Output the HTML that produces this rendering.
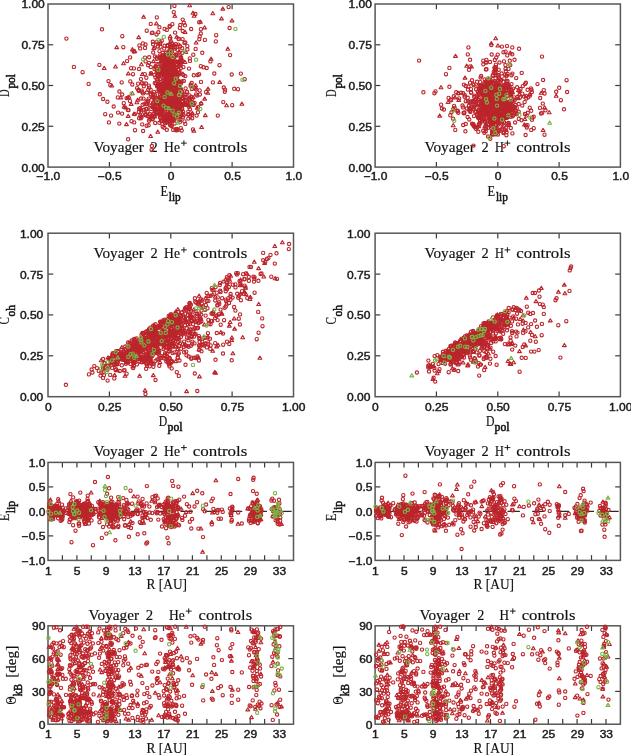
<!DOCTYPE html><html><head><meta charset="utf-8"><style>html,body{margin:0;padding:0;background:#fff;overflow:hidden}svg{display:block;filter:blur(0.35px)}</style></head><body><svg width="631" height="755" viewBox="0 0 631 755"><defs><marker id="rc" markerUnits="userSpaceOnUse" markerWidth="8" markerHeight="8" refX="4" refY="4" overflow="visible"><circle cx="4" cy="4" r="1.65" fill="none" stroke="#bb252b" stroke-width="1.1"/></marker><marker id="rt" markerUnits="userSpaceOnUse" markerWidth="8" markerHeight="8" refX="4" refY="4" overflow="visible"><path d="M4 2.25L5.9 5.4H2.1Z" fill="none" stroke="#bb252b" stroke-width="1.1" stroke-linejoin="round"/></marker><marker id="gc" markerUnits="userSpaceOnUse" markerWidth="8" markerHeight="8" refX="4" refY="4" overflow="visible"><circle cx="4" cy="4" r="1.65" fill="none" stroke="#78b446" stroke-width="1.1"/></marker><marker id="gt" markerUnits="userSpaceOnUse" markerWidth="8" markerHeight="8" refX="4" refY="4" overflow="visible"><path d="M4 2.25L5.9 5.4H2.1Z" fill="none" stroke="#78b446" stroke-width="1.1" stroke-linejoin="round"/></marker></defs><rect width="631" height="755" fill="#fff"/><line x1="375.1" y1="511.4" x2="620.4" y2="511.4" stroke="#2a2a2a" stroke-width="1.1" stroke-dasharray="12.4 12.3" stroke-dashoffset="15.8"/><line x1="48" y1="511.4" x2="293.5" y2="511.4" stroke="#2a2a2a" stroke-width="1.1" stroke-dasharray="12.4 12.3" stroke-dashoffset="15.8"/><line x1="109.4" y1="167.1" x2="109.4" y2="161.9" stroke="#3a3a3a" stroke-width="1.2"/><line x1="109.4" y1="4" x2="109.4" y2="9.2" stroke="#3a3a3a" stroke-width="1.2"/><line x1="170.8" y1="167.1" x2="170.8" y2="161.9" stroke="#3a3a3a" stroke-width="1.2"/><line x1="170.8" y1="4" x2="170.8" y2="9.2" stroke="#3a3a3a" stroke-width="1.2"/><line x1="232.1" y1="167.1" x2="232.1" y2="161.9" stroke="#3a3a3a" stroke-width="1.2"/><line x1="232.1" y1="4" x2="232.1" y2="9.2" stroke="#3a3a3a" stroke-width="1.2"/><line x1="48" y1="126.3" x2="53.2" y2="126.3" stroke="#3a3a3a" stroke-width="1.2"/><line x1="293.5" y1="126.3" x2="288.3" y2="126.3" stroke="#3a3a3a" stroke-width="1.2"/><line x1="48" y1="85.5" x2="53.2" y2="85.5" stroke="#3a3a3a" stroke-width="1.2"/><line x1="293.5" y1="85.5" x2="288.3" y2="85.5" stroke="#3a3a3a" stroke-width="1.2"/><line x1="48" y1="44.8" x2="53.2" y2="44.8" stroke="#3a3a3a" stroke-width="1.2"/><line x1="293.5" y1="44.8" x2="288.3" y2="44.8" stroke="#3a3a3a" stroke-width="1.2"/><rect x="48" y="4" width="245.5" height="163.1" fill="none" stroke="#555853" stroke-width="1.5"/><line x1="109.4" y1="396.7" x2="109.4" y2="391.5" stroke="#3a3a3a" stroke-width="1.2"/><line x1="109.4" y1="233.2" x2="109.4" y2="238.4" stroke="#3a3a3a" stroke-width="1.2"/><line x1="170.8" y1="396.7" x2="170.8" y2="391.5" stroke="#3a3a3a" stroke-width="1.2"/><line x1="170.8" y1="233.2" x2="170.8" y2="238.4" stroke="#3a3a3a" stroke-width="1.2"/><line x1="232.1" y1="396.7" x2="232.1" y2="391.5" stroke="#3a3a3a" stroke-width="1.2"/><line x1="232.1" y1="233.2" x2="232.1" y2="238.4" stroke="#3a3a3a" stroke-width="1.2"/><line x1="48" y1="355.8" x2="53.2" y2="355.8" stroke="#3a3a3a" stroke-width="1.2"/><line x1="293.5" y1="355.8" x2="288.3" y2="355.8" stroke="#3a3a3a" stroke-width="1.2"/><line x1="48" y1="314.9" x2="53.2" y2="314.9" stroke="#3a3a3a" stroke-width="1.2"/><line x1="293.5" y1="314.9" x2="288.3" y2="314.9" stroke="#3a3a3a" stroke-width="1.2"/><line x1="48" y1="274.1" x2="53.2" y2="274.1" stroke="#3a3a3a" stroke-width="1.2"/><line x1="293.5" y1="274.1" x2="288.3" y2="274.1" stroke="#3a3a3a" stroke-width="1.2"/><rect x="48" y="233.2" width="245.5" height="163.5" fill="none" stroke="#555853" stroke-width="1.5"/><line x1="62.4" y1="560.4" x2="62.4" y2="555.2" stroke="#3a3a3a" stroke-width="1.2"/><line x1="62.4" y1="462.4" x2="62.4" y2="467.6" stroke="#3a3a3a" stroke-width="1.2"/><line x1="76.9" y1="560.4" x2="76.9" y2="555.2" stroke="#3a3a3a" stroke-width="1.2"/><line x1="76.9" y1="462.4" x2="76.9" y2="467.6" stroke="#3a3a3a" stroke-width="1.2"/><line x1="91.3" y1="560.4" x2="91.3" y2="555.2" stroke="#3a3a3a" stroke-width="1.2"/><line x1="91.3" y1="462.4" x2="91.3" y2="467.6" stroke="#3a3a3a" stroke-width="1.2"/><line x1="105.8" y1="560.4" x2="105.8" y2="555.2" stroke="#3a3a3a" stroke-width="1.2"/><line x1="105.8" y1="462.4" x2="105.8" y2="467.6" stroke="#3a3a3a" stroke-width="1.2"/><line x1="120.2" y1="560.4" x2="120.2" y2="555.2" stroke="#3a3a3a" stroke-width="1.2"/><line x1="120.2" y1="462.4" x2="120.2" y2="467.6" stroke="#3a3a3a" stroke-width="1.2"/><line x1="134.6" y1="560.4" x2="134.6" y2="555.2" stroke="#3a3a3a" stroke-width="1.2"/><line x1="134.6" y1="462.4" x2="134.6" y2="467.6" stroke="#3a3a3a" stroke-width="1.2"/><line x1="149.1" y1="560.4" x2="149.1" y2="555.2" stroke="#3a3a3a" stroke-width="1.2"/><line x1="149.1" y1="462.4" x2="149.1" y2="467.6" stroke="#3a3a3a" stroke-width="1.2"/><line x1="163.5" y1="560.4" x2="163.5" y2="555.2" stroke="#3a3a3a" stroke-width="1.2"/><line x1="163.5" y1="462.4" x2="163.5" y2="467.6" stroke="#3a3a3a" stroke-width="1.2"/><line x1="178" y1="560.4" x2="178" y2="555.2" stroke="#3a3a3a" stroke-width="1.2"/><line x1="178" y1="462.4" x2="178" y2="467.6" stroke="#3a3a3a" stroke-width="1.2"/><line x1="192.4" y1="560.4" x2="192.4" y2="555.2" stroke="#3a3a3a" stroke-width="1.2"/><line x1="192.4" y1="462.4" x2="192.4" y2="467.6" stroke="#3a3a3a" stroke-width="1.2"/><line x1="206.9" y1="560.4" x2="206.9" y2="555.2" stroke="#3a3a3a" stroke-width="1.2"/><line x1="206.9" y1="462.4" x2="206.9" y2="467.6" stroke="#3a3a3a" stroke-width="1.2"/><line x1="221.3" y1="560.4" x2="221.3" y2="555.2" stroke="#3a3a3a" stroke-width="1.2"/><line x1="221.3" y1="462.4" x2="221.3" y2="467.6" stroke="#3a3a3a" stroke-width="1.2"/><line x1="235.7" y1="560.4" x2="235.7" y2="555.2" stroke="#3a3a3a" stroke-width="1.2"/><line x1="235.7" y1="462.4" x2="235.7" y2="467.6" stroke="#3a3a3a" stroke-width="1.2"/><line x1="250.2" y1="560.4" x2="250.2" y2="555.2" stroke="#3a3a3a" stroke-width="1.2"/><line x1="250.2" y1="462.4" x2="250.2" y2="467.6" stroke="#3a3a3a" stroke-width="1.2"/><line x1="264.6" y1="560.4" x2="264.6" y2="555.2" stroke="#3a3a3a" stroke-width="1.2"/><line x1="264.6" y1="462.4" x2="264.6" y2="467.6" stroke="#3a3a3a" stroke-width="1.2"/><line x1="279.1" y1="560.4" x2="279.1" y2="555.2" stroke="#3a3a3a" stroke-width="1.2"/><line x1="279.1" y1="462.4" x2="279.1" y2="467.6" stroke="#3a3a3a" stroke-width="1.2"/><line x1="48" y1="535.9" x2="53.2" y2="535.9" stroke="#3a3a3a" stroke-width="1.2"/><line x1="293.5" y1="535.9" x2="288.3" y2="535.9" stroke="#3a3a3a" stroke-width="1.2"/><line x1="48" y1="486.9" x2="53.2" y2="486.9" stroke="#3a3a3a" stroke-width="1.2"/><line x1="293.5" y1="486.9" x2="288.3" y2="486.9" stroke="#3a3a3a" stroke-width="1.2"/><rect x="48" y="462.4" width="245.5" height="98" fill="none" stroke="#555853" stroke-width="1.5"/><line x1="62.4" y1="724.2" x2="62.4" y2="719" stroke="#3a3a3a" stroke-width="1.2"/><line x1="62.4" y1="625.8" x2="62.4" y2="631" stroke="#3a3a3a" stroke-width="1.2"/><line x1="76.9" y1="724.2" x2="76.9" y2="719" stroke="#3a3a3a" stroke-width="1.2"/><line x1="76.9" y1="625.8" x2="76.9" y2="631" stroke="#3a3a3a" stroke-width="1.2"/><line x1="91.3" y1="724.2" x2="91.3" y2="719" stroke="#3a3a3a" stroke-width="1.2"/><line x1="91.3" y1="625.8" x2="91.3" y2="631" stroke="#3a3a3a" stroke-width="1.2"/><line x1="105.8" y1="724.2" x2="105.8" y2="719" stroke="#3a3a3a" stroke-width="1.2"/><line x1="105.8" y1="625.8" x2="105.8" y2="631" stroke="#3a3a3a" stroke-width="1.2"/><line x1="120.2" y1="724.2" x2="120.2" y2="719" stroke="#3a3a3a" stroke-width="1.2"/><line x1="120.2" y1="625.8" x2="120.2" y2="631" stroke="#3a3a3a" stroke-width="1.2"/><line x1="134.6" y1="724.2" x2="134.6" y2="719" stroke="#3a3a3a" stroke-width="1.2"/><line x1="134.6" y1="625.8" x2="134.6" y2="631" stroke="#3a3a3a" stroke-width="1.2"/><line x1="149.1" y1="724.2" x2="149.1" y2="719" stroke="#3a3a3a" stroke-width="1.2"/><line x1="149.1" y1="625.8" x2="149.1" y2="631" stroke="#3a3a3a" stroke-width="1.2"/><line x1="163.5" y1="724.2" x2="163.5" y2="719" stroke="#3a3a3a" stroke-width="1.2"/><line x1="163.5" y1="625.8" x2="163.5" y2="631" stroke="#3a3a3a" stroke-width="1.2"/><line x1="178" y1="724.2" x2="178" y2="719" stroke="#3a3a3a" stroke-width="1.2"/><line x1="178" y1="625.8" x2="178" y2="631" stroke="#3a3a3a" stroke-width="1.2"/><line x1="192.4" y1="724.2" x2="192.4" y2="719" stroke="#3a3a3a" stroke-width="1.2"/><line x1="192.4" y1="625.8" x2="192.4" y2="631" stroke="#3a3a3a" stroke-width="1.2"/><line x1="206.9" y1="724.2" x2="206.9" y2="719" stroke="#3a3a3a" stroke-width="1.2"/><line x1="206.9" y1="625.8" x2="206.9" y2="631" stroke="#3a3a3a" stroke-width="1.2"/><line x1="221.3" y1="724.2" x2="221.3" y2="719" stroke="#3a3a3a" stroke-width="1.2"/><line x1="221.3" y1="625.8" x2="221.3" y2="631" stroke="#3a3a3a" stroke-width="1.2"/><line x1="235.7" y1="724.2" x2="235.7" y2="719" stroke="#3a3a3a" stroke-width="1.2"/><line x1="235.7" y1="625.8" x2="235.7" y2="631" stroke="#3a3a3a" stroke-width="1.2"/><line x1="250.2" y1="724.2" x2="250.2" y2="719" stroke="#3a3a3a" stroke-width="1.2"/><line x1="250.2" y1="625.8" x2="250.2" y2="631" stroke="#3a3a3a" stroke-width="1.2"/><line x1="264.6" y1="724.2" x2="264.6" y2="719" stroke="#3a3a3a" stroke-width="1.2"/><line x1="264.6" y1="625.8" x2="264.6" y2="631" stroke="#3a3a3a" stroke-width="1.2"/><line x1="279.1" y1="724.2" x2="279.1" y2="719" stroke="#3a3a3a" stroke-width="1.2"/><line x1="279.1" y1="625.8" x2="279.1" y2="631" stroke="#3a3a3a" stroke-width="1.2"/><line x1="48" y1="691.4" x2="53.2" y2="691.4" stroke="#3a3a3a" stroke-width="1.2"/><line x1="293.5" y1="691.4" x2="288.3" y2="691.4" stroke="#3a3a3a" stroke-width="1.2"/><line x1="48" y1="658.6" x2="53.2" y2="658.6" stroke="#3a3a3a" stroke-width="1.2"/><line x1="293.5" y1="658.6" x2="288.3" y2="658.6" stroke="#3a3a3a" stroke-width="1.2"/><rect x="48" y="625.8" width="245.5" height="98.4" fill="none" stroke="#555853" stroke-width="1.5"/><line x1="436.4" y1="167.1" x2="436.4" y2="161.9" stroke="#3a3a3a" stroke-width="1.2"/><line x1="436.4" y1="4" x2="436.4" y2="9.2" stroke="#3a3a3a" stroke-width="1.2"/><line x1="497.8" y1="167.1" x2="497.8" y2="161.9" stroke="#3a3a3a" stroke-width="1.2"/><line x1="497.8" y1="4" x2="497.8" y2="9.2" stroke="#3a3a3a" stroke-width="1.2"/><line x1="559.1" y1="167.1" x2="559.1" y2="161.9" stroke="#3a3a3a" stroke-width="1.2"/><line x1="559.1" y1="4" x2="559.1" y2="9.2" stroke="#3a3a3a" stroke-width="1.2"/><line x1="375.1" y1="126.3" x2="380.3" y2="126.3" stroke="#3a3a3a" stroke-width="1.2"/><line x1="620.4" y1="126.3" x2="615.2" y2="126.3" stroke="#3a3a3a" stroke-width="1.2"/><line x1="375.1" y1="85.5" x2="380.3" y2="85.5" stroke="#3a3a3a" stroke-width="1.2"/><line x1="620.4" y1="85.5" x2="615.2" y2="85.5" stroke="#3a3a3a" stroke-width="1.2"/><line x1="375.1" y1="44.8" x2="380.3" y2="44.8" stroke="#3a3a3a" stroke-width="1.2"/><line x1="620.4" y1="44.8" x2="615.2" y2="44.8" stroke="#3a3a3a" stroke-width="1.2"/><rect x="375.1" y="4" width="245.3" height="163.1" fill="none" stroke="#555853" stroke-width="1.5"/><line x1="436.4" y1="396.7" x2="436.4" y2="391.5" stroke="#3a3a3a" stroke-width="1.2"/><line x1="436.4" y1="233.2" x2="436.4" y2="238.4" stroke="#3a3a3a" stroke-width="1.2"/><line x1="497.8" y1="396.7" x2="497.8" y2="391.5" stroke="#3a3a3a" stroke-width="1.2"/><line x1="497.8" y1="233.2" x2="497.8" y2="238.4" stroke="#3a3a3a" stroke-width="1.2"/><line x1="559.1" y1="396.7" x2="559.1" y2="391.5" stroke="#3a3a3a" stroke-width="1.2"/><line x1="559.1" y1="233.2" x2="559.1" y2="238.4" stroke="#3a3a3a" stroke-width="1.2"/><line x1="375.1" y1="355.8" x2="380.3" y2="355.8" stroke="#3a3a3a" stroke-width="1.2"/><line x1="620.4" y1="355.8" x2="615.2" y2="355.8" stroke="#3a3a3a" stroke-width="1.2"/><line x1="375.1" y1="314.9" x2="380.3" y2="314.9" stroke="#3a3a3a" stroke-width="1.2"/><line x1="620.4" y1="314.9" x2="615.2" y2="314.9" stroke="#3a3a3a" stroke-width="1.2"/><line x1="375.1" y1="274.1" x2="380.3" y2="274.1" stroke="#3a3a3a" stroke-width="1.2"/><line x1="620.4" y1="274.1" x2="615.2" y2="274.1" stroke="#3a3a3a" stroke-width="1.2"/><rect x="375.1" y="233.2" width="245.3" height="163.5" fill="none" stroke="#555853" stroke-width="1.5"/><line x1="389.5" y1="560.4" x2="389.5" y2="555.2" stroke="#3a3a3a" stroke-width="1.2"/><line x1="389.5" y1="462.4" x2="389.5" y2="467.6" stroke="#3a3a3a" stroke-width="1.2"/><line x1="404" y1="560.4" x2="404" y2="555.2" stroke="#3a3a3a" stroke-width="1.2"/><line x1="404" y1="462.4" x2="404" y2="467.6" stroke="#3a3a3a" stroke-width="1.2"/><line x1="418.4" y1="560.4" x2="418.4" y2="555.2" stroke="#3a3a3a" stroke-width="1.2"/><line x1="418.4" y1="462.4" x2="418.4" y2="467.6" stroke="#3a3a3a" stroke-width="1.2"/><line x1="432.8" y1="560.4" x2="432.8" y2="555.2" stroke="#3a3a3a" stroke-width="1.2"/><line x1="432.8" y1="462.4" x2="432.8" y2="467.6" stroke="#3a3a3a" stroke-width="1.2"/><line x1="447.2" y1="560.4" x2="447.2" y2="555.2" stroke="#3a3a3a" stroke-width="1.2"/><line x1="447.2" y1="462.4" x2="447.2" y2="467.6" stroke="#3a3a3a" stroke-width="1.2"/><line x1="461.7" y1="560.4" x2="461.7" y2="555.2" stroke="#3a3a3a" stroke-width="1.2"/><line x1="461.7" y1="462.4" x2="461.7" y2="467.6" stroke="#3a3a3a" stroke-width="1.2"/><line x1="476.1" y1="560.4" x2="476.1" y2="555.2" stroke="#3a3a3a" stroke-width="1.2"/><line x1="476.1" y1="462.4" x2="476.1" y2="467.6" stroke="#3a3a3a" stroke-width="1.2"/><line x1="490.5" y1="560.4" x2="490.5" y2="555.2" stroke="#3a3a3a" stroke-width="1.2"/><line x1="490.5" y1="462.4" x2="490.5" y2="467.6" stroke="#3a3a3a" stroke-width="1.2"/><line x1="505" y1="560.4" x2="505" y2="555.2" stroke="#3a3a3a" stroke-width="1.2"/><line x1="505" y1="462.4" x2="505" y2="467.6" stroke="#3a3a3a" stroke-width="1.2"/><line x1="519.4" y1="560.4" x2="519.4" y2="555.2" stroke="#3a3a3a" stroke-width="1.2"/><line x1="519.4" y1="462.4" x2="519.4" y2="467.6" stroke="#3a3a3a" stroke-width="1.2"/><line x1="533.8" y1="560.4" x2="533.8" y2="555.2" stroke="#3a3a3a" stroke-width="1.2"/><line x1="533.8" y1="462.4" x2="533.8" y2="467.6" stroke="#3a3a3a" stroke-width="1.2"/><line x1="548.3" y1="560.4" x2="548.3" y2="555.2" stroke="#3a3a3a" stroke-width="1.2"/><line x1="548.3" y1="462.4" x2="548.3" y2="467.6" stroke="#3a3a3a" stroke-width="1.2"/><line x1="562.7" y1="560.4" x2="562.7" y2="555.2" stroke="#3a3a3a" stroke-width="1.2"/><line x1="562.7" y1="462.4" x2="562.7" y2="467.6" stroke="#3a3a3a" stroke-width="1.2"/><line x1="577.1" y1="560.4" x2="577.1" y2="555.2" stroke="#3a3a3a" stroke-width="1.2"/><line x1="577.1" y1="462.4" x2="577.1" y2="467.6" stroke="#3a3a3a" stroke-width="1.2"/><line x1="591.5" y1="560.4" x2="591.5" y2="555.2" stroke="#3a3a3a" stroke-width="1.2"/><line x1="591.5" y1="462.4" x2="591.5" y2="467.6" stroke="#3a3a3a" stroke-width="1.2"/><line x1="606" y1="560.4" x2="606" y2="555.2" stroke="#3a3a3a" stroke-width="1.2"/><line x1="606" y1="462.4" x2="606" y2="467.6" stroke="#3a3a3a" stroke-width="1.2"/><line x1="375.1" y1="535.9" x2="380.3" y2="535.9" stroke="#3a3a3a" stroke-width="1.2"/><line x1="620.4" y1="535.9" x2="615.2" y2="535.9" stroke="#3a3a3a" stroke-width="1.2"/><line x1="375.1" y1="486.9" x2="380.3" y2="486.9" stroke="#3a3a3a" stroke-width="1.2"/><line x1="620.4" y1="486.9" x2="615.2" y2="486.9" stroke="#3a3a3a" stroke-width="1.2"/><rect x="375.1" y="462.4" width="245.3" height="98" fill="none" stroke="#555853" stroke-width="1.5"/><line x1="389.5" y1="724.2" x2="389.5" y2="719" stroke="#3a3a3a" stroke-width="1.2"/><line x1="389.5" y1="625.8" x2="389.5" y2="631" stroke="#3a3a3a" stroke-width="1.2"/><line x1="404" y1="724.2" x2="404" y2="719" stroke="#3a3a3a" stroke-width="1.2"/><line x1="404" y1="625.8" x2="404" y2="631" stroke="#3a3a3a" stroke-width="1.2"/><line x1="418.4" y1="724.2" x2="418.4" y2="719" stroke="#3a3a3a" stroke-width="1.2"/><line x1="418.4" y1="625.8" x2="418.4" y2="631" stroke="#3a3a3a" stroke-width="1.2"/><line x1="432.8" y1="724.2" x2="432.8" y2="719" stroke="#3a3a3a" stroke-width="1.2"/><line x1="432.8" y1="625.8" x2="432.8" y2="631" stroke="#3a3a3a" stroke-width="1.2"/><line x1="447.2" y1="724.2" x2="447.2" y2="719" stroke="#3a3a3a" stroke-width="1.2"/><line x1="447.2" y1="625.8" x2="447.2" y2="631" stroke="#3a3a3a" stroke-width="1.2"/><line x1="461.7" y1="724.2" x2="461.7" y2="719" stroke="#3a3a3a" stroke-width="1.2"/><line x1="461.7" y1="625.8" x2="461.7" y2="631" stroke="#3a3a3a" stroke-width="1.2"/><line x1="476.1" y1="724.2" x2="476.1" y2="719" stroke="#3a3a3a" stroke-width="1.2"/><line x1="476.1" y1="625.8" x2="476.1" y2="631" stroke="#3a3a3a" stroke-width="1.2"/><line x1="490.5" y1="724.2" x2="490.5" y2="719" stroke="#3a3a3a" stroke-width="1.2"/><line x1="490.5" y1="625.8" x2="490.5" y2="631" stroke="#3a3a3a" stroke-width="1.2"/><line x1="505" y1="724.2" x2="505" y2="719" stroke="#3a3a3a" stroke-width="1.2"/><line x1="505" y1="625.8" x2="505" y2="631" stroke="#3a3a3a" stroke-width="1.2"/><line x1="519.4" y1="724.2" x2="519.4" y2="719" stroke="#3a3a3a" stroke-width="1.2"/><line x1="519.4" y1="625.8" x2="519.4" y2="631" stroke="#3a3a3a" stroke-width="1.2"/><line x1="533.8" y1="724.2" x2="533.8" y2="719" stroke="#3a3a3a" stroke-width="1.2"/><line x1="533.8" y1="625.8" x2="533.8" y2="631" stroke="#3a3a3a" stroke-width="1.2"/><line x1="548.3" y1="724.2" x2="548.3" y2="719" stroke="#3a3a3a" stroke-width="1.2"/><line x1="548.3" y1="625.8" x2="548.3" y2="631" stroke="#3a3a3a" stroke-width="1.2"/><line x1="562.7" y1="724.2" x2="562.7" y2="719" stroke="#3a3a3a" stroke-width="1.2"/><line x1="562.7" y1="625.8" x2="562.7" y2="631" stroke="#3a3a3a" stroke-width="1.2"/><line x1="577.1" y1="724.2" x2="577.1" y2="719" stroke="#3a3a3a" stroke-width="1.2"/><line x1="577.1" y1="625.8" x2="577.1" y2="631" stroke="#3a3a3a" stroke-width="1.2"/><line x1="591.5" y1="724.2" x2="591.5" y2="719" stroke="#3a3a3a" stroke-width="1.2"/><line x1="591.5" y1="625.8" x2="591.5" y2="631" stroke="#3a3a3a" stroke-width="1.2"/><line x1="606" y1="724.2" x2="606" y2="719" stroke="#3a3a3a" stroke-width="1.2"/><line x1="606" y1="625.8" x2="606" y2="631" stroke="#3a3a3a" stroke-width="1.2"/><line x1="375.1" y1="691.4" x2="380.3" y2="691.4" stroke="#3a3a3a" stroke-width="1.2"/><line x1="620.4" y1="691.4" x2="615.2" y2="691.4" stroke="#3a3a3a" stroke-width="1.2"/><line x1="375.1" y1="658.6" x2="380.3" y2="658.6" stroke="#3a3a3a" stroke-width="1.2"/><line x1="620.4" y1="658.6" x2="615.2" y2="658.6" stroke="#3a3a3a" stroke-width="1.2"/><rect x="375.1" y="625.8" width="245.3" height="98.4" fill="none" stroke="#555853" stroke-width="1.5"/><text x="48.4" y="180.2" text-anchor="middle" font-family="Liberation Sans, sans-serif" font-size="10" fill="#1a1a1a" stroke="#1a1a1a" stroke-width="0.4" textLength="23.7" lengthAdjust="spacingAndGlyphs">−1.0</text><text x="109.8" y="180.2" text-anchor="middle" font-family="Liberation Sans, sans-serif" font-size="10" fill="#1a1a1a" stroke="#1a1a1a" stroke-width="0.4" textLength="23.7" lengthAdjust="spacingAndGlyphs">−0.5</text><text x="171.2" y="180.2" text-anchor="middle" font-family="Liberation Sans, sans-serif" font-size="10" fill="#1a1a1a" stroke="#1a1a1a" stroke-width="0.4" textLength="6.7" lengthAdjust="spacingAndGlyphs">0</text><text x="232.5" y="180.2" text-anchor="middle" font-family="Liberation Sans, sans-serif" font-size="10" fill="#1a1a1a" stroke="#1a1a1a" stroke-width="0.4" textLength="16.7" lengthAdjust="spacingAndGlyphs">0.5</text><text x="293.9" y="180.2" text-anchor="middle" font-family="Liberation Sans, sans-serif" font-size="10" fill="#1a1a1a" stroke="#1a1a1a" stroke-width="0.4" textLength="16.7" lengthAdjust="spacingAndGlyphs">1.0</text><text x="44.8" y="171.5" text-anchor="end" font-family="Liberation Sans, sans-serif" font-size="10" fill="#1a1a1a" stroke="#1a1a1a" stroke-width="0.4" textLength="23.4" lengthAdjust="spacingAndGlyphs">0.00</text><text x="44.8" y="130.8" text-anchor="end" font-family="Liberation Sans, sans-serif" font-size="10" fill="#1a1a1a" stroke="#1a1a1a" stroke-width="0.4" textLength="23.4" lengthAdjust="spacingAndGlyphs">0.25</text><text x="44.8" y="90" text-anchor="end" font-family="Liberation Sans, sans-serif" font-size="10" fill="#1a1a1a" stroke="#1a1a1a" stroke-width="0.4" textLength="23.4" lengthAdjust="spacingAndGlyphs">0.50</text><text x="44.8" y="49.2" text-anchor="end" font-family="Liberation Sans, sans-serif" font-size="10" fill="#1a1a1a" stroke="#1a1a1a" stroke-width="0.4" textLength="23.4" lengthAdjust="spacingAndGlyphs">0.75</text><text x="44.8" y="8.4" text-anchor="end" font-family="Liberation Sans, sans-serif" font-size="10" fill="#1a1a1a" stroke="#1a1a1a" stroke-width="0.4" textLength="23.4" lengthAdjust="spacingAndGlyphs">1.00</text><text x="48.3" y="410.7" text-anchor="middle" font-family="Liberation Sans, sans-serif" font-size="10" fill="#1a1a1a" stroke="#1a1a1a" stroke-width="0.4" textLength="6.7" lengthAdjust="spacingAndGlyphs">0</text><text x="109.7" y="410.7" text-anchor="middle" font-family="Liberation Sans, sans-serif" font-size="10" fill="#1a1a1a" stroke="#1a1a1a" stroke-width="0.4" textLength="23.4" lengthAdjust="spacingAndGlyphs">0.25</text><text x="171.1" y="410.7" text-anchor="middle" font-family="Liberation Sans, sans-serif" font-size="10" fill="#1a1a1a" stroke="#1a1a1a" stroke-width="0.4" textLength="23.4" lengthAdjust="spacingAndGlyphs">0.50</text><text x="232.4" y="410.7" text-anchor="middle" font-family="Liberation Sans, sans-serif" font-size="10" fill="#1a1a1a" stroke="#1a1a1a" stroke-width="0.4" textLength="23.4" lengthAdjust="spacingAndGlyphs">0.75</text><text x="293.8" y="410.7" text-anchor="middle" font-family="Liberation Sans, sans-serif" font-size="10" fill="#1a1a1a" stroke="#1a1a1a" stroke-width="0.4" textLength="23.4" lengthAdjust="spacingAndGlyphs">1.00</text><text x="43.3" y="401.1" text-anchor="end" font-family="Liberation Sans, sans-serif" font-size="10" fill="#1a1a1a" stroke="#1a1a1a" stroke-width="0.4" textLength="23.4" lengthAdjust="spacingAndGlyphs">0.00</text><text x="43.3" y="360.3" text-anchor="end" font-family="Liberation Sans, sans-serif" font-size="10" fill="#1a1a1a" stroke="#1a1a1a" stroke-width="0.4" textLength="23.4" lengthAdjust="spacingAndGlyphs">0.25</text><text x="43.3" y="319.4" text-anchor="end" font-family="Liberation Sans, sans-serif" font-size="10" fill="#1a1a1a" stroke="#1a1a1a" stroke-width="0.4" textLength="23.4" lengthAdjust="spacingAndGlyphs">0.50</text><text x="43.3" y="278.5" text-anchor="end" font-family="Liberation Sans, sans-serif" font-size="10" fill="#1a1a1a" stroke="#1a1a1a" stroke-width="0.4" textLength="23.4" lengthAdjust="spacingAndGlyphs">0.75</text><text x="43.3" y="237.6" text-anchor="end" font-family="Liberation Sans, sans-serif" font-size="10" fill="#1a1a1a" stroke="#1a1a1a" stroke-width="0.4" textLength="23.4" lengthAdjust="spacingAndGlyphs">1.00</text><text x="48.3" y="574.6" text-anchor="middle" font-family="Liberation Sans, sans-serif" font-size="10" fill="#1a1a1a" stroke="#1a1a1a" stroke-width="0.4" textLength="6.7" lengthAdjust="spacingAndGlyphs">1</text><text x="77.2" y="574.6" text-anchor="middle" font-family="Liberation Sans, sans-serif" font-size="10" fill="#1a1a1a" stroke="#1a1a1a" stroke-width="0.4" textLength="6.7" lengthAdjust="spacingAndGlyphs">5</text><text x="106.1" y="574.6" text-anchor="middle" font-family="Liberation Sans, sans-serif" font-size="10" fill="#1a1a1a" stroke="#1a1a1a" stroke-width="0.4" textLength="6.7" lengthAdjust="spacingAndGlyphs">9</text><text x="134.9" y="574.6" text-anchor="middle" font-family="Liberation Sans, sans-serif" font-size="10" fill="#1a1a1a" stroke="#1a1a1a" stroke-width="0.4" textLength="13.3" lengthAdjust="spacingAndGlyphs">13</text><text x="163.8" y="574.6" text-anchor="middle" font-family="Liberation Sans, sans-serif" font-size="10" fill="#1a1a1a" stroke="#1a1a1a" stroke-width="0.4" textLength="13.3" lengthAdjust="spacingAndGlyphs">17</text><text x="192.7" y="574.6" text-anchor="middle" font-family="Liberation Sans, sans-serif" font-size="10" fill="#1a1a1a" stroke="#1a1a1a" stroke-width="0.4" textLength="13.3" lengthAdjust="spacingAndGlyphs">21</text><text x="221.6" y="574.6" text-anchor="middle" font-family="Liberation Sans, sans-serif" font-size="10" fill="#1a1a1a" stroke="#1a1a1a" stroke-width="0.4" textLength="13.3" lengthAdjust="spacingAndGlyphs">25</text><text x="250.5" y="574.6" text-anchor="middle" font-family="Liberation Sans, sans-serif" font-size="10" fill="#1a1a1a" stroke="#1a1a1a" stroke-width="0.4" textLength="13.3" lengthAdjust="spacingAndGlyphs">29</text><text x="279.4" y="574.6" text-anchor="middle" font-family="Liberation Sans, sans-serif" font-size="10" fill="#1a1a1a" stroke="#1a1a1a" stroke-width="0.4" textLength="13.3" lengthAdjust="spacingAndGlyphs">33</text><text x="45.4" y="564.9" text-anchor="end" font-family="Liberation Sans, sans-serif" font-size="10" fill="#1a1a1a" stroke="#1a1a1a" stroke-width="0.4" textLength="23.7" lengthAdjust="spacingAndGlyphs">−1.0</text><text x="45.4" y="540.4" text-anchor="end" font-family="Liberation Sans, sans-serif" font-size="10" fill="#1a1a1a" stroke="#1a1a1a" stroke-width="0.4" textLength="23.7" lengthAdjust="spacingAndGlyphs">−0.5</text><text x="45.4" y="515.9" text-anchor="end" font-family="Liberation Sans, sans-serif" font-size="10" fill="#1a1a1a" stroke="#1a1a1a" stroke-width="0.4" textLength="16.7" lengthAdjust="spacingAndGlyphs">0.0</text><text x="45.4" y="491.3" text-anchor="end" font-family="Liberation Sans, sans-serif" font-size="10" fill="#1a1a1a" stroke="#1a1a1a" stroke-width="0.4" textLength="16.7" lengthAdjust="spacingAndGlyphs">0.5</text><text x="45.4" y="466.8" text-anchor="end" font-family="Liberation Sans, sans-serif" font-size="10" fill="#1a1a1a" stroke="#1a1a1a" stroke-width="0.4" textLength="16.7" lengthAdjust="spacingAndGlyphs">1.0</text><text x="48.3" y="738.1" text-anchor="middle" font-family="Liberation Sans, sans-serif" font-size="10" fill="#1a1a1a" stroke="#1a1a1a" stroke-width="0.4" textLength="6.7" lengthAdjust="spacingAndGlyphs">1</text><text x="77.2" y="738.1" text-anchor="middle" font-family="Liberation Sans, sans-serif" font-size="10" fill="#1a1a1a" stroke="#1a1a1a" stroke-width="0.4" textLength="6.7" lengthAdjust="spacingAndGlyphs">5</text><text x="106.1" y="738.1" text-anchor="middle" font-family="Liberation Sans, sans-serif" font-size="10" fill="#1a1a1a" stroke="#1a1a1a" stroke-width="0.4" textLength="6.7" lengthAdjust="spacingAndGlyphs">9</text><text x="134.9" y="738.1" text-anchor="middle" font-family="Liberation Sans, sans-serif" font-size="10" fill="#1a1a1a" stroke="#1a1a1a" stroke-width="0.4" textLength="13.3" lengthAdjust="spacingAndGlyphs">13</text><text x="163.8" y="738.1" text-anchor="middle" font-family="Liberation Sans, sans-serif" font-size="10" fill="#1a1a1a" stroke="#1a1a1a" stroke-width="0.4" textLength="13.3" lengthAdjust="spacingAndGlyphs">17</text><text x="192.7" y="738.1" text-anchor="middle" font-family="Liberation Sans, sans-serif" font-size="10" fill="#1a1a1a" stroke="#1a1a1a" stroke-width="0.4" textLength="13.3" lengthAdjust="spacingAndGlyphs">21</text><text x="221.6" y="738.1" text-anchor="middle" font-family="Liberation Sans, sans-serif" font-size="10" fill="#1a1a1a" stroke="#1a1a1a" stroke-width="0.4" textLength="13.3" lengthAdjust="spacingAndGlyphs">25</text><text x="250.5" y="738.1" text-anchor="middle" font-family="Liberation Sans, sans-serif" font-size="10" fill="#1a1a1a" stroke="#1a1a1a" stroke-width="0.4" textLength="13.3" lengthAdjust="spacingAndGlyphs">29</text><text x="279.4" y="738.1" text-anchor="middle" font-family="Liberation Sans, sans-serif" font-size="10" fill="#1a1a1a" stroke="#1a1a1a" stroke-width="0.4" textLength="13.3" lengthAdjust="spacingAndGlyphs">33</text><text x="45.4" y="728.7" text-anchor="end" font-family="Liberation Sans, sans-serif" font-size="10" fill="#1a1a1a" stroke="#1a1a1a" stroke-width="0.4" textLength="6.7" lengthAdjust="spacingAndGlyphs">0</text><text x="45.4" y="695.9" text-anchor="end" font-family="Liberation Sans, sans-serif" font-size="10" fill="#1a1a1a" stroke="#1a1a1a" stroke-width="0.4" textLength="13.3" lengthAdjust="spacingAndGlyphs">30</text><text x="45.4" y="663.1" text-anchor="end" font-family="Liberation Sans, sans-serif" font-size="10" fill="#1a1a1a" stroke="#1a1a1a" stroke-width="0.4" textLength="13.3" lengthAdjust="spacingAndGlyphs">60</text><text x="45.4" y="630.2" text-anchor="end" font-family="Liberation Sans, sans-serif" font-size="10" fill="#1a1a1a" stroke="#1a1a1a" stroke-width="0.4" textLength="13.3" lengthAdjust="spacingAndGlyphs">90</text><text x="375.5" y="180.2" text-anchor="middle" font-family="Liberation Sans, sans-serif" font-size="10" fill="#1a1a1a" stroke="#1a1a1a" stroke-width="0.4" textLength="23.7" lengthAdjust="spacingAndGlyphs">−1.0</text><text x="436.8" y="180.2" text-anchor="middle" font-family="Liberation Sans, sans-serif" font-size="10" fill="#1a1a1a" stroke="#1a1a1a" stroke-width="0.4" textLength="23.7" lengthAdjust="spacingAndGlyphs">−0.5</text><text x="498.1" y="180.2" text-anchor="middle" font-family="Liberation Sans, sans-serif" font-size="10" fill="#1a1a1a" stroke="#1a1a1a" stroke-width="0.4" textLength="6.7" lengthAdjust="spacingAndGlyphs">0</text><text x="559.5" y="180.2" text-anchor="middle" font-family="Liberation Sans, sans-serif" font-size="10" fill="#1a1a1a" stroke="#1a1a1a" stroke-width="0.4" textLength="16.7" lengthAdjust="spacingAndGlyphs">0.5</text><text x="620.8" y="180.2" text-anchor="middle" font-family="Liberation Sans, sans-serif" font-size="10" fill="#1a1a1a" stroke="#1a1a1a" stroke-width="0.4" textLength="16.7" lengthAdjust="spacingAndGlyphs">1.0</text><text x="371.9" y="171.5" text-anchor="end" font-family="Liberation Sans, sans-serif" font-size="10" fill="#1a1a1a" stroke="#1a1a1a" stroke-width="0.4" textLength="23.4" lengthAdjust="spacingAndGlyphs">0.00</text><text x="371.9" y="130.8" text-anchor="end" font-family="Liberation Sans, sans-serif" font-size="10" fill="#1a1a1a" stroke="#1a1a1a" stroke-width="0.4" textLength="23.4" lengthAdjust="spacingAndGlyphs">0.25</text><text x="371.9" y="90" text-anchor="end" font-family="Liberation Sans, sans-serif" font-size="10" fill="#1a1a1a" stroke="#1a1a1a" stroke-width="0.4" textLength="23.4" lengthAdjust="spacingAndGlyphs">0.50</text><text x="371.9" y="49.2" text-anchor="end" font-family="Liberation Sans, sans-serif" font-size="10" fill="#1a1a1a" stroke="#1a1a1a" stroke-width="0.4" textLength="23.4" lengthAdjust="spacingAndGlyphs">0.75</text><text x="371.9" y="8.4" text-anchor="end" font-family="Liberation Sans, sans-serif" font-size="10" fill="#1a1a1a" stroke="#1a1a1a" stroke-width="0.4" textLength="23.4" lengthAdjust="spacingAndGlyphs">1.00</text><text x="375.4" y="410.7" text-anchor="middle" font-family="Liberation Sans, sans-serif" font-size="10" fill="#1a1a1a" stroke="#1a1a1a" stroke-width="0.4" textLength="6.7" lengthAdjust="spacingAndGlyphs">0</text><text x="436.7" y="410.7" text-anchor="middle" font-family="Liberation Sans, sans-serif" font-size="10" fill="#1a1a1a" stroke="#1a1a1a" stroke-width="0.4" textLength="23.4" lengthAdjust="spacingAndGlyphs">0.25</text><text x="498.1" y="410.7" text-anchor="middle" font-family="Liberation Sans, sans-serif" font-size="10" fill="#1a1a1a" stroke="#1a1a1a" stroke-width="0.4" textLength="23.4" lengthAdjust="spacingAndGlyphs">0.50</text><text x="559.4" y="410.7" text-anchor="middle" font-family="Liberation Sans, sans-serif" font-size="10" fill="#1a1a1a" stroke="#1a1a1a" stroke-width="0.4" textLength="23.4" lengthAdjust="spacingAndGlyphs">0.75</text><text x="620.7" y="410.7" text-anchor="middle" font-family="Liberation Sans, sans-serif" font-size="10" fill="#1a1a1a" stroke="#1a1a1a" stroke-width="0.4" textLength="23.4" lengthAdjust="spacingAndGlyphs">1.00</text><text x="370.4" y="401.1" text-anchor="end" font-family="Liberation Sans, sans-serif" font-size="10" fill="#1a1a1a" stroke="#1a1a1a" stroke-width="0.4" textLength="23.4" lengthAdjust="spacingAndGlyphs">0.00</text><text x="370.4" y="360.3" text-anchor="end" font-family="Liberation Sans, sans-serif" font-size="10" fill="#1a1a1a" stroke="#1a1a1a" stroke-width="0.4" textLength="23.4" lengthAdjust="spacingAndGlyphs">0.25</text><text x="370.4" y="319.4" text-anchor="end" font-family="Liberation Sans, sans-serif" font-size="10" fill="#1a1a1a" stroke="#1a1a1a" stroke-width="0.4" textLength="23.4" lengthAdjust="spacingAndGlyphs">0.50</text><text x="370.4" y="278.5" text-anchor="end" font-family="Liberation Sans, sans-serif" font-size="10" fill="#1a1a1a" stroke="#1a1a1a" stroke-width="0.4" textLength="23.4" lengthAdjust="spacingAndGlyphs">0.75</text><text x="370.4" y="237.6" text-anchor="end" font-family="Liberation Sans, sans-serif" font-size="10" fill="#1a1a1a" stroke="#1a1a1a" stroke-width="0.4" textLength="23.4" lengthAdjust="spacingAndGlyphs">1.00</text><text x="375.4" y="574.6" text-anchor="middle" font-family="Liberation Sans, sans-serif" font-size="10" fill="#1a1a1a" stroke="#1a1a1a" stroke-width="0.4" textLength="6.7" lengthAdjust="spacingAndGlyphs">1</text><text x="404.3" y="574.6" text-anchor="middle" font-family="Liberation Sans, sans-serif" font-size="10" fill="#1a1a1a" stroke="#1a1a1a" stroke-width="0.4" textLength="6.7" lengthAdjust="spacingAndGlyphs">5</text><text x="433.1" y="574.6" text-anchor="middle" font-family="Liberation Sans, sans-serif" font-size="10" fill="#1a1a1a" stroke="#1a1a1a" stroke-width="0.4" textLength="6.7" lengthAdjust="spacingAndGlyphs">9</text><text x="462" y="574.6" text-anchor="middle" font-family="Liberation Sans, sans-serif" font-size="10" fill="#1a1a1a" stroke="#1a1a1a" stroke-width="0.4" textLength="13.3" lengthAdjust="spacingAndGlyphs">13</text><text x="490.8" y="574.6" text-anchor="middle" font-family="Liberation Sans, sans-serif" font-size="10" fill="#1a1a1a" stroke="#1a1a1a" stroke-width="0.4" textLength="13.3" lengthAdjust="spacingAndGlyphs">17</text><text x="519.7" y="574.6" text-anchor="middle" font-family="Liberation Sans, sans-serif" font-size="10" fill="#1a1a1a" stroke="#1a1a1a" stroke-width="0.4" textLength="13.3" lengthAdjust="spacingAndGlyphs">21</text><text x="548.6" y="574.6" text-anchor="middle" font-family="Liberation Sans, sans-serif" font-size="10" fill="#1a1a1a" stroke="#1a1a1a" stroke-width="0.4" textLength="13.3" lengthAdjust="spacingAndGlyphs">25</text><text x="577.4" y="574.6" text-anchor="middle" font-family="Liberation Sans, sans-serif" font-size="10" fill="#1a1a1a" stroke="#1a1a1a" stroke-width="0.4" textLength="13.3" lengthAdjust="spacingAndGlyphs">29</text><text x="606.3" y="574.6" text-anchor="middle" font-family="Liberation Sans, sans-serif" font-size="10" fill="#1a1a1a" stroke="#1a1a1a" stroke-width="0.4" textLength="13.3" lengthAdjust="spacingAndGlyphs">33</text><text x="372.5" y="564.9" text-anchor="end" font-family="Liberation Sans, sans-serif" font-size="10" fill="#1a1a1a" stroke="#1a1a1a" stroke-width="0.4" textLength="23.7" lengthAdjust="spacingAndGlyphs">−1.0</text><text x="372.5" y="540.4" text-anchor="end" font-family="Liberation Sans, sans-serif" font-size="10" fill="#1a1a1a" stroke="#1a1a1a" stroke-width="0.4" textLength="23.7" lengthAdjust="spacingAndGlyphs">−0.5</text><text x="372.5" y="515.9" text-anchor="end" font-family="Liberation Sans, sans-serif" font-size="10" fill="#1a1a1a" stroke="#1a1a1a" stroke-width="0.4" textLength="16.7" lengthAdjust="spacingAndGlyphs">0.0</text><text x="372.5" y="491.3" text-anchor="end" font-family="Liberation Sans, sans-serif" font-size="10" fill="#1a1a1a" stroke="#1a1a1a" stroke-width="0.4" textLength="16.7" lengthAdjust="spacingAndGlyphs">0.5</text><text x="372.5" y="466.8" text-anchor="end" font-family="Liberation Sans, sans-serif" font-size="10" fill="#1a1a1a" stroke="#1a1a1a" stroke-width="0.4" textLength="16.7" lengthAdjust="spacingAndGlyphs">1.0</text><text x="375.4" y="738.1" text-anchor="middle" font-family="Liberation Sans, sans-serif" font-size="10" fill="#1a1a1a" stroke="#1a1a1a" stroke-width="0.4" textLength="6.7" lengthAdjust="spacingAndGlyphs">1</text><text x="404.3" y="738.1" text-anchor="middle" font-family="Liberation Sans, sans-serif" font-size="10" fill="#1a1a1a" stroke="#1a1a1a" stroke-width="0.4" textLength="6.7" lengthAdjust="spacingAndGlyphs">5</text><text x="433.1" y="738.1" text-anchor="middle" font-family="Liberation Sans, sans-serif" font-size="10" fill="#1a1a1a" stroke="#1a1a1a" stroke-width="0.4" textLength="6.7" lengthAdjust="spacingAndGlyphs">9</text><text x="462" y="738.1" text-anchor="middle" font-family="Liberation Sans, sans-serif" font-size="10" fill="#1a1a1a" stroke="#1a1a1a" stroke-width="0.4" textLength="13.3" lengthAdjust="spacingAndGlyphs">13</text><text x="490.8" y="738.1" text-anchor="middle" font-family="Liberation Sans, sans-serif" font-size="10" fill="#1a1a1a" stroke="#1a1a1a" stroke-width="0.4" textLength="13.3" lengthAdjust="spacingAndGlyphs">17</text><text x="519.7" y="738.1" text-anchor="middle" font-family="Liberation Sans, sans-serif" font-size="10" fill="#1a1a1a" stroke="#1a1a1a" stroke-width="0.4" textLength="13.3" lengthAdjust="spacingAndGlyphs">21</text><text x="548.6" y="738.1" text-anchor="middle" font-family="Liberation Sans, sans-serif" font-size="10" fill="#1a1a1a" stroke="#1a1a1a" stroke-width="0.4" textLength="13.3" lengthAdjust="spacingAndGlyphs">25</text><text x="577.4" y="738.1" text-anchor="middle" font-family="Liberation Sans, sans-serif" font-size="10" fill="#1a1a1a" stroke="#1a1a1a" stroke-width="0.4" textLength="13.3" lengthAdjust="spacingAndGlyphs">29</text><text x="606.3" y="738.1" text-anchor="middle" font-family="Liberation Sans, sans-serif" font-size="10" fill="#1a1a1a" stroke="#1a1a1a" stroke-width="0.4" textLength="13.3" lengthAdjust="spacingAndGlyphs">33</text><text x="372.5" y="728.7" text-anchor="end" font-family="Liberation Sans, sans-serif" font-size="10" fill="#1a1a1a" stroke="#1a1a1a" stroke-width="0.4" textLength="6.7" lengthAdjust="spacingAndGlyphs">0</text><text x="372.5" y="695.9" text-anchor="end" font-family="Liberation Sans, sans-serif" font-size="10" fill="#1a1a1a" stroke="#1a1a1a" stroke-width="0.4" textLength="13.3" lengthAdjust="spacingAndGlyphs">30</text><text x="372.5" y="663.1" text-anchor="end" font-family="Liberation Sans, sans-serif" font-size="10" fill="#1a1a1a" stroke="#1a1a1a" stroke-width="0.4" textLength="13.3" lengthAdjust="spacingAndGlyphs">60</text><text x="372.5" y="630.2" text-anchor="end" font-family="Liberation Sans, sans-serif" font-size="10" fill="#1a1a1a" stroke="#1a1a1a" stroke-width="0.4" textLength="13.3" lengthAdjust="spacingAndGlyphs">90</text><text x="93.5" y="151.5" font-size="13.9" textLength="50.4" font-family="Liberation Serif, serif" fill="#111" stroke="#111" lengthAdjust="spacingAndGlyphs" stroke-width="0.15">Voyager</text><text x="150.6" y="151.5" font-size="13.9" textLength="7.2" font-family="Liberation Serif, serif" fill="#111" stroke="#111" lengthAdjust="spacingAndGlyphs" stroke-width="0.15">2</text><text x="164.1" y="151.5" font-size="13.9" textLength="15.9" font-family="Liberation Serif, serif" fill="#111" stroke="#111" lengthAdjust="spacingAndGlyphs" stroke-width="0.15">He</text><path d="M181 143.1h5.8M183.9 140.4v5.4" stroke="#111" stroke-width="0.95"/><text x="192.8" y="151.5" font-size="13.9" textLength="54.6" font-family="Liberation Serif, serif" fill="#111" stroke="#111" lengthAdjust="spacingAndGlyphs" stroke-width="0.15">controls</text><text x="424.5" y="151.5" font-size="13.9" textLength="50.4" font-family="Liberation Serif, serif" fill="#111" stroke="#111" lengthAdjust="spacingAndGlyphs" stroke-width="0.15">Voyager</text><text x="481.6" y="151.5" font-size="13.9" textLength="7.2" font-family="Liberation Serif, serif" fill="#111" stroke="#111" lengthAdjust="spacingAndGlyphs" stroke-width="0.15">2</text><text x="495.1" y="151.5" font-size="13.9" textLength="8.9" font-family="Liberation Serif, serif" fill="#111" stroke="#111" lengthAdjust="spacingAndGlyphs" stroke-width="0.15">H</text><path d="M504.5 143.1h5.8M507.4 140.4v5.4" stroke="#111" stroke-width="0.95"/><text x="516.3" y="151.5" font-size="13.9" textLength="54.2" font-family="Liberation Serif, serif" fill="#111" stroke="#111" lengthAdjust="spacingAndGlyphs" stroke-width="0.15">controls</text><text x="93.5" y="258.3" font-size="13.9" textLength="50.4" font-family="Liberation Serif, serif" fill="#111" stroke="#111" lengthAdjust="spacingAndGlyphs" stroke-width="0.15">Voyager</text><text x="150.6" y="258.3" font-size="13.9" textLength="7.2" font-family="Liberation Serif, serif" fill="#111" stroke="#111" lengthAdjust="spacingAndGlyphs" stroke-width="0.15">2</text><text x="164.1" y="258.3" font-size="13.9" textLength="15.9" font-family="Liberation Serif, serif" fill="#111" stroke="#111" lengthAdjust="spacingAndGlyphs" stroke-width="0.15">He</text><path d="M181 249.9h5.8M183.9 247.2v5.4" stroke="#111" stroke-width="0.95"/><text x="192.8" y="258.3" font-size="13.9" textLength="54.6" font-family="Liberation Serif, serif" fill="#111" stroke="#111" lengthAdjust="spacingAndGlyphs" stroke-width="0.15">controls</text><text x="424.5" y="258.3" font-size="13.9" textLength="50.4" font-family="Liberation Serif, serif" fill="#111" stroke="#111" lengthAdjust="spacingAndGlyphs" stroke-width="0.15">Voyager</text><text x="481.6" y="258.3" font-size="13.9" textLength="7.2" font-family="Liberation Serif, serif" fill="#111" stroke="#111" lengthAdjust="spacingAndGlyphs" stroke-width="0.15">2</text><text x="495.1" y="258.3" font-size="13.9" textLength="8.9" font-family="Liberation Serif, serif" fill="#111" stroke="#111" lengthAdjust="spacingAndGlyphs" stroke-width="0.15">H</text><path d="M504.5 249.9h5.8M507.4 247.2v5.4" stroke="#111" stroke-width="0.95"/><text x="516.3" y="258.3" font-size="13.9" textLength="54.2" font-family="Liberation Serif, serif" fill="#111" stroke="#111" lengthAdjust="spacingAndGlyphs" stroke-width="0.15">controls</text><text x="93.5" y="456" font-size="13.9" textLength="50.4" font-family="Liberation Serif, serif" fill="#111" stroke="#111" lengthAdjust="spacingAndGlyphs" stroke-width="0.15">Voyager</text><text x="150.6" y="456" font-size="13.9" textLength="7.2" font-family="Liberation Serif, serif" fill="#111" stroke="#111" lengthAdjust="spacingAndGlyphs" stroke-width="0.15">2</text><text x="164.1" y="456" font-size="13.9" textLength="15.9" font-family="Liberation Serif, serif" fill="#111" stroke="#111" lengthAdjust="spacingAndGlyphs" stroke-width="0.15">He</text><path d="M181 447.6h5.8M183.9 444.9v5.4" stroke="#111" stroke-width="0.95"/><text x="192.8" y="456" font-size="13.9" textLength="54.6" font-family="Liberation Serif, serif" fill="#111" stroke="#111" lengthAdjust="spacingAndGlyphs" stroke-width="0.15">controls</text><text x="424.5" y="456" font-size="13.9" textLength="50.4" font-family="Liberation Serif, serif" fill="#111" stroke="#111" lengthAdjust="spacingAndGlyphs" stroke-width="0.15">Voyager</text><text x="481.6" y="456" font-size="13.9" textLength="7.2" font-family="Liberation Serif, serif" fill="#111" stroke="#111" lengthAdjust="spacingAndGlyphs" stroke-width="0.15">2</text><text x="495.1" y="456" font-size="13.9" textLength="8.9" font-family="Liberation Serif, serif" fill="#111" stroke="#111" lengthAdjust="spacingAndGlyphs" stroke-width="0.15">H</text><path d="M504.5 447.6h5.8M507.4 444.9v5.4" stroke="#111" stroke-width="0.95"/><text x="516.3" y="456" font-size="13.9" textLength="54.2" font-family="Liberation Serif, serif" fill="#111" stroke="#111" lengthAdjust="spacingAndGlyphs" stroke-width="0.15">controls</text><text x="88.6" y="619.8" font-size="13.9" textLength="50.4" font-family="Liberation Serif, serif" fill="#111" stroke="#111" lengthAdjust="spacingAndGlyphs" stroke-width="0.15">Voyager</text><text x="145.7" y="619.8" font-size="13.9" textLength="7.4" font-family="Liberation Serif, serif" fill="#111" stroke="#111" lengthAdjust="spacingAndGlyphs" stroke-width="0.15">2</text><text x="168.9" y="619.8" font-size="13.9" textLength="15.8" font-family="Liberation Serif, serif" fill="#111" stroke="#111" lengthAdjust="spacingAndGlyphs" stroke-width="0.15">He</text><path d="M185.8 611.1h5.8M188.7 608.4v5.4" stroke="#111" stroke-width="0.95"/><text x="198.6" y="619.8" font-size="13.9" textLength="53.6" font-family="Liberation Serif, serif" fill="#111" stroke="#111" lengthAdjust="spacingAndGlyphs" stroke-width="0.15">controls</text><text x="419.4" y="619.8" font-size="13.9" textLength="50.4" font-family="Liberation Serif, serif" fill="#111" stroke="#111" lengthAdjust="spacingAndGlyphs" stroke-width="0.15">Voyager</text><text x="477.2" y="619.8" font-size="13.9" textLength="7.1" font-family="Liberation Serif, serif" fill="#111" stroke="#111" lengthAdjust="spacingAndGlyphs" stroke-width="0.15">2</text><text x="499.5" y="619.8" font-size="13.9" textLength="9.5" font-family="Liberation Serif, serif" fill="#111" stroke="#111" lengthAdjust="spacingAndGlyphs" stroke-width="0.15">H</text><path d="M509.9 611.1h5.8M512.8 608.4v5.4" stroke="#111" stroke-width="0.95"/><text x="521.7" y="619.8" font-size="13.9" textLength="53.8" font-family="Liberation Serif, serif" fill="#111" stroke="#111" lengthAdjust="spacingAndGlyphs" stroke-width="0.15">controls</text><text x="160.6" y="196" font-size="13.9" textLength="7.6" font-family="Liberation Serif, serif" fill="#111" stroke="#111" lengthAdjust="spacingAndGlyphs" stroke-width="0.15">E</text><text x="168.8" y="201" font-size="11.5" textLength="11.9" font-family="Liberation Serif, serif" fill="#111" stroke="#111" lengthAdjust="spacingAndGlyphs" stroke-width="0.5">lip</text><text x="158.8" y="425.7" font-size="13.9" textLength="8.5" font-family="Liberation Serif, serif" fill="#111" stroke="#111" lengthAdjust="spacingAndGlyphs" stroke-width="0.15">D</text><text x="167.6" y="430.5" font-size="11.5" textLength="14.9" font-family="Liberation Serif, serif" fill="#111" stroke="#111" lengthAdjust="spacingAndGlyphs" stroke-width="0.5">pol</text><text x="146.6" y="588.9" font-size="13.9" textLength="40.4" font-family="Liberation Serif, serif" fill="#111" stroke="#111" lengthAdjust="spacingAndGlyphs" stroke-width="0.15">R [AU]</text><text x="146.6" y="752.7" font-size="13.9" textLength="40.4" font-family="Liberation Serif, serif" fill="#111" stroke="#111" lengthAdjust="spacingAndGlyphs" stroke-width="0.15">R [AU]</text><text x="487.6" y="196" font-size="13.9" textLength="7.6" font-family="Liberation Serif, serif" fill="#111" stroke="#111" lengthAdjust="spacingAndGlyphs" stroke-width="0.15">E</text><text x="495.9" y="201" font-size="11.5" textLength="11.9" font-family="Liberation Serif, serif" fill="#111" stroke="#111" lengthAdjust="spacingAndGlyphs" stroke-width="0.5">lip</text><text x="485.9" y="425.7" font-size="13.9" textLength="8.5" font-family="Liberation Serif, serif" fill="#111" stroke="#111" lengthAdjust="spacingAndGlyphs" stroke-width="0.15">D</text><text x="494.6" y="430.5" font-size="11.5" textLength="14.9" font-family="Liberation Serif, serif" fill="#111" stroke="#111" lengthAdjust="spacingAndGlyphs" stroke-width="0.5">pol</text><text x="473.6" y="588.9" font-size="13.9" textLength="40.4" font-family="Liberation Serif, serif" fill="#111" stroke="#111" lengthAdjust="spacingAndGlyphs" stroke-width="0.15">R [AU]</text><text x="473.6" y="752.7" font-size="13.9" textLength="40.4" font-family="Liberation Serif, serif" fill="#111" stroke="#111" lengthAdjust="spacingAndGlyphs" stroke-width="0.15">R [AU]</text><text transform="rotate(-90)" x="-97" y="8.9" font-size="13.9" textLength="7.7" font-family="Liberation Serif, serif" fill="#111" stroke="#111" lengthAdjust="spacingAndGlyphs" stroke-width="0.15">D</text><text transform="rotate(-90)" x="-88.6" y="14.6" font-size="11.5" textLength="14.6" font-family="Liberation Serif, serif" fill="#111" stroke="#111" lengthAdjust="spacingAndGlyphs" stroke-width="0.5">pol</text><text transform="rotate(-90)" x="-324.6" y="8.9" font-size="13.9" textLength="7.4" font-family="Liberation Serif, serif" fill="#111" stroke="#111" lengthAdjust="spacingAndGlyphs" stroke-width="0.15">C</text><text transform="rotate(-90)" x="-316.6" y="14.6" font-size="11.5" textLength="11.6" font-family="Liberation Serif, serif" fill="#111" stroke="#111" lengthAdjust="spacingAndGlyphs" stroke-width="0.5">oh</text><text transform="rotate(-90)" x="-521" y="9" font-size="13.9" textLength="7.4" font-family="Liberation Serif, serif" fill="#111" stroke="#111" lengthAdjust="spacingAndGlyphs" stroke-width="0.15">E</text><text transform="rotate(-90)" x="-513.2" y="14.6" font-size="11.5" textLength="12.4" font-family="Liberation Serif, serif" fill="#111" stroke="#111" lengthAdjust="spacingAndGlyphs" stroke-width="0.5">lip</text><text transform="rotate(-90)" x="-704.6" y="16" font-size="13.9" textLength="8.2" font-family="Liberation Serif, serif" fill="#111" stroke="#111" lengthAdjust="spacingAndGlyphs" stroke-width="0.15">Θ</text><text transform="rotate(-90)" x="-696.2" y="21.6" font-size="11.5" textLength="12.2" font-family="Liberation Serif, serif" fill="#111" stroke="#111" lengthAdjust="spacingAndGlyphs" stroke-width="0.5">kB</text><text transform="rotate(-90)" x="-677.8" y="16" font-size="13.9" textLength="32" font-family="Liberation Serif, serif" fill="#111" stroke="#111" lengthAdjust="spacingAndGlyphs" stroke-width="0.15">[deg]</text><text transform="rotate(-90)" x="-97" y="336" font-size="13.9" textLength="7.7" font-family="Liberation Serif, serif" fill="#111" stroke="#111" lengthAdjust="spacingAndGlyphs" stroke-width="0.15">D</text><text transform="rotate(-90)" x="-88.6" y="341.7" font-size="11.5" textLength="14.6" font-family="Liberation Serif, serif" fill="#111" stroke="#111" lengthAdjust="spacingAndGlyphs" stroke-width="0.5">pol</text><text transform="rotate(-90)" x="-324.6" y="336" font-size="13.9" textLength="7.4" font-family="Liberation Serif, serif" fill="#111" stroke="#111" lengthAdjust="spacingAndGlyphs" stroke-width="0.15">C</text><text transform="rotate(-90)" x="-316.6" y="341.7" font-size="11.5" textLength="11.6" font-family="Liberation Serif, serif" fill="#111" stroke="#111" lengthAdjust="spacingAndGlyphs" stroke-width="0.5">oh</text><text transform="rotate(-90)" x="-521" y="336.1" font-size="13.9" textLength="7.4" font-family="Liberation Serif, serif" fill="#111" stroke="#111" lengthAdjust="spacingAndGlyphs" stroke-width="0.15">E</text><text transform="rotate(-90)" x="-513.2" y="341.7" font-size="11.5" textLength="12.4" font-family="Liberation Serif, serif" fill="#111" stroke="#111" lengthAdjust="spacingAndGlyphs" stroke-width="0.5">lip</text><text transform="rotate(-90)" x="-704.6" y="343.1" font-size="13.9" textLength="8.2" font-family="Liberation Serif, serif" fill="#111" stroke="#111" lengthAdjust="spacingAndGlyphs" stroke-width="0.15">Θ</text><text transform="rotate(-90)" x="-696.2" y="348.7" font-size="11.5" textLength="12.2" font-family="Liberation Serif, serif" fill="#111" stroke="#111" lengthAdjust="spacingAndGlyphs" stroke-width="0.5">kB</text><text transform="rotate(-90)" x="-677.8" y="343.1" font-size="13.9" textLength="32" font-family="Liberation Serif, serif" fill="#111" stroke="#111" lengthAdjust="spacingAndGlyphs" stroke-width="0.15">[deg]</text><path d="M170.7 118.2L185.2 101.1 173.4 54.4 165.4 123.2 161 90.2 174.9 47 190.6 86 174.1 100.5 169.6 26.8 161.1 109.7 167.6 76.3 168.6 53.4 132.3 84.5 148.6 125.3 143.8 86.2 178.4 44.6 179.1 94.9 165.8 108.3 171 74 199.7 36.4 154.6 97.2 165.2 73.5 143.1 93.4 166.4 87.9 192.2 118.2 162.3 124.1 166.6 116.6 164.4 75.1 179.9 83.6 171.5 75.2 169.8 98.5 168.6 108.9 164.7 69.9 155.1 95.4 177.1 63.8 151.1 117.1 182 108.4 143.1 131 164.6 88.5 175.5 104.6 178.3 100 154.8 82.9 179.2 73.1 159.4 27.3 162.2 108.4 82.6 72.2 163.7 102.2 171.5 47.2 174.7 83.5 167 92.8 174.8 90.8 151.6 150.1 186.8 91.9 175.4 71.8 164.6 88.6 160.6 102.8 152.8 117.4 167.4 80.1 199.3 39.2 166.5 93.9 168.3 113.5 165.7 61.6 146.6 125.7 141.2 116.6 159.5 90.9 192.6 104.7 179.8 62.2 178.6 69.9 133.9 68.4 152.4 119.2 165.3 58.3 177.6 91 172.3 97.6 162 86.2 175.5 117.5 147.9 101.8 179 63.8 184.7 95.4 134.9 114.1 159.5 105.2 175 104.2 168 91.2 170.1 45.2 166.7 114.6 166.8 122.4 161 74.6 162.4 102.3 179 39.1 168.2 98.7 167.5 46 234.2 88.8 179.3 65.7 158.6 87.8 190 109.3 154.6 74.9 163 55.6 178.9 102.3 169.8 70.6 167.2 90.3 170 118.1 171.3 125.7 165.7 73.2 180.9 111.5 163.9 91.2 158.4 106.4 155.5 77.4 157.6 79.5 172.7 68 175.7 97.4 167 93.7 166.7 81.2 169.1 87.2 193 129.4 168.3 75.4 169 51.1 172.3 101.3 164.5 102.5 179.2 99.2 167.8 64 225 89.6 119.3 123.6 150.3 93.8 166.5 65.9 156.9 109.1 162.7 52.8 157.9 74.7 153.2 102.4 107.4 101.8 159.3 102.8 175.8 113.4 158.8 85.7 230.1 55.1 166.8 29.9 155.9 83.8 158.9 99 217.8 115.6 166.6 96.8 180.6 64.8 168.6 119.5 180.6 107.7 157.8 86.1 128.5 110.1 160 79 119.4 91.5 166.2 117.4 173.6 65.3 127.1 61.1 173.3 64.2 162.8 81.2 165.7 120.4 166.8 56.7 164.5 105.1 167 117.3 159.4 122.8 170.7 80.7 214.3 73.5 182.7 61.1 162.7 103.3 174.7 97.1 155.9 67.8 166 83.2 138.8 112 166.6 117.9 190.7 84.7 170.4 101 202.3 52.8 170.2 106.6 161.7 91 159.7 89.7 173 80.2 170.6 93.7 165.6 104.1 174.4 115.2 173.9 90.9 160 103.7 142.9 43.4 176.5 104.7 165.4 95.2 175.9 111.6 187.4 49.4 166.7 88.6 168.9 71.2 216.2 35.2 141 109.8 180.3 96.9 161 84.6 161.9 92.1 149.9 105.4 164 85.5 164.1 69.2 158.7 98.9 184.6 97 163.9 61.8 155 56.5 175.6 105.6 138.5 90.3 162.7 101.3 223.3 102.1 165.3 119.1 179.8 108.7 191.4 97 139.1 108.6 204.9 39.9 189.5 103 170 125.1 177.6 92.2 190.4 116.7 187.1 92.1 157.4 64.1 180.6 83.7 175.7 96 150.1 119.3 174 107.7 160.2 43.6 167.3 119.3 197.2 95.5 160.5 107.3 182.2 48.3 244.7 79.2 165.7 72.1 201 103.8 170.6 124.5 150.9 94.8 173.5 78.8 156.5 113.3 162.2 71.8" fill="none" marker-start="url(#rc)" marker-mid="url(#rc)" marker-end="url(#rc)"/><path d="M226.6 105.3L201.2 103 115.5 66.6 132.4 93.3 185 62.1 127.6 97.6 160.3 105.6 167 55.4 179.4 51.7 142.3 74.1 181.8 94.5 208 88.7 197.2 107.8 232 20.5 185.1 32 166.1 116 166.1 87.3 120.8 97.5 241.9 103.9 165.9 104.9 182.9 73.9 136.8 102.3 207.8 92.9 169.7 62.8 131.2 104 134.8 51.2 125.8 107.5 170.7 68 143.6 16.9 104.2 68.1 181.5 112.5 174.4 44.9 153.2 107.1 157.5 74.6 172 66.4 182.1 90.8 166.3 79.2 163.1 67.6 222.8 8.7 158.8 72.8" fill="none" marker-start="url(#rt)" marker-mid="url(#rt)" marker-end="url(#rt)"/><path d="M169.7 84.2L173.6 70 142.3 92.2 165.7 72 176.9 110.2 172.8 62.4 149.2 57.3 169.3 104 131.5 121.2 181.1 111.2 170.7 88.2 108.5 81.1 163.4 102.1 160.4 88 134 51.4 139 90.9 174.4 111.8 162.2 73 162 109.3 113.7 106.5 175.6 84.5 178.9 74.5 165.2 87 171.1 90.6 184.4 42.9 164.9 102.3 166.7 96.2 173.9 110.7 175.1 86.2 177.2 100.5 174.7 123.5 171.6 93.5 173.6 45.5 161.4 106.2 174.1 78 168.2 94.2 178.2 109.9 161.6 87.5 164.5 93.5 169.6 115.4 140.2 108.2 193.8 104.7 176.6 115.4 172.7 104 170 111.7 171.9 48.3 122.3 36.2 145.1 114.5 173.7 105.5 170.6 56.6 102 29.3 168.2 54.8 165.9 96.5 141.2 111.8 175.9 54.8 176.1 110.6 159.4 113.5 173.8 12.1 158 84.2 169.3 98.6 182.2 109.1 145 57.6 172.4 82.6 118.1 112.6 174.1 57.2 128.1 139.3 173.2 129.9 169.9 77.5 145.5 114.4 189 106.8 170.2 89.8 161.6 90.5 156.8 17.4 167.5 62.1 167.8 105.7 166.5 65.5 184.9 25.3 160.6 96.5 169.3 67.3 219.5 65.2 167.7 45.3 155.1 107.9 174.4 56 159.3 71.8 166.1 59.7 172.9 76.9 171.5 60.6 163.2 67 169.6 91.5 170.8 90.2 167.3 79.5 166.5 116.6 167.2 59.5 188.3 118.6 165.8 94.5 171 50.4 162.3 63.5 173.6 95.2 177.4 49.8 179.7 116.6 193.8 75.3 145 47.9 164.4 89.9 141.7 90.6 157.8 85.8 167.5 96.4 151.8 33.1 175.1 48.6 182.7 31 185.5 94.4 193.3 54.7 176.6 55.6 167.1 102.6 155.8 114.6 167.9 81.9 175.2 69.9 122.2 94.5 164.9 104 172 80.4 173.2 65.9 174.4 5.9 167.8 100.1 168.6 96.2 175.9 81.4 164.7 75 172.5 120.6 165.4 67.3 159.2 84.7 171.2 82.8 155.2 123 200.9 29.2 175.7 94 123.8 103.2 168.6 72.2 180.6 83.3 173.8 73.2 168.3 101.6 172.3 79.3 73.9 66.9 148.9 85.6 166.3 65.5 159.1 98.4 141.1 98.5 170.2 49.7 169.1 63.7 170.1 90.3 183.1 111.9 179.7 46.3 174.5 112 168.8 86.6 176.7 109.3 172.8 62.5 175.6 98.7 183.4 67.1 145.5 115.3 159.5 99.8 172.2 43.9 212.9 82.4 161.6 92.7 175.5 80.5 173.6 86.5 133.5 51.3 154.3 102.1 172.6 98.1 171.8 99.1 123.3 47.2 173.7 117 163.5 72.3 182.4 81.2 152.5 32.7 165.3 108.6 156.7 42.1 146.6 101.5 180.7 116.3 146.8 108.8 111.1 115.6 169.8 112.6 148.8 98.6 154.1 92.1 166.8 115.5 175.3 71 161.7 108.5 168.9 68.6 167.3 121.7 161.7 111.6 172.1 114.2 172.9 88.8 178.5 93.3 170.3 117.9 157.9 85.7 163.2 58.7 172.9 106.2 171.4 61.8 179.2 115.9 153.3 94.3 146.2 103.9 165.5 103.1 177.4 102 228.6 7.1 170.2 74.3 174.7 60.2 105.2 114.2 169.8 44.3 164.4 57.4 168.9 81.9 162.7 89.3 163.9 76.9 172.2 120.5 150.7 89.9 167.8 72.6 174.5 84.9 152.7 118.9 174.1 65.4 163 89.3 169.5 91.9 168.1 74.2 177.6 105.8 158.3 108.9 175.5 71.2 173.2 114.2 165.4 104.9 171.4 88.3 170.4 64.8 186.3 99.9 178.5 106.2 161.9 57.3 159.6 114.6 179.1 88.2 139.1 118.3 160.5 70.8 164 98.1" fill="none" marker-start="url(#rc)" marker-mid="url(#rc)" marker-end="url(#rc)"/><path d="M204.7 98.7L111.8 85.6 175.7 94.9 162.2 55.6 128.2 116 165.3 105.3 152.6 97 141.4 64.3 162.7 94.6 165.4 79.7 173.2 91.6 195.6 85.3 188.3 114.1 192.3 113 153.8 48.2 169.6 49.6 154.7 116.5 179.4 111.1 172.3 91.1 193.9 130.8 177.4 87.1 164.6 95 164.9 117.9 132.4 49.4 159.3 82.6 173 119.3 185.8 52.1 176.4 87.9 189 98.5 162.1 112.2 164.8 62.8 116.7 47.2 137.7 99.8 174.4 82.7 164.4 78.6 163.1 97 164.2 108.3 201.6 127.1" fill="none" marker-start="url(#rt)" marker-mid="url(#rt)" marker-end="url(#rt)"/><path d="M156.6 72.6L108.9 122.4 179.6 108.5 171.9 110.2 178.5 88 166.3 93.9 173.3 109.9 156.1 103.5 176.5 116.7 165.9 72.4 183.3 99.1 167.2 93.2 165.5 88.7 149.3 116.9 161.5 65.4 168.7 121.9 169.8 25.9 142.2 124.4 179.8 61.5 140.9 118.3 168.3 115.9 164.5 69.6 154.9 106.3 168.2 81.7 175.2 72.4 198.1 107.3 146 109.2 174.6 102.7 178.5 99.5 168.3 55.9 167.9 71.5 171 84.3 194.9 88.6 224.8 91.7 200.8 33.5 159.7 55.7 160.5 46.8 170.1 60.7 177.6 90.4 164.7 65.5 168.4 94.7 168.8 90 191.7 83 159.7 58 180.3 105 156.7 57.6 169.2 69 158.6 77.8 163.2 84.2 164.5 56.9 189.9 60.9 148.1 65.2 171.4 59.4 166.8 129.8 164.6 45.8 176.8 67.6 168.5 82.7 166 69.6 179.7 72.3 189.8 58.4 210.4 61.4 191.8 89 164.6 115.8 166.2 63.4 185.3 123.9 160.6 118.2 174.8 62.2 157 79.3 164.1 95.3 162.9 100.3 150.8 67.1 175.7 102.7 158 75.9 154.5 69 203.5 67.3 181.2 104.6 147.7 111.6 169.2 106.4 195.6 48.9 182.7 19.6 148.4 100.7 180.8 128.1 196.6 115.6 117.8 97.4 179.2 104.6 180.2 103.8 99.8 94.3 182.9 117.3 174.9 104.8 160.5 104.9 184.7 104.4 154.4 114 176.3 54.6 171.5 94.6 165.7 59.5 231.7 74.5 183.9 80.9 149 120.7 168.6 100.2 163.4 94.6 160.7 71 151.3 108.9 175 93.1 181.7 130.5 181.7 104.8 182.8 98.1 163 115.8 165.3 81.5 163.6 110.8 171.7 126.2 156.7 112.3 165.6 103.8 170.1 69.7 164.4 102.5 170.9 74.1 176.2 61.9 161 99.3 160.1 56.9 144.8 74.2 175.9 44.2 181.8 61.5 170.4 86.4 141 79.1 180.1 87.9 177 129 169.7 120 188.3 111.6 175.1 32.6 153.2 52.5 160.2 71.2 240.8 73.6 167.1 108.4 157.9 103 164.2 66.1 170.1 38.8 131.1 68.2 133 74.2 154.9 110.3 155.9 110.2 159.7 68.9 176.2 91.8 168.3 86.7 169.3 89 170.3 46.9 146.7 30.7 238 89.2 173.3 85.5 140.2 48.4 168.2 55.3 169.4 74.1 176.5 130.4 164 107.1 163.3 96.9 160.4 73.3 179.2 81.5 151.4 105.5 162.8 101.4 158.6 111.2 164.8 96 163.8 121.3 173 58.8 165.9 52.7 166.7 80 166 89.6 173.3 113 199.2 22.3 174.3 99.1 165.7 62 161.8 40.7 166.7 98.6 161.7 115 167.8 81.8 163.5 117.1 167.2 114.6 172 51.4 146.9 92.5 164.2 48.6 173.1 102.2 167.2 96.9 180.6 82.1 156.5 97.9 160.6 108.4 144.5 104.1 178.7 62.2 191.1 29 159.1 71.1 167.9 64.4 196.2 89.5 189.3 97.6 175.8 113.6 163.3 94.1 126.6 98.1 169.9 71.2 182.7 114 166.4 63.4 180.1 65 197.6 75 157.7 109.4 157.1 86.4 168.8 101.8 170.5 121.4 153.1 44.3 66.4 38.6 164.3 92.7 158.4 72.4 175.1 112.1 167.6 54.4 157.9 72 183.9 103.6 167.5 115.9 169.2 73.1 168.8 94 191.9 99 161.3 107.8 160 94.6 165.6 92.5 164.8 55.2 151 73.1 141.5 117.3 155.1 109.1 199.1 74.2 163.8 101.6 183.3 105 183.7 115.3 161.5 59.9 153.2 103.3 150.7 23.9 160.3 42.3 179.1 61.2 163.6 97.1 165.8 59.4 170.8 90.2 156.1 113.4 164.4 120.4 167.9 62.2 110.3 85.1 176.4 112.2 164.3 127.8 160.8 112.8 143.5 98.6 157.3 100.7 170.2 110.8 177.9 86.6 159.5 51.2 170.3 67.7 169.5 76.4" fill="none" marker-start="url(#rc)" marker-mid="url(#rc)" marker-end="url(#rc)"/><path d="M170.2 77.1L194.1 15.8 161 60.9 157.2 72.4 177.5 129.9 138.7 37.2 172.6 103.1 171.8 109.8 211.1 58.9 157.8 131.8 200.5 21.9 156.4 23.5 180.9 57.4 174.8 15.9 193.1 97.2 193 12.9 178.8 80.5 221.5 18.5 219.7 82 173.2 59.7 153.4 61.2 189.7 5.3 196.1 42.6 150.8 73.7 150.6 136.1" fill="none" marker-start="url(#rt)" marker-mid="url(#rt)" marker-end="url(#rt)"/><path d="M160 117.3L176.1 115.9 166.3 118.7 157.8 46.5 164.5 105.8 170.6 105 166.2 72.7 148.3 89.8 170.6 88 178.8 83.4 181.3 59.1 173.6 102.4 164.4 103 162 74.7 178.5 55.4 171.9 69.5 172.1 76 158.3 32.3 165.1 92.3 185.3 76.1 161.2 90.9 189.4 95.4 161.7 119.3 175.6 99 166.2 53 173.9 114 143.5 83.6 180.1 46.5 181 89.3 174 106.8 161 120.9 169 94.6 164.1 63.8 171.8 116.3 176.3 96.6 165.6 117 165.9 78.3 145.6 61.4 168.8 101 160.8 114.8 155.2 100.1 163.8 97.6 232.2 105.2 160.5 96.9 169.9 91 179.5 103.1 180.4 119.7 185.3 42.4 174.5 108.9 170 95.1 103.1 99 174.9 66.6 182.6 39.1 165.5 105.8 162 120.9 157.2 69.7 199.7 90.4 167.4 84.4 201 81.9 146.4 103.7 174.2 69.6 215.8 41.4 162.7 126.8 160.8 84.6 188 104.8 146.3 77.7 170.1 55.6 159.2 91 160.7 105.9 183.4 75.1 151.5 115.7 167.1 85.6 162.3 102.4 168.1 70.2 170 69.6 170.4 73.4 176.3 108.1 194.6 102.9 176.4 90.8 169.2 83.2 180.1 121.8 172.9 103.5 197.9 112.3 177.3 76.3 154.5 47.9 160.9 70.8 170.4 44.2 177.1 81.9 163.3 91.1 149.2 87.6 167.2 57.8 172.1 116 182.1 52.9 206.1 91.9 121.7 82.4 163.8 82.1 181.1 57.1 163 55.6 138.1 83.7 183.8 22.8 170.9 74.2 170.5 115.2 168 93.5 169.4 63.5 162 113 163.4 106.8 223.8 87.5 174.2 91.1 174.6 111 147.7 116 88.6 83.9 171.6 65.3 161.7 108.9 139.4 45.4 130.1 57.4 159.2 102.6 175.6 61.8 168.5 90.3 178.5 38.8 163.4 110.8 134.2 122.4 176 90.6 159.3 86.9 157.4 91.4 158.2 43.6 167.2 105 164.7 94.9 179.8 27.9 170.2 87.9 130.3 81.4 171.2 107.5 167.4 98.1 170.3 63.5 140.3 115.7 189.1 104.2 157.5 101.6 162 106.8 166.9 73.9 163.6 67.2 152.8 41.8 199.9 94.5 184.5 121.4 156.8 58.9 178.6 119.9 141.9 83.2 99.4 64.9 137.1 88.1 150 114.3 188.3 114.6 174.5 74.6 165 97.2 168.4 58.6 184.9 100.9 175.7 84 161.8 61 182.9 101.2 169.2 53.1 171 63.3 186.2 104.6 156.5 34.5 164.2 94.1 176.6 79.4 200.8 66.2 145.5 44.5 187.3 46.1 164 107.4 169.3 80.7 176.1 67.5 156.9 101.9 191.8 103.4 163.4 90.5 164.6 28.9 195.4 14 151.9 146 127.9 110 162.3 70.9 135 130.2 165 111.2 179 99 196.1 94.4 179.6 88.7 175.4 129.2 167.4 64.4 192 114.7 149 62.9 193.1 102.7 169.5 108.1 170.8 83.6 145.9 83.5 178.8 98 189.9 99.7 181 61.9 229.6 28 170 62.4 142.6 104.8 185.6 88.4 176 113 163.2 68.8 139 69 167.7 84.2 167.6 82.3 172.3 117.9 122.1 113.6 160.2 68.6 170.6 71 206.7 68 180.8 68.3 165.5 100.2 161.2 74.8 172.7 80.9 144.3 109.8 166.3 82.7 167.5 60.4 167.8 64.1 163.8 82.9 161.5 67.3 185 104.6 170.8 120.9 177.4 103.6 172.4 24.2 153.6 97.9 165.3 76.4 153.4 113.5 138.5 89.7 167.4 79.7 179 73.4 156.2 112.5 180.3 25 158.7 70.5 175.9 112.1 168.2 106.3 129.9 100.9 176 75.7 169.8 88.2 189 68.6 173.1 89.5 158.5 64.3 194.5 87.4 182.1 92 174 120.1 175.8 85.4 166.3 105.3" fill="none" marker-start="url(#rc)" marker-mid="url(#rc)" marker-end="url(#rc)"/><path d="M162.1 114.3L174.4 104.8 171 40.3 174.7 97.6 175.4 74.9 176.7 36.8 169.4 97.1 175.8 101.7 212.8 13.3 126.5 124.2 170.2 36.3 177 95.1 155.1 65.9 205.3 115.2 129 96.9 166.6 67.7 204.6 27.5 227.8 48.8 168.2 95.8 124.1 106.7 188.6 105.2 123.5 63.3 128.3 73.5 180.5 110.8 156.1 104.3 175.2 108.8 134.1 113.7 166.8 93.5" fill="none" marker-start="url(#rt)" marker-mid="url(#rt)" marker-end="url(#rt)"/><path d="M491.9 86.5L525.9 125.4 504.6 101.8 506.9 75.6 487.3 85.1 489.1 101.7 474.3 97 441.9 108.5 503.7 131.9 492.8 106.2 498.9 100.5 504.2 108.4 490.2 114.9 484.4 104.6 508.2 85 527.5 125.2 483.3 106.2 489.5 85.3 484.5 95.1 482.2 103.9 504.3 78.4 503 103 540.2 98 488.3 113.3 516.8 108.1 496.2 106.5 497.7 107.6 479.7 119.9 509.4 107.3 508.1 99.1 489.9 107 491.1 111.3 500.7 108.2 490.1 102 481.3 107.4 502.7 119.6 500.3 88.6 495.2 115.1 505.8 115.5 511.2 114.9 533.7 128.2 494.9 95.5 505.4 112 481.6 112.4 499.1 130.1 504.5 115.6 454.1 105.9 507.7 117.3 498.3 93.2 507.5 81 478.6 95.2 493.5 106.2 486.6 107.8 485.2 103.3 495 100.7 450.3 115.3 509 114 502.9 103.9 486.4 59.9 484.7 79.4 503.7 146.2 525.6 135 524.1 96.6 489.9 120.3 499.3 118.2 503.6 107 488.9 88.9 484.2 83.3 492.3 97.9 495.3 120.1 476.2 111.6 567.1 92 532 119.8 528.3 97.3 498.6 124.3 481.2 75.9 566.6 80.2 470.5 102.5 490.1 96.2 503.9 125.9 508.7 114.6 491.4 94.4 496.2 90 514.6 100.5 500.2 86.2 506.9 103.6 501 94.3 500.5 114.9 469 105.8 495.3 116.5 492.2 110 490.1 103.8 556.2 91.8 491.1 108.7 488.7 87.4 483.4 96.1 509.9 95.3 504.6 115.3 508.5 90.3 479.4 90.1 509.8 104.4 512.4 73.6 500 115 482.1 100.1 512.3 107.3 503.1 91.4 479 88.5 485.8 131.2 525 84.1 488 98.6 493.4 123 478.8 117.6 505.4 65.1 497.5 85.5 493.9 108.8 512.5 101.5 531.9 92.1 500.9 104.9 486.2 127.4 497.7 116.7 479.6 117.9 497.9 134.5 488.8 93.4 468.4 47.4 480 117.1 478.4 86 497.9 118.1 465.4 131.3 501.7 114.4 508.5 68.9 510.7 116.7 496.2 131.2 485.9 69.4 508.6 124.9 511.9 101 499.6 101.8 509.6 106.8 495.7 108.9 508.1 87.4 475 126.9 501.1 101.2 511.5 101.7 501 80.3 483.2 130.8 423.4 92.3 507.5 106.4 517.6 96.7 477.2 127.3 488.6 83.3 478.5 117.1 492 134.1 479.5 124.8 485.1 104.5 478.8 124.3 542.8 103.6 486.2 100.7 493.1 116.2 489.8 107.9 497.9 92.3 505.4 116.5 504 97.4 480.2 111.7 489.8 98.4 493.2 134.6 494.5 104.2 486.8 99.6 473.3 84.1 483.4 105 493.7 94.7 493.3 95.7 490 119.3 498.7 103.9 474.2 126.5 501.1 100.4 490.6 125.8 508.6 110.2 484.9 93.2 492.1 106.6 496.8 99.9 493.6 119.7 493.4 111.9 493.8 95.9 469.5 102.1 487.3 98.7 495 70.4 504.9 87.3 491.5 108.2 499.4 107.5 496.1 115.6 480.4 86.3 503.5 85.7 518.7 111.8 494.9 133.7 449.4 86.8 498.7 117.7 495.9 117.9 494.6 114.5 493.4 98.3 503.1 88.2 489.8 105.8 487.3 100 489.4 86 506 107.3 494.8 117.4 500.6 86.7 498.8 77.7 564 109.3 493.7 109.1 488.2 95.7 488.1 87.7 517.1 87.3 498.9 113.3 508 110.6 469.3 119.5 494.4 120.4 487.6 114.6 508.1 87.7 497.5 117.6 496.7 87.7 500.4 111.7 494.9 109.7 510 105.4 484.5 87.3 493.7 107.7 506 102.2" fill="none" marker-start="url(#rc)" marker-mid="url(#rc)" marker-end="url(#rc)"/><path d="M488.8 104.9L519.3 94.4 503.5 115.4 501.2 104 505.8 106.8 524.9 119.1 484.8 126.3 549.2 112.3 487.6 112.8 511 106.3 479.3 107.3 481.8 118.3 471.5 66.6 495.4 106.6 505.7 106.2 543.1 130.1 483.9 111.6 490.9 93.9 484.5 102.1 478.2 99 496.7 128.1 495.2 107.1 493 101.6 496.1 95 491.1 126.6 487.2 112.3 482.4 120.4" fill="none" marker-start="url(#rt)" marker-mid="url(#rt)" marker-end="url(#rt)"/><path d="M494.8 60L508.6 123 505.5 108.2 489.9 99 490.8 118.1 507.3 83.8 483.3 64.3 499.7 100.3 481.9 121.5 481.8 116.2 488 127.9 493.2 96.2 481 90.9 485.5 62.4 494 88.7 499.6 92.1 485.6 103.7 513.4 110.4 470 82.7 461.1 92.8 498.2 108.9 480.6 77.5 482.7 114.5 490.9 103.4 489.3 117.4 493 92.3 503.3 109.2 485.6 100 487.8 108.1 485 121.8 477.1 115.4 509.6 86.1 509.1 89.9 524.6 102.1 477.7 91.4 471.2 92.6 512.1 92.2 488.2 107.4 514.5 59.8 494 99.9 483 94.5 492.6 117.8 510.2 107.6 435.5 91.4 494.3 93 490.1 97.6 496.3 100.9 501.2 117.5 493.8 118.6 502.6 102.2 489.8 86.9 491.5 102.1 491.3 45 531.2 129.9 489.5 117 473.6 103.9 490.3 97.4 502 97.4 484.1 108.9 504.2 92.7 493.3 112.9 497.6 111.5 501.1 102.8 485.2 84 490.9 102.2 488.2 124.4 506.6 112.4 503.8 90.2 478.5 103.1 492.1 102.7 515.1 122.5 507.6 73.9 448.6 97.9 511.2 93.9 493.6 98.6 487.9 102.5 485.8 113.1 499.9 79.2 506.3 116.9 490.2 100.9 542.2 112.9 510.3 104.8 495.3 88.1 453.1 118.8 485.6 105.5 493.5 123.4 518.8 118.9 467.8 54.4 504.4 117.2 490 97.3 492.8 95.4 498.2 131.4 484.2 100.8 492 109.1 490.7 109.7 481 103.4 497.7 105.3 514.1 97.4 492.8 81.6 543.8 90.1 492.4 112.6 482.8 93.1 489.4 118.6 508 104.7 495.5 134.3 499.1 113.5 488.5 115 491.5 106.4 471.8 106.9 473.6 124.5 497.3 127.9 533.7 116.8 530 95.6 515.5 105 504.9 97.3 498.7 69.7 505.5 68.9 487.4 83.7 473.4 108.4 463.6 113 493.9 96 488 136.5 510.8 128 493.5 89.2 526.6 115.6 495.8 101.6 494.7 81.2 480 85.1 484.6 112 496 107.9 489.5 108.9 500.7 94.8 455.3 129.9 479.6 115.8 475.4 100.2 489.1 107.7 489.7 115.8 497.1 112.2 531.2 110.8 507.5 123.7 465.8 101.2 494.3 114 505.2 105.2 485.9 98.1 486.4 62.6 463 107.4 487.9 111.4 506.4 75.8 498.6 112.5 482.9 107.2 502.3 118.2 502.7 127.2 504 87.2 525.9 95.9 494.2 117.5 488.1 83.8 484.3 97.2 496.1 91.6 470.9 101.4 490.7 107.3 508.1 85.2 484.6 108.9 485.5 120.3 478.1 117.8 495.2 72.7 490 97.1 499 120.1 499.7 130.9 508.6 106 494.2 120.4 499.5 109.5 492.2 107.6 512.9 110.2 503.3 111.8 490.9 118.1 472.1 123.8 470.1 59.8 496 105.5 502.4 121.8 488.7 85.2 443.9 109.5 501 87.4 489.2 88 498.5 97 527.6 89.8 502.8 96.5 501.4 118.8 485.6 128.8 512.4 133.4 489.2 113.6 490.8 96.1 484.4 132.7 469.1 109.9 490.3 138.8 486 106.2 496.2 100.3 486.4 100.6 474.3 95.6 503.7 109.8 510.3 65.1 521.7 72.9 488.9 79.2 505.5 117.5 510.1 102.8 506 107.8 489.5 90.8 498.9 108.2 495.6 78.4 488.2 107.5 494.4 105.5 508.2 110.8 507.2 117.1 487.5 107.8 497.9 81.6 480.2 121.1 491.6 92.9 482.4 101.3 482.2 108.5 497 98.4 487.6 80.3" fill="none" marker-start="url(#rc)" marker-mid="url(#rc)" marker-end="url(#rc)"/><path d="M488.9 110.1L493.6 116.5 496.1 83.1 493.2 108.6 541.2 92.9 497.9 45.6 529.8 94 441 87.4 481.4 110.8 507.3 102.6 513 106 484.8 114.7 493.7 101.4 491.2 110.9 518.5 90.1 501.8 90.6 486.3 79.9 488.7 99.1 512.6 92.2 439.7 115.7 486.3 124.5 491.3 43.4 505.9 130 495.6 106 495.6 112.8 491.4 93.1 453.2 125.3 448.1 102.1" fill="none" marker-start="url(#rt)" marker-mid="url(#rt)" marker-end="url(#rt)"/><path d="M497.8 114.4L490.4 122.3 487.1 92.9 488.7 113.3 470 111.1 503.4 81.9 493.7 113 497.8 111.5 513 115.5 487.5 104.8 484.5 95.6 500.3 91 495.5 72.7 495.9 67.1 493.9 97.6 463.9 84.6 453.8 96.3 525.1 114 521.5 120.3 465.8 124 525.9 82.8 501 95.5 486 96.8 496.8 92.5 499.7 108.9 487.9 97.5 496.2 95.9 497.7 54.6 493.7 102.1 492.2 104.3 479.7 115.1 462.5 105.5 511.5 84.1 480.8 89.4 501.2 87.5 494.5 67.4 511.6 109.3 470.4 111.9 507.3 55.4 486.1 81.9 484.4 104.2 504.9 93.4 485.9 96.5 492.3 100.5 478.2 110.7 506.4 117.9 480.6 112.2 485.1 90.7 492.1 134.6 487.8 109.9 463.2 93.3 501.2 106.8 495.3 99.1 482.8 104.2 491.2 105.9 466.8 108.5 480.8 89.5 491.3 108.2 494.9 97.5 464.6 96.8 492.1 125 487 109.4 498.7 122.9 501.2 109.3 491 92 495.5 92.5 495.9 64.7 487.8 106.1 481.7 88.4 499.2 89.1 485.2 108.6 490.2 113.6 479.2 89.6 502.2 121.6 479.7 112.2 498.9 78.2 559.2 87.8 482.2 88 488.7 115.2 495.1 96.5 513.1 88.6 496.2 92.7 491.2 113.6 491.5 104.9 473.8 85.2 473.7 101.8 504.9 74.6 513.6 99.5 503.8 96.1 544.6 93.5 494.1 111 543.1 80 492.5 114.6 508.9 124.4 513.5 106.5 497 91 482.6 106.8 508.9 107 450.8 99.5 484.5 87.5 487.3 89 503.3 94.7 492.2 116.7 467.9 101.3 474 116.1 511 90 498.6 113.7 478.9 93.7 494.2 87 506.2 105.7 469.9 108.2 476.7 95.6 493.6 104.3 488.4 98.8 514.8 107.3 491.1 116.4 516.5 114.3 480.2 82.2 482.4 101.5 494.4 83.5 500.2 98.7 499.2 92.1 492.8 102.9 494.7 108.5 477.1 81.8 506 113.2 457.7 110.8 502.2 109.3 485.6 109.5 489.5 90.7 493 74.9 537.5 84.1 503.5 93.2 493.5 116.7 481.6 98.4 477.7 115.1 486 102.6 492.5 111.1 493.4 98.3 494.2 116.7 502.2 114 497.3 122.2 506.2 128.1 511.6 89.6 484.7 108.4 497.1 88.1 479.8 123.3 485.4 86.9 496.1 69.4 493.3 110.7 489.6 100.7 478.6 110.4 494.9 128.4 492 109.8 471 89.2 486.4 98.7 494.7 68.2 503.2 111.4 490.4 80 490 62 512.3 47.4 476.3 98.8 492.6 75.9 508.6 111 510.7 93.3 496.6 119 519.4 91.2 474.6 101.8 483.9 91.7 496.6 75.2 522.4 93.7 495.1 95 490.4 113.7 504 61.4 493.7 128 464.8 95.3 474.5 106.9 495.6 91.3 484.3 85.5 475.2 111.9 469 69.8 492.3 132 519 48.8 508.5 92.4 505.8 71.3 493.4 88.3 480.7 109.6 465.7 86 495.1 132.7 478 104.2 458.3 112.8 496.7 97.6 493.1 111.4 498.6 75.3 486.8 101.4 488.2 120.5 501.4 123.3 501.8 88.2 506.7 81.7 495.9 82.8 494.1 102.6 504.8 104.6 492 130.7 489.9 103.5 458.3 93.4 483.6 106.1 484.6 91.8 527.8 112.8 490.9 108.8 477.1 127.5 504.8 102.9 493 105.8 491.7 81.6 507 46.1 492 118.3 477 96.1 478.4 91.8 492.1 123.9 493.2 116.7 467.8 97.8 490.5 109.4 468.5 86.5 506.7 111" fill="none" marker-start="url(#rc)" marker-mid="url(#rc)" marker-end="url(#rc)"/><path d="M458.7 100.1L495.7 95.6 480.8 104.5 492.1 115.9 518.3 98.2 502.3 93.3 498.7 95.8 478.7 126.3 494.6 88.6 492.6 132.2 493.1 101.5 503.5 97.2 501.7 92.6 488.2 110 489.7 100 455 97.5 458.6 93 506.8 103.6 505.7 84.2 465 77.7 503.3 113 500.4 85.5 466.7 65.9 485.2 95.1 482.6 92.9" fill="none" marker-start="url(#rt)" marker-mid="url(#rt)" marker-end="url(#rt)"/><path d="M509.3 114.4L501.9 46.6 499 88.3 470.8 107.3 481.7 112.2 482.2 86.4 456.2 92.3 496.7 104.8 486.6 102.3 493.3 87.7 449.4 67.9 464.1 113.2 488.7 100.8 492.4 106.3 491.2 91.4 484.3 117.1 506 104.7 498.1 101 484.8 106.8 501.1 107.4 512.3 54.3 503.5 52.2 499.3 108.7 507.5 104.7 490.6 112.2 509.1 115 491.2 100.6 491.4 114.2 509.9 93.9 493.8 120.3 490.4 122 493.1 98.1 489.6 108.5 487.4 92.7 487.2 94.4 481.1 112 488.2 91.7 490 111.6 463.2 125 502.9 104.4 503.5 117.7 453.1 109.2 476.1 89.3 512.4 109.8 491.4 85.3 473 101 482.9 110.7 495.9 94.1 487.7 90.9 503.6 102.9 506 108.8 494.7 114.4 480.7 112.6 526.8 127.5 504.1 117.1 499.5 62.5 504 96.2 525.3 114.1 464.4 112.4 457.4 111.4 451.5 112.3 495.7 101.1 492.5 101.6 507 111 530.9 88.4 522.8 86.1 505.8 117.9 495.9 117.3 506.6 132.2 498.8 101.5 492.4 91.1 511.5 75.2 472 80.3 486.2 104.9 516.8 113.3 493.8 107 504.1 94.7 446 74.2 520 97.4 498.5 108.7 490.8 99 520.5 89 522.3 105.6 532.3 117.6 531.5 89.8 491 81.9 515.3 113.1 493 107.8 500.7 120.5 493.2 112.9 492.9 116.4 491.7 54.5 501.7 115.6 486.1 97.7 487.5 108.9 495.2 122.2 493.7 89.6 472.9 123.9 497.9 108.4 495.9 109 496.8 111.5 496.7 133 500 116.8 489.9 110.6 419.1 60.6 494.6 108.5 505.6 51.7 518.7 104 489.9 110.9 488.4 110.2 509 101.6 512.5 109.5 510.6 113.3 493.8 71.7 502 99.5 478.3 131.8 506.4 135.2 491.3 82 467.9 89.6 486.5 69.3 545.5 110.3 499.5 98.8 473.8 109.3 506.1 88.3 498.3 122.3 496.2 86.8 482.2 87.8 514.6 110.4 490 104.8 504.9 111.2 503.4 133 479.7 114.3 504.1 94.7 493.7 109.8 476.6 104.8 488.3 104.5 495.5 124.3 500.8 92.9 498.2 107.4 497 111.3 508.4 110.7 542 56.6 501.6 73.5 494.8 111.5 486.8 97.1 492.8 130.3 506.2 115.2 486.1 95.8 486.3 109.1 500.2 105.9 475.8 128.8 484.9 98.6 493.4 89.6 487.1 112.4 497.8 96.8 489.7 122 467.6 117 471 92.6 497.5 117.2 488.3 102.8 493.8 97 497.8 75.1 485.8 108.5 496.3 57.5 516.2 78.1 489.6 109.4 451.1 100.3 491.3 121.1 489.4 108.6 502.2 128.6 491.9 96.5 504.1 122.2 483.9 87.5 481.8 116 483.6 117.1 493.6 105.6 512.6 116.3 495.9 91.2 509.8 60.8 511 95.5 473.4 125.5 507.3 92.9 509 104.6 474.8 105.2 495.5 110.5 498 83.7 505.3 97.9 490.8 122.3 434.4 93.2 494 105.3 560.9 100.2 541 113.5 505.3 92.6 500.3 105 489.7 91.3 488.9 103.5 514.9 107.8 473.5 145.6 454.7 107.9 459.1 98.4 512.3 112.6 526.3 98.5 486.7 115.4 493.2 104.3 494.3 108.7 491.7 95.1 470.2 66.4 501.3 101.7 499.5 118.4 529.7 107.7 500.3 117.9 540 107.9 492.7 108.1 502.1 95.2 478.1 99.8 494 100.9 495 100.6 496.8 112 488.2 100.8 544.5 134.7 499.6 82.6 490.9 115.9 483.3 60.7 499.8 94.1 497.9 97.2 441.1 104.7 483.3 87.7 497 85" fill="none" marker-start="url(#rc)" marker-mid="url(#rc)" marker-end="url(#rc)"/><path d="M481.1 103.4L510.4 102.4 488.4 114.9 492.1 111.8 495.3 91 482.3 109.3 501.2 105.4 510.3 52.7 556.2 95.9 544.6 107.5 483.1 93.9 524.4 124.6 509 84.7 495.7 38.4 492.6 87.3 504.6 85.1 479.3 93.8 484.5 119.2 493 118.7 492.9 109.7 490.9 110.4 485.8 123.8 455.5 56 498.6 97.8" fill="none" marker-start="url(#rt)" marker-mid="url(#rt)" marker-end="url(#rt)"/><path d="M249.5 266.9L171.5 331 149.9 329.8 155.6 330.8 248.9 280.8 125.9 363.7 142.5 339.5 137.3 348.2 243.9 293.8 175.1 330.2 191.8 336.5 207.9 333.2 191.9 333.7 130.1 352.7 119.9 359.1 136.2 348.3 148.7 340.3 121.2 358.8 208.3 296 177.7 357.5 239.6 280.9 266.9 258.9 135.5 360.1 217.6 320.1 179.5 321.4 172.2 315.5 128.1 354.5 142.7 333.3 167.1 346.8 128.1 342.5 220.6 292.1 171.4 328.8 155.2 339 147.4 354.4 110.7 357.9 154.8 347.5 134.5 353.9 135.7 349.9 160.7 341.5 140.9 358.4 125.2 346.5 130.5 364.1 166.4 339.1 179.8 316.2 254.5 277.1 186.7 307.3 101.4 372.5 169.9 358.5 128.2 359.4 170.3 349.5 210.5 324.2 149.6 343.5 232.9 284.7 231.7 360.3 161.7 324 175.1 335.1 191.6 320.7 148.1 343.2 189.8 303.7 154.9 328.7 162.2 321.9 217.8 297.4 180.2 329.3 142.1 337.7 240.4 283.5 258.4 280.8 105.2 368.3 169 364.6 169.5 366.4 168.7 315.9 170.8 316.7 180.4 326.2 156.2 338.6 157.2 333.8 110.2 374.9 153.4 366.8 215.1 318.1 207.5 308.3 125.7 355.3 261.5 273.4 151.4 335.8 167.6 319.3 156 352 135.2 360.3 176.6 319.7 142.3 338 183.4 322.6 131.4 347 164.9 338.9 141.6 340.4 186.7 328.3 163.5 349.1 166.9 343.2 175.8 330.5 168.8 346.4 220.1 283 220.2 290.8 178.5 319.7 159.8 325.6 147.1 344 103.1 359 143.4 342.2 179.4 345.8 173.3 336.3 223 333.6 191 318 160.6 333.5 213.5 290 198 327.8 167.1 343.5 177.8 357.9 131.4 353.6 154.6 332.1 155.5 348 194.9 327.9 247.3 298.1 158.9 339.2 150.5 356.3 262.5 326.2 134.2 339 230.6 294 148.5 359.1 129.5 353.7 179.6 322.1 164.3 339.5 141.6 348.8 206.7 292.9 229.3 275.3 175.6 325.3 159 344 149.4 339.7 143.4 342.4 165.9 333.6 168.7 359.4 190.6 329.9 194.2 357.8 178.5 320.2 187.8 315 142.6 340.4 220.7 324.7 176.5 319.3 167.7 360.7 199 336.2 94.3 366.1 189 307.1 152.9 354.8 174 322.4 169.5 341.5 171.3 329.2 134 356.5 126.7 355.4 158.1 348.9 190.8 320.3 127.6 356.5 178 342 170.1 344.9 112.8 353.3 166.2 336.5 152.8 343.4 150.9 344.2 155.5 380 165.9 326.7 215.6 287.1 178.2 324.3 169.5 351.2 116.4 357.8 183.3 333.2 190.9 345.7 176.4 331.7 195.7 334.2 158.5 335.7 165.9 335 140.7 346.3 168.1 325.1 152.3 355.9 150.7 335.8 203 344.7 168 341 154.9 347.1 155.5 328.6 129.5 356.2 138.3 352.5 164.6 324.6 128.9 351.7 238.8 318.7 223.6 281.6 208 344.2 189.5 303.7 210 338.7 232.6 297.6 170.3 340.6 177.5 319.4 211.8 288.2 270.5 254.9 183.3 316.6 225.5 288.5 254 281.6 253.4 276.6 173.2 318.3 169.5 334.9 131.5 353.1 167.2 356.8 190.2 315.2 141.9 342.6 134.5 340.4 217.5 305.3 141.3 359 134.7 354.6 203.1 306.5 136.9 364.4 197.1 314 196.2 322.1 173.2 341.7 215.5 359.8 157.9 352.6 152.4 347.4 188.4 340.3 178.6 319.1 181.3 332.9 142.5 333 129.6 358.7" fill="none" marker-start="url(#rc)" marker-mid="url(#rc)" marker-end="url(#rc)"/><path d="M149.2 333.2L145 390.4 126.5 362.4 241.5 285.3 234.6 328.7 177.9 309.3 160 362.1 143.4 342 198.3 357.2 172.5 345.7 231.7 340 231.9 337.6 117.4 364.1 212.7 294.4 212.7 350.9 116.1 364.5 172.1 343.5 132.9 366.5 169 343.9 185.1 307.7 227.1 284.4 215.6 372.8 140 359.2 264.6 263.1 213.2 311.6 220.9 332.2 144.3 346 217.3 314.8 134.5 362 153.3 375.2 135.2 350.7 175.6 311.7 108 357.5 173 322.5 242.7 337.3 230.1 322.1 225.5 279.6 258.7 304.1 139.9 343.1 139.6 375.8" fill="none" marker-start="url(#rt)" marker-mid="url(#rt)" marker-end="url(#rt)"/><path d="M188 332L179.1 320 138.8 349 108.1 365.8 173.3 334.3 190.9 315.9 162.5 342.6 201.4 321.2 228.9 287 138.6 354.5 235.4 284.4 184.9 325.2 160.4 358.2 159.4 350.8 154.5 335.8 170.7 339.1 201.2 314.6 258.6 332.7 158.9 352.4 192.4 341.6 171.3 324.8 107.6 380.6 167.9 332.7 199.9 317.4 156.6 336.7 168.5 343.3 157.1 332.8 145.9 357.1 133.8 342.9 151.9 340.3 204.2 345.5 166.3 359.2 173.2 346.6 126.3 362 91.6 369.5 192.8 318 149.5 360.8 175.3 346.6 133.9 365.7 154.8 338 170.3 323.7 265.3 262 150.4 360.9 219.1 314.2 225.8 306.6 178.8 375.9 127.4 346.6 199.4 304.9 122.9 353.7 197.3 391 198.9 360.5 166.7 353.6 171 338.5 240.9 300.2 125.4 350.1 142.1 358.6 132.7 346.8 236.2 273.2 166.6 327.4 227 341.7 170.8 361.6 110.1 359.6 109.1 359.3 177.6 333.2 163.2 327.3 256.7 339.2 135.1 341.8 228.2 278.2 141.2 351.2 197.5 328 121.4 358.3 178.3 311.8 133.9 345 190.9 304.8 167.2 326.3 123.8 370.4 117.8 351.2 184.1 341.7 178.4 337.9 166.3 321 199.4 313.6 129.3 351.5 119 358.7 165.9 335.6 163.9 332 263.2 252.9 184.1 352.3 162.8 343.3 103.1 377.9 244.6 279.3 240 314.4 141.5 334.7 196.3 302.7 176.7 325.4 114.5 364.9 65.9 384.8 181.7 312.6 126 360.4 134.8 345.9 152.7 351.1 105.1 363.2 177.9 329.2 150.1 332.2 132 359.8 117.8 360.6 174 336.6 151.2 332.6 157.8 327.9 156.1 339.2 155.5 324.3 171.7 362 118.4 355.8 175.6 318.5 144.7 341.3 117.6 362.4 186 345.7 244.4 279 162 342 98.8 370.9 146.6 349.1 169.7 346.8 157.8 339.5 200.4 321.9 159.4 335.7 199.6 318.5 217.4 305.3 171.7 368.4 219.3 303.9 131.7 340.5 166.5 322.6 164.7 335.2 186.9 337.7 160.3 355.7 193.3 331.6 189.7 303 152.2 335.6 150 333.6 149.2 357.3 125.3 356.1 142.2 342.9 157.4 350.7 165.1 353.3 201.5 351.3 88.9 374.4 166.3 361.4 201.5 310.6 199.3 338.9 158.4 327.7 119.3 354.8 184.1 317.8 179.2 331.3 190.3 317.2 254.3 278.8 126.7 355.1 143.3 340.6 201.8 303.5 160.7 338.4 96.9 368.1 189.8 309.1 172.9 340.7 288.8 249.1 148.4 336.7 173.9 319.5 129.1 350.6 143.4 333.3 189.9 323.7 152.4 330.7 178.4 328.5 220.6 309.6 123.6 355.7 235.5 287.4 153 332.8 138.3 356 131.7 350.6 198.5 322.7 193.1 324.2 149.9 353.3 179.4 327.3 147 363.9 168.8 332.6 155.5 341.3 144.8 337.8 289.1 244 134.4 350.2 118.1 351.7 228.4 298.1 146 363 202.3 341.8 176.8 331.5 150.7 359 128.5 356.8 225.6 299.6 148.5 345.8 185.2 333.8 245.8 273.5 189.8 328.7 189.5 331.7 212.4 289.9 104 375.1 192.2 343.7 158.8 343.5 230.4 296.5 216.8 292.7 131.6 349.4 195.6 310.9 112.3 354.5 242 291.2 172.4 324.4 133.3 358.7 153.5 349.6 100.5 375.6 142.8 348.1 143.3 360.9 92.4 372.5 251 267 130.3 347.9 201 319.3 160.9 323.3 212.1 321.2 150 356.8 133.4 361.1 195.8 358.1 216.8 333 103.1 368.2" fill="none" marker-start="url(#rc)" marker-mid="url(#rc)" marker-end="url(#rc)"/><path d="M206 337.9L156.1 346.8 226.6 303.6 246 294.2 244.5 291.7 142.2 345.1 215.3 296.6 282.4 242.4 175.2 322.8 230.7 275.8 145.7 354.5 177.5 349.2 199.5 376.5 263.8 276.6 139.2 344.4 145.4 340.4 240.4 293.7 258.6 268.2 254.3 261.8 151.6 361.9 125 375.9 275.1 278.3 202.1 299.7 218 344.9 240.6 279.7 117.3 370.2 221.5 313.4 114.2 361.6 216.6 346.5 144.9 357.5" fill="none" marker-start="url(#rt)" marker-mid="url(#rt)" marker-end="url(#rt)"/><path d="M177.9 354.5L168.7 335.4 168.8 326.8 181.2 324.9 133.6 350.5 115.6 370.1 136.6 343.8 133.1 362.6 143 352.2 155.4 346.4 191 310.7 168.8 333.6 154.9 326.6 175.3 335.9 176.8 338.5 136.7 349.9 157.4 343.3 234.1 307 185.2 308.1 208.2 342.4 179.8 315.1 127.3 361.5 189.7 307.5 126.6 373.7 244.6 285.7 142.2 346.6 148.4 352.7 199.5 301.4 138.2 348.7 205.1 309.9 208.4 319.9 157.6 335.9 170.1 334.6 160.1 321.7 151.1 363.5 151.3 341.1 198.1 302.2 169 333.9 146.1 338.6 134 346.8 139.5 351.2 119.7 354.7 186.5 355.3 152.8 348 193.6 329.3 216.2 316 145.2 347.4 205.6 315.6 222.1 298.2 194.8 373.5 153.6 329.2 104.3 362.9 229.3 344 142 362.2 131.3 350.3 121.5 358.2 143.8 350 158.8 354.7 167.6 336.2 178.4 317.2 167.9 362.4 127.8 353.1 175.5 326.3 172.9 335.5 113.2 356.1 147.4 341.2 201.5 307.2 191.2 358.7 172 319.9 174.3 344 189.2 321.7 148.3 355.6 115.8 356.6 130.1 351.4 180.1 329.5 116.2 363.4 196.7 315.8 152.1 352 150.4 357.9 277 278.9 199.1 345.8 260.6 274 129.5 343 124.3 358.9 146 331.7 123.6 352.4 157.5 343 177.3 317.8 194.2 319.2 164.5 319.7 148.8 332.1 135.4 343 263.2 260.3 153.6 325.5 176.9 338.8 124.4 356.3 187.4 318.9 198.6 302 133.2 368 128.2 362.5 117.7 362.2 113.8 363.8 147.6 342.5 141.6 347.7 248.8 277 135.8 339.5 112.1 367.9 168.6 348.4 137.3 356.7 174.4 352.4 153.8 364.1 206.8 301 116.6 355.5 152.7 363.8 132.6 358.7 137.6 347.7 160.8 322 163.8 347.3 146.9 338.8 172.7 353.1 139.5 352.1 195.1 321.4 166.7 356.7 143.8 343.5 163.6 345.5 149.7 366.3 142.7 358.6 178.6 331.1 219 302.3 186.2 351.6 199.1 349.9 210.7 295.7 110 358.1 187 345.9 153.4 331.6 175.7 317.9 164.7 330.7 158.4 350.8 149.6 359.8 206.9 347.4 169 322.9 134.5 358.2 153.9 352.4 204.3 337.8 154.4 351.5 211.5 313.5 254.6 292.7 143.2 345.7 105.4 367.1 167.7 323.9 121.8 365.3 146.1 368.8 223.2 344.7 173.5 343.1 237.2 293.8 176.5 314.8 133.1 355.3 123.7 356.7 128.3 354.3 107.5 369.7 186.3 310.4 268.4 258.1 128.8 350.4 103.5 372.3 180.3 317.9 178.4 335.5 225.7 291.2 197.3 320.8 155.1 332.8 146 335.6 141.6 340.3 122.3 359.7 124.8 357.8 149.1 344.9 162.2 335.7 157.9 326.9 162 332.4 134.1 349.1 179.5 326.6 188.7 356.5 164 344.2 224.1 320.2 144.6 357.3 169.8 330.8 127.8 354 148.6 356.7 212.4 314 194.1 336.6 144.6 362.1 198.9 322.7 185 344.9 147.9 348.2 143.6 332.9 141.5 341.9 127.5 348.1 150.9 338.6 144.8 360.4 168.9 320.2 176.4 320.2 175.3 332.8 179.4 341 158.7 359.2 141.8 344.8 112.6 362.5 178.1 321.4 116 369.2 196.6 328.4 227.1 289.1 167.4 324.3 167.2 325.9 166.6 342.8 188.7 338.1 191.4 357.6 161.6 357.9 145.4 351.4 209.4 296 172.3 320.3 226.9 277.1 152.9 326.1 161.4 332 109.5 366.4 144.8 359.6 116.1 351.1 165.4 339.6 178.5 338.4 138.9 350.2 208.4 300.9 120.7 355.1 146.5 347 199.6 342 274.8 263.6" fill="none" marker-start="url(#rc)" marker-mid="url(#rc)" marker-end="url(#rc)"/><path d="M148.4 329.2L194.9 333.7 175.8 313.5 176.7 331.3 229.3 325.7 245.5 287.9 125.2 360.1 247 273.5 193.9 309.5 208 336.9 158 336.7 184 330.6 186.6 391.2 274.8 246.1 184.4 309.4 182.8 328.3 110.5 362.7 141.4 362.1 153.8 329 146.6 357.4 204.4 324.5 189.5 306 185.3 318.7 121.5 358.6 170.9 330.4" fill="none" marker-start="url(#rt)" marker-mid="url(#rt)" marker-end="url(#rt)"/><path d="M162.5 328L180.5 328.7 174 316.5 156.5 338.4 155.5 334.1 183 344 158.9 325.9 176.8 372.2 168 338.2 190.6 335.9 168.7 351.3 162.6 321.8 183.8 332.4 147.5 330.9 194.5 343.4 121.4 349.8 163.7 336 171.9 333.6 181.2 348.7 130.1 343.8 121.7 355.9 152.2 347.7 119.8 371 122 354.3 155.6 329.1 187.3 333.6 171.4 331.5 155.5 349.6 229 303 129.8 349.9 190 333 159.6 340.2 177.5 322.8 163.9 358.3 145.5 359.2 152.4 335.7 157.2 345.4 124.1 352.1 130.2 355.8 163.6 344.4 143.5 333.9 133.7 360.3 210.3 348.9 155.8 353.1 182.2 328.2 182.8 320.5 135.5 351.1 125.5 360.6 177.7 319 139.5 343.5 153.6 345.3 163.1 320.4 128.1 358.8 168.2 322.8 112.4 356.3 170.3 319.4 152.7 342.2 190.9 317.4 166.4 334.3 164.5 320.6 164.7 355.5 174.8 329.3 136.6 338.4 192.7 314.5 150.8 338.4 183.8 347 159.4 338.9 188 324.2 128.8 354 133.9 339.6 139.4 341.1 149 329.5 178.9 345.9 243.1 274.2 148.9 352.5 174.5 337.3 219.8 284.9 124.9 356.4 236.9 274.6 146.9 365.7 191.9 321.2 200.5 346.6 169.9 315.8 123.6 354.6 164.8 354.9 157.2 359.5 155.5 360.9 160.2 344.3 237.8 273.3 194.9 298.3 128 361.3 157.3 333.4 229.7 281.5 197.4 356.5 172.2 346.4 169.3 357.8 118.6 351.5 156.4 333 157.2 345.6 191.7 336.7 137.8 346.3 174.6 332.9 186.4 321.9 178.8 353.3 150.4 327.7 164.6 332.8 152.5 342.8 175.9 315.2 181 321.9 185.9 322.3 162 328 150.8 341 170.2 317.1 181 336.9 185.5 313.6 262.2 318.4 226.2 301.2 129.4 353.5 171.1 325.6 157.2 342.6 227 282.7 226.1 287.7 223 353.5 200.2 319 155.1 344.2 157.3 342.8 175.7 338.7 185.5 364.8 132 342.1 131.9 346.6 159.3 365.8 210.7 345.4 149.1 341.2 188.6 346.8 160.2 333.9 135.3 343 123.8 351.5 154.7 341.4 215.2 343.2 147.8 334.8 144.5 341.5 179 325.6 123.1 357.1 130.5 353.8 177.1 327.9 114.4 359.1 166.7 334 181.9 312.4 141.7 356.9 166.4 347.2 172.1 361.1 130 348.8 152.3 343 139.7 358.7 152.8 337 150.1 358 152.5 336.7 114.3 353.1 137.9 349.2 111.7 362.4 199.7 338 181.4 315.5 239.9 324.5 149.3 350.5 199.6 345.2 137.4 343.7 229.1 279.6 238.9 296.1 211 320.9 139.4 361.2 271.3 276.7 159 336.2 177.4 325.4 116.8 354.8 200.6 299.5 170.8 324.2 114.3 378.4 155.1 348.6 205.8 305 235.4 310.6 238.2 297.8 110.2 358.9 215.2 300.5 124.5 357.6 170.1 315.5 165.9 347.6 169.9 317.8 245.5 287.5 276.5 253.3 149.2 359.2 117.4 357.3 169.1 335.6 179.5 360.5 213.1 312.7 149.5 337.2 134.9 347.4 208.8 323.8 224.6 307.7 164.2 355.9 258.2 311.9 147.5 331.2 171 314.3 179.2 319.2 125.8 349.1 138.4 342.9 118.1 358.5 147.1 359.4 145.5 394 195.2 301.8 144.7 342.1 183 332.3 124.6 370.1 174.9 346.3 151.3 349.7 203 344.4 230.5 299.7 143.2 355.6 103.2 366.3 159.7 338.3 134.2 363" fill="none" marker-start="url(#rc)" marker-mid="url(#rc)" marker-end="url(#rc)"/><path d="M185.9 320.2L171.3 331.8 171.7 338.4 160.2 326.3 188.4 310.9 198.4 303.7 157 342.6 154.3 325.6 140.5 357.4 165.2 324.7 181.4 334.6 144.5 337.9 199.1 295.8 205.6 297.9 214.7 372.2 249.9 299.1 250.3 297 121.8 347.2 170.1 363.5 121.5 352.4 234.2 318.5 199 349.4 101.2 360.3 185.7 321.6 232.9 353.4 147.4 357.3 222 313.7 205.3 343.4 131.4 358.4 177.2 329.5 175.7 361.2 240.1 285 259.9 357.9 114.6 375" fill="none" marker-start="url(#rt)" marker-mid="url(#rt)" marker-end="url(#rt)"/><path d="M465.8 342.5L470.8 350.6 473.6 346 468.5 350.7 445.7 354.3 481.4 339.1 472 337.1 454.4 356.1 463.7 339.8 439.9 356.9 504.8 313 478.7 363.1 452.4 357.1 508.6 322.2 519.4 310 469.3 336.8 498.5 319.1 496.7 315.4 484.3 343 452.3 355.8 466.8 335.4 468 338.3 472.6 339.7 535.1 320.5 571.1 266.5 464.3 341.4 491.6 328.7 476.5 336.4 487.9 331.2 517.1 313.7 466 352.9 479.4 355.5 455.2 342.7 556.5 298.3 454.7 355.5 464.5 337.9 450 354.3 489.8 331.9 535.8 341.7 481.1 328.4 482.5 338.3 487.3 348.6 488.8 325.4 493.6 326.9 458.9 353.7 463.4 350.9 457.9 355.5 486.8 357.8 456 350.4 474 344.5 500.9 338.2 465 338.4 488.7 335.4 498.7 325.6 490.5 347.6 487.2 328.2 456.8 347.2 458 344.8 474.2 335.8 501 315.6 449 349 480.9 364.6 442.1 356.1 440.3 359 476.7 337.8 499 325.4 445.7 351.6 466.6 337.9 442.9 359.8 459 355.5 459.6 362 460.8 347 474.6 358.1 494.7 322.1 452.8 357.7 445.1 363.7 522.6 323.7 474.1 344.4 495.8 338 507.5 318.9 483.5 333.1 496.7 320.1 482.9 335.5 499.8 327 456.6 357 498.8 321.3 468.1 339.6 459.3 358 543.8 307.1 523.1 332.9 486.4 340.4 469.5 343.9 521 311 433.6 377.8 462.1 349 507.4 324 484.7 331.3 455.7 352.1 449 356 466.1 342.9 452.8 352.9 491.1 323.1 450.8 356.3 531.1 324.1 462.8 348.8 471.9 335.4 475.1 362.3 506.3 320.7 476.8 334.4 516.4 307.9 445.2 357.6 530.3 340.7 469.9 344.3 474.9 336.6 491.1 324.5 476.5 352.4 503.5 317.8 439.5 369.1 467.8 340.5 446 358.5 492.1 325 450.7 363.8 482 330.8 428.3 365.7 463.3 350.8 457.5 351.3 441.6 357.6 458.6 344.4 508.1 343.7 475.9 342.5 458.5 344.7 501.9 326.6 468.6 344.3 532 335 472 334.9 495.8 333.6" fill="none" marker-start="url(#rc)" marker-mid="url(#rc)" marker-end="url(#rc)"/><path d="M513.5 317.7L502.4 322.5 564.4 345.2 526.3 297.9 459.4 346.4 447.7 350.8 472.7 342.8 499.6 331.1 510.8 364.1 497.5 314.5 511.2 344.1 463.1 362.6 535.2 336.4 442.4 357.8 463.7 352.1 467.7 365.5 506.8 318.1 466.3 344.2 506.9 323 484.2 325.3 497.5 316 458.6 363.6" fill="none" marker-start="url(#rt)" marker-mid="url(#rt)" marker-end="url(#rt)"/><path d="M416.9 372.5L460.1 349.8 465 349.3 470.2 335.9 490.4 358.8 470.9 359.7 503.1 319.9 462.9 348.1 450.4 346.1 470.1 344.1 513.7 307.3 493.2 330.4 456.3 343.8 480 334.2 538.9 290.5 503.7 327.2 489 326.1 462.2 349.1 465.7 345.2 505.9 316.2 481 333.6 447.6 359.9 466.2 339.4 472.9 351.5 473.2 331 460.4 340.9 430.5 365.9 528.2 327.4 452.6 354.3 445.7 357.8 464.1 354 468.8 347.1 487.3 329.5 455.2 352.7 484.3 351.2 435.2 381.6 477.5 334.7 469.9 339.3 486.9 345.1 479.7 332.2 471.4 339.5 478.3 337.7 475.6 339.6 444.1 360.6 457.4 352.2 496.6 364.7 480.8 338.2 491.1 342.9 464.9 336.4 500.2 331.6 495.6 341.4 442.7 356.1 484.2 370.1 446.1 350.8 469.6 334.5 486.2 352.1 492.4 322 494.9 338.8 461.8 356.8 457 343.2 493.3 341.3 456 363 512.1 321.4 471.6 338 476.8 336.8 507.5 327.2 462.9 345.5 472.3 343 440.5 358.8 453.3 358.2 524.3 344.5 460.2 344.8 432.9 363.9 456.2 361.7 478.1 334.3 525.7 357.9 541.9 323.9 507.7 320.8 459.5 354.5 461.5 348.2 473.2 336.6 463.2 351.9 489.3 335.9 494.4 326.3 479.4 330.1 461 346.4 477.2 332.6 428.4 360.6 535 293 478.3 342.7 464.4 348.1 490.4 332.2 473.3 351.9 428.3 367.5 473.8 344.2 471.1 339.2 515.3 345.6 533 313 448.8 354 513.2 316.4 456 353.4 472.6 336.1 442.9 353.9 495.4 327.5 504.8 344.1 457.3 358.5 464 357.6 454.4 358.9 507.2 314.5 490 363.6 487.4 324.1 494.1 327.9 494.8 339.1 437.4 355.1 473.7 340.6 477.5 337.2 493.3 329.6 467.9 337.3 476.7 334 510.5 337.5 451.4 355.1 480.1 350.8 493 317.4 476.7 333.8 462 349.1 475.6 338.4 558.3 325.2 504.4 325.2 490.6 340 483.6 329.8 480.7 338.6 477.4 335.2 486.1 332.1 455.5 350.5 446.1 353.6 473.1 331.5 456.5 349.1 512.2 349.6 543.8 313.9 456.5 354.3 505.7 316.6 500.2 317.2 461.9 350 486 357.3" fill="none" marker-start="url(#rc)" marker-mid="url(#rc)" marker-end="url(#rc)"/><path d="M461.9 356.7L508.3 344.6 482.1 346.7 519.5 351.2 476.7 342.1 483.9 324.4 495.6 336.5 530.6 332.1 498.4 338.3 453.9 369.8 459.7 347.9 558.4 291.9 468 364.3 433.4 366.2 437.2 373.4 473.3 361.7 438.7 371" fill="none" marker-start="url(#rt)" marker-mid="url(#rt)" marker-end="url(#rt)"/><path d="M508.7 308L466 341.1 470.5 347.1 475 359.2 501.3 339.3 476 342.4 459.6 356.8 462.1 350.8 476.7 343.6 485.4 335.1 490.7 325.3 521.7 357.8 491.7 322.3 438.5 364.1 484.5 328.8 489.5 329.5 508.6 312.4 475 349.4 492.6 338.4 450.2 352.9 465.7 345.3 482.8 327.1 451 359.4 478 366.6 493.5 321 475.8 360.9 481.9 332.8 506.8 318.5 539.5 296.7 516 331.6 448.3 352.2 440 360.2 487.9 344.8 477.2 335.3 478.4 343.2 531.1 351.6 475.1 345.7 505 315 461.3 353.5 503.2 333.8 515.5 310 570.5 268.1 463.5 347.4 466.8 352.7 483.5 323.5 536.9 326.8 496.3 328.8 456.9 345.7 555.5 300.2 466.4 350.8 506 318.3 489.2 336.7 500.6 319.5 495.6 327.6 458.5 353.7 526.8 306.7 451.3 363.7 525.6 322.9 481.7 337 517.9 324.4 479.5 328.9 454.2 357.4 483.4 331.5 455.2 342.7 507 330.3 466.8 341.7 454.1 349.7 456.6 352.2 483.8 347 491.6 323.8 459.5 349.2 510.6 340.7 467.1 336.2 512.2 333 473.7 332.7 494 339.1 455.6 353.7 467.6 345 484.8 333.7 429 371.5 448.5 353.2 470 335.2 516 318.7 501.7 319.8 500.9 313.9 495.3 319.5 493.2 327.9 458.7 351.7 464.5 341.1 484.2 357.6 500.6 337.6 450.3 359.5 479.4 355.4 479.6 342.1 488.1 324.6 463.7 344 479.7 338.6 478.3 336.6 509.5 317.6 473.7 335.9 517.5 308.6 467.7 351.9 481.6 338.4 451 346 479.2 375.6 510.9 325.8 506 325.1 480.1 344 467 338 569.7 270.4 490.4 326.9 480.1 332.7 434.6 370.6 445.6 360.1 486.3 329.5 454.9 349.5 538.7 350.1 497.7 323.4 542.8 304.7 566.3 321.2 480 364.6 484.3 323.2 448 359.6 488 337.1 454.4 344.7 491.7 329.2 463.6 353.6 451.6 345.6 498.7 320.8 472.7 337.7 472.6 334.2 467.7 349.1 502.3 313.9 479.7 334.6 458.5 343.7 448.8 351.4 460.1 341.7 434.4 367.9 458.5 342.9 518.9 310.4 491 325.4 483.4 342.8 486.9 347.7" fill="none" marker-start="url(#rc)" marker-mid="url(#rc)" marker-end="url(#rc)"/><path d="M564.3 284.7L482.6 344.7 453.9 351.6 508 361.1 536 301.2 501.4 318.6 485.1 367 502.6 329.7 541.3 288 490.1 348.8 512.4 343.1 452.4 368.3 564.9 293.4 525.7 345.5 487.6 322.5" fill="none" marker-start="url(#rt)" marker-mid="url(#rt)" marker-end="url(#rt)"/><path d="M501.4 322.9L478.6 339.1 479.6 338.9 512.7 309.6 505.7 323.8 486.7 356.3 496.9 316.2 505.3 320.6 487.9 333.5 465.9 342.5 497.5 324.6 517.5 332.6 500.9 320.8 450.5 364.6 483.2 336.2 453 354.6 475.7 336.8 472.7 343.2 439.9 360.1 450.5 360.2 460.5 357.4 490.1 322.6 455.4 354 501.1 319.3 471.1 331.8 495.9 324.4 474.4 333.1 525.5 331.3 493 333.6 434.6 356.1 457.5 353.4 539.9 304.1 479.5 343.1 522.7 347 443.7 361.1 482.1 334 465.8 340.2 534.4 351.6 462.1 344.8 512 331.3 429.2 365.2 472.5 341 471.2 336.8 463.6 354.6 476.7 345.1 478.1 331.5 470 336.2 481.1 326.2 489 328.5 512.3 309.5 488.5 321.5 469.7 355.3 483.7 359.1 452.5 350.9 491.5 339.2 487.9 327.1 429.9 367.2 541.7 335.2 485.6 329.6 467.4 343.3 458.2 371 451.8 358.1 505.6 324.4 463.4 337.9 468.9 342 479.1 334.2 506.7 319.1 481.1 343.8 445.7 354.1 473.7 351.6 528.2 312.7 465.8 338.9 483.8 326.2 532.7 293 455.6 353.5 456.7 346.6 472 342.9 463.9 351.4 499.6 329.8 485.6 323.2 472.5 340.5 487.4 345.2 493.2 326.3 483.2 330.2 482.1 341.7 493.2 351.7 451 354.7 530.2 313.9 485.6 342.1 456.9 359.7 451.7 362 481.5 348.4 485.2 329.8 456.1 358.5 506.8 311 448.6 352.6 487.5 337.8 468.7 343.3 481.1 342.7 486.4 343.4 453.1 345.9 569.5 290.9 560.4 357.6 430.4 366.9 508.3 324.3 443 351.8 464.1 344.8 470.2 357.4 495.6 356 448.7 372.2 473.8 335.3 457.3 343.9 454.4 362 470.5 352.4 440.4 357.3 489.8 336.7 443.1 360.6 468.3 341.3 457.8 351 493.9 325.4 485.8 323.3 484.8 335.3 496.7 329.5 475.4 337.8 454.3 369.8 473.8 351 458 352.2 488.9 325.1 490.3 337.3 489.8 328 516.5 336.4 485.4 338.4 470.2 335.1 471.6 341.7 519.6 371.7 471.1 346.4" fill="none" marker-start="url(#rc)" marker-mid="url(#rc)" marker-end="url(#rc)"/><path d="M464.2 346.4L523.1 320.6 454.5 344 523.4 329.8 496.9 328.2 488.5 353.6 523 315.4 520.2 319.1 450.6 349.1 484.2 335.4 510 363.7 479.7 330.5 442.7 363.1 500.4 339.2 460.6 339 495.3 318.1 550.3 320.5 464.9 344.2 458 364.5 433 379 445.3 353.2 513.6 362.4" fill="none" marker-start="url(#rt)" marker-mid="url(#rt)" marker-end="url(#rt)"/><path d="M54 510.7L113.6 509.9 174.5 526.5 75.8 512.3 107.7 509.7 58.1 512 103.2 513.3 79.2 523.5 83.3 512.6 87.8 516.7 279.9 514.3 76 513.9 255.3 512.6 72.2 517.1 109.2 512.4 106.4 508.5 49 512.7 109.3 507.7 249.1 519.2 51.4 515.8 177.8 516.3 79.8 511.2 173.9 510.5 63.1 512.3 79.8 510.4 86.9 511.2 84.5 522.2 164.7 509.3 277.4 510 76 501.6 57.4 513.7 110.9 502.2 160.1 513.6 79 506.6 91.3 508.7 169.2 525.3 73.2 497.4 119.4 506.8 174.9 506.3 256.6 507.8 49.2 503.9 80.1 514.3 142.4 518.1 52.3 509.4 49 511.5 261.1 515.1 273.6 507.8 57.1 509.5 93.3 512.9 73.6 508.9 50.2 510.9 256.1 504.4 110.9 512.5 73.9 513.1 76.9 514.4 76.4 506.8 50.3 504.8 277.1 516 88.6 513.2 119.4 515 90.1 505.1 54.2 505.9 222.7 511.9 71.3 512.6 111.6 514.1 169.2 525.5 87.9 501 87.1 513.3 115.7 516.7 255.2 505.7 166.9 503.2 176.1 525.4 277.2 519.3 56.7 514.8 88 513.8 171 516.1 176 508.8 255.8 519.3 166.1 528.2 98.2 510.5 57.5 506.2 273.1 511.3 156.8 513.2 57.7 507.5 110.7 509.9 190.5 511.7 71 511.6 248.2 508.5 91.7 514.4 72.5 504 108.6 510 73.9 515 111.7 515.4 260.5 510.8 109.1 488.3 83.3 504.5 132.5 522.9 257.7 512.8 104.3 504 141.5 503.1 76.2 517.9 280.3 512.3 253.5 520.9 274 500.7 52 509.9 70.4 494.1 154.9 496 249.8 508.8 57.7 508.6 115.9 513.7 176.6 503 77 502.7 82.5 508.9 49 510.5 56.5 514.2 68.4 513.8 261.5 510.3 176.2 518.9 51.8 512 74 509.1 164.4 507.5 61.9 516.3 192.1 519 197.2 490.8 256.3 513 78.6 523.6 274.7 508.9 110.3 509.7 76.9 506.3 55.7 515.1 82.2 505.2 172.4 523.7 74.8 507.7 113.1 509.5 49.3 508.8 115 518.9 53.7 509.5 77.8 513.8 275.3 507.9 169.9 509.7 108.8 514.3 161.5 507 76.8 512.4 257.7 523 104.6 509 107.5 518.5 211.4 501.1 51.2 508.7 241.8 523.5 108.3 504.3 90 508.9 231.2 515.2 168.7 507.8 111.2 506.9 108.6 516.9 137.2 509.5 89 523.6 72.1 512.2 108.6 510.1 68.3 507.9 84.5 514.1 61 515.6 75.4 510.2 280.2 520.6 52.4 509.2 107.5 511.9 112.2 513.9 273.8 510.6 127.3 503.3 57.7 513.8 77.6 502.2 61.2 513 259.1 518.7 157 507.1 91.8 514.7 84.1 516 105.2 511.6 173 524.8 179.3 499.7 79.4 511.3 276.3 507.9 280.3 517.4 79.1 517 71.3 512.1 69.8 519.4 167.3 521.2 61.2 518.1 65.8 508.4 110.5 509.5 232.3 506.7 87.3 519 184.1 496.6 74.3 514.9 122.5 509.8 50.9 511.5 168.6 543.3 164.1 520.6 172.2 480.9 254.1 515 99.4 513.4 75.7 511.1 260.1 519.1 249 520.8 112.8 526.3 232.3 507.5 58.1 509.9 197.1 502.2 73.9 516.3 146.3 514.2 97.9 508.6 77.3 504.8" fill="none" marker-start="url(#rc)" marker-mid="url(#rc)" marker-end="url(#rc)"/><path d="M255.5 517.7L101.4 503.3 251.4 512.3 133.8 496.3 170.6 523.4 71 500.6 79.1 507.5 57.2 514.6 57.7 515.5 254 520.1 73.4 511.4 211.8 522 231.4 511.7 256.8 500.4 111.1 511.7 172.8 520.1 102.4 508.6 85.3 514.7 106.1 507.5 90.2 512.4 50.3 519.2 49 509.8 79.3 515.4 192.7 493.2 56.3 509.3 100.1 503.3 85.7 505.7 115.9 504 80.9 512.2 178.2 514.4 53.8 511.2 144.7 517 121.4 511.7 257.7 499.8 50.3 504.2 160.1 504.6 60 508 167.6 517.3 57.8 515.2 170.5 524.1 277.7 517.7 200.9 528.6 181.1 508.7 57.7 513.1 255.5 506.8 78.6 516.9" fill="none" marker-start="url(#rt)" marker-mid="url(#rt)" marker-end="url(#rt)"/><path d="M169.8 521.8L110 506.6 62.9 508.1 73.1 516.7 143.3 517.6 71 513.5 95.7 511.9 118.4 525.7 164.1 512.1 57.8 509.1 80.4 516.8 144 506.5 84.9 516.2 142.5 515.5 107.5 513.8 158.3 519.6 85.2 505.9 271.4 500.5 117.2 505.1 86 507.8 254.2 511.4 74.6 510.6 99.9 504.3 103.3 507.2 52 516.7 86.6 509.4 101.8 537.9 91.1 509.1 110.8 507.2 71.5 507.6 132.5 514.6 101.4 508.1 221.9 509.6 250.7 522.9 62 504.7 105.4 512.8 277.9 507 82.6 508.9 82.2 511.5 111 518.5 173.7 502.2 112.8 509.3 142.6 498.9 73.1 504.5 107.9 477 53.9 514.5 117.6 520.8 169.6 508.1 77.1 512.2 70.6 512.9 253.7 522.1 88.1 511.2 229.8 508.5 125.3 525.2 108.3 517.8 256.7 514.9 89 513.8 76.9 516.9 79.1 525.7 275.6 520.3 156.2 495.6 119.8 514.1 63 512.1 80.7 514.2 102.1 507.1 170.6 503.7 78.7 509.7 76 513.9 91.5 520.4 60.2 512.1 71.2 508.8 176.6 518.2 71.9 509.8 114.8 509.6 231.4 521.6 168.2 520.3 77.9 510.5 58.1 514.1 91.8 514.8 157.6 512.1 81.6 510.7 82.1 512.4 89.2 507.1 155.2 500.6 106.4 517.6 109.9 505.6 272.8 516.5 174 520.9 59 510.2 71.4 507.4 173.1 502.5 103.9 509.4 53.4 507.9 259.8 506 78.5 514.2 93 545.2 145.3 514.9 109.2 511.2 175 515.6 114.8 507.4 138.7 501.4 50.8 505.6 75 508 277.7 523.8 118.3 512.8 177.3 500.9 69.3 504.6 252.6 502.5 171.8 517.9 165 521.8 58.2 499.3 169.3 517.5 75.1 510.4 171.3 527.1 146.3 543.5 109.3 517.6 82 513.7 49.1 513.1 108.5 520.9 86.1 513.2 178.2 507.3 168.7 517.2 253 491.1 59.5 508.3 81.8 506.8 85.7 523.7 123.3 510.4 54.3 508.4 108.8 509.4 206.1 504.5 64.1 511.4 106.5 511.3 106.1 507.1 110.3 509.6 106.3 504.1 62.2 513.9 50.3 507.2 49.8 511.6 70.2 514.1 109 517.8 108.5 507.6 163.7 519.1 173.1 506.6 109.6 512.3 178.4 486.7 79.8 514.9 111 520.9 74.6 507.5 80.1 511.7 189.8 521.7 116.7 516 56.2 511.9 103.2 514.2 118.2 527 88.3 512.7 70 509.4 132.4 514.5 79.6 504.7 75.5 530.7 69.2 504.2 81.4 511.8 168.5 510.7 257 506 109.9 516.2 77.4 505.7 171.2 506.5 258.2 513 61.8 513.2 77.2 502 115.4 540.3 90 512.2 109.1 516 95 482 275.7 510.4 110.8 520 274.4 507.2 106.6 510.3 279.4 503.2 230.5 513.3 123.9 513.2 139.8 522.3 112.1 511.7 256.2 518.8 52.5 518 173.1 485.9 132.1 503.7 252.7 509.3 99.5 522.2 58.1 509 249.7 516.4 80.9 509.8 131.8 513.8 73.9 517.4 56.8 509.7 128.4 527 51 512.8 114.5 512.2 82 506.6 88 520 274.3 509.3 123.2 498.1 255.9 509.9 167.9 513.5 259.9 515.6 102.2 513.4 137.6 496.6 71.3 511.8 54.2 514.9 105.8 510 83.1 514.2 51.4 506.1 253.2 479.8 252.6 513.9 69.6 509.1 152.2 513.1 124 506.6 217.3 512.7" fill="none" marker-start="url(#rc)" marker-mid="url(#rc)" marker-end="url(#rc)"/><path d="M61.4 511L73.9 511.9 74.7 512.6 79.3 507.6 112.5 507.7 49.1 511.4 177.5 509 59.7 509.1 256.1 508.1 172.3 504.3 151.7 500.9 120.6 509.8 79.4 515.4 130.7 521.4 91.1 492.6 254 507.8 82.3 512.5 106.6 511.5 126 510.7 73.7 513.6 58 512.3 128.6 503.5 111.2 504.6 111 509.8 89.7 507.8 58 506.8 106.4 511 60.4 509.4 76.5 517.1 55.9 509.1 109.5 513.8 87.9 519.8 177.7 506.9 99.8 500.8 118.9 499.3 100.2 513.1 88.8 509.1 155.2 502.4 78.8 506.9 141.3 523" fill="none" marker-start="url(#rt)" marker-mid="url(#rt)" marker-end="url(#rt)"/><path d="M87.5 510.8L140.7 504 81.3 509.8 87.7 495.6 179.1 525.2 106.6 510.1 74 507.9 109.2 509.7 49 507.3 116.4 512.9 109.5 515.6 126.4 511.9 279 499.8 107.1 493.8 143.4 511.6 167.5 500.9 71.5 542.2 106.6 509.5 137.8 513.7 162 526.5 279.6 524.6 157.7 498.4 173.4 513.4 102.5 507.3 164.7 508.5 177.8 524.4 116 513.4 87.4 502 87.4 507.8 147.2 542.5 56.4 509.1 251 506.4 82.2 513.3 84.3 511.8 216.9 510.4 111.7 517.4 194.5 506.5 81.4 505.1 73.1 525.2 56.2 511.7 231.8 520 198.4 528.6 257.2 509.6 74.8 506.9 69.4 522.1 99.1 517.2 75.2 509.7 101.8 514.7 118 519.6 182.4 519.9 112.8 511.3 254.2 509.4 114 527.2 111.7 508.7 78.2 515.1 167.5 537.7 169.8 524 78.5 509 107.4 512.5 83.4 509 176.9 516.1 204.8 511.3 117.5 508.1 62.8 516.3 254.5 515.8 140.4 510.4 71.4 511.7 100.9 507.8 109.6 512.4 158.6 506 113.5 514.3 109.1 521.4 111.6 504.1 79.4 509.1 72.4 512 58.7 508 110.4 509.2 84.2 505 127.2 504.5 159.4 505.4 93.6 509.2 111.7 511.2 82.6 513.8 250.2 514.7 112.4 501.9 257 503.3 80.4 508.1 60.4 514.5 150.8 519.8 258.7 515.7 87 514.4 107.9 517.3 78.7 505.7 107.7 505.5 76.5 510.6 70.6 519.4 142.6 521.2 116.2 505.3 116.3 516.8 124.9 525.5 90.7 514.8 116.6 512.2 114 517.6 173.5 516.2 79.6 514.9 254.6 514.5 128.9 536.8 74.1 510.2 88.9 516.9 62.4 518.9 136 510.8 51.1 506.5 108 515.9 79.2 500.6 77.9 511.6 81.6 515.7 279.7 509.2 109.2 505.4 75.6 506.8 111.1 515.6 278.1 506 108.4 516.7 275.3 515.3 74.7 510.8 128.2 509.4 110.1 504 212.8 498.6 167.8 501.7 49.4 513.2 175.2 501.3 111 515.4 107.1 524.4 152.4 497.2 277.8 514.5 138.3 503.5 109.9 506.8 57.3 509.6 110.5 523.3 109.4 516.6 169.3 506.7 83.6 512.9 131 528 109.7 515.6 87.1 510 271.6 509.1 203.2 509.3 173 511.4 52.2 511.2 111.4 513.8 130.5 490.7 211.8 524.4 172.4 509.3 146.6 503.4 93.1 510.8 167.7 498.5 83 513.3 59.1 513.5 189.1 506.5 83.2 507.3 146.9 486.1 257.8 523.2 255.9 510.1 277.7 521.7 110.5 523.9 146 514 89.3 505.9 111.6 507.5 111.1 497.7 72.4 507.3 61.8 520.1 127 503.3 218.6 518.8 59.1 511.8 56 511 72.5 510.4 80.3 492.6 142.7 505.2 253.5 520.1 99.6 517.3 133.2 513.8 107.1 504 112.5 504.6 113.2 520.6 176.7 512.4 81.5 509.2 89.5 513.3 109.1 517.8 70.7 513.3 117.2 507.8 53.2 519.1 87.5 498.9 92.9 508.7 80.7 509.7 53.2 508.9 80.3 511.4 66 513 170 526.3 111.9 507.2 72.3 510.7 218.2 510 191.3 528.5 109.6 513.3 77.5 505.4 255.4 504.4 276.5 516.4 203 537.1 166.9 504.8 130.5 516.1 109.5 507.8" fill="none" marker-start="url(#rc)" marker-mid="url(#rc)" marker-end="url(#rc)"/><path d="M281.5 524L273 516.1 164.9 521.7 202.6 551.9 169.5 519.4 50.4 499.7 103.8 516.6 123 513.1 260.8 507.2 86.8 505.6 107 515.1 103.6 510.4 247.8 508.5 57.8 512.1 71.8 514.3 89.6 502.8 80.1 515.3 73.3 509.9 105.8 511.9 61.8 514 116.1 511 238 523.8 186.2 512.1 76.7 507.2 56.8 505.8 137.8 511.1 59.5 512.7 76.2 511.1 212.4 512.6 128.5 513.3 117.1 516 51.2 513.3 158.6 504.8 165.6 506.4 231.2 515.2 118 506.9 83.4 504.9 54.7 505.7 99.2 514.5 260.9 519.3 76.7 504.1 58.6 508.1" fill="none" marker-start="url(#rt)" marker-mid="url(#rt)" marker-end="url(#rt)"/><path d="M141.9 506.1L101.2 506.7 76.2 516.3 128.3 516.9 108 505.8 70.4 514.3 111.5 518.5 70.2 513 106.3 533.6 137.7 534.3 173.7 524.1 54.8 512.9 57.3 503.6 53.1 516.8 93.6 514.1 108.4 505.8 238.2 512.5 89.9 507.7 85.9 503.1 87 507.4 251 515.9 253.6 477.8 108.5 508.2 118.2 497.1 257.6 513.8 85.9 511.7 57.2 512.9 163 504.9 102.9 502.3 108.1 509.4 113 514.9 123.8 516.4 79.1 507 120.9 514.2 170.9 517 145.7 512.1 105.2 516 257.9 518.6 82.2 512.8 74.2 509.5 61 511.6 112.2 506 109.8 507.2 111 509.6 69.8 511.1 49.8 513.3 87.5 513.6 171.5 517.2 275.8 514.8 173 507.6 63.8 510.4 109.1 526.6 122.7 513.3 168 517.1 85.8 508.5 69.9 514.5 56.4 509.7 83.7 515.1 261.1 511.7 95.2 509 129 525 174.9 517.1 112.7 527.2 75.4 511.2 84.5 512.2 124.2 519.2 176 504.5 85.5 512.1 58.1 518.3 107.5 514.5 76.4 511.5 55.3 510.6 119.5 513.5 60.7 520.8 238.2 479 84.2 513.7 165.7 501.7 53.7 510.7 80.9 506.2 50.5 511 78.2 509.7 185 515.7 168.9 505.3 54.5 510.9 105.4 515 77.8 514.8 164.5 504 164.7 514.2 116.3 506.2 118.5 502.2 53.5 515 74.7 514.8 110.6 520.6 115.6 511 113.7 513.7 79.1 510.3 256.7 515.3 258.1 509 108.7 506.4 49 512 202.3 493.3 126.9 508.5 143.6 511.8 130.2 513.5 49.3 507.8 51.2 519 149.4 506.6 170.3 507.8 108.1 511.9 168.1 511.8 60 508.3 103 527 107 517.1 83.9 503.8 80 512.4 166.1 508.4 90.1 512.4 82.9 517.6 75.6 516.3 112 506.2 251.8 520.8 49.5 510.3 80 509.9 73.4 507.5 118 513.7 275.3 507.9 155.6 511.7 119.5 515.1 108.1 510.7 220.9 518.7 114.4 505.5 77.9 507.9 149.7 512.5 257.2 503.3 168.7 512 176.3 515.2 57.7 509.7 213.4 508.9 85.2 519.3 60 509.3 109.1 511.5 70.2 513.2 90.2 512.5 110.9 509.6 72.6 515.7 231.8 510 214.1 512 170.2 507.6 98.3 502.2 182.1 517.9 165.6 517.6 123.8 505.2 186.9 504.2 89.6 517.5 56.4 511.5 110.4 508.5 111.6 516.8 79.4 511.4 125.3 513.9 81.1 511.2 126.4 499.9 89 509 56.1 513.1 71.6 513.9 50.3 511.5 101.5 503.5 112.2 509.9 106.9 511.5 176.3 515.4 59.5 511.2 81.3 511 256.7 493.8 87.9 508.2 79.6 508.9 175.7 522.7 147.4 518.1 118.3 517.6 81.2 506 115.4 516.1 79.9 514.2 252.5 512.9 113.6 515.9 124.9 508.6 165.6 523.7 51.2 508.7 51.5 516.1 112.2 515.9 167.4 504 84.9 511 256.9 514.4 70.7 512 115.9 516.1 86.1 512.5 120.1 516.9 259.6 520.5 117.3 511.3 119.1 503.4 168.3 497.6 88.3 507.6 144.3 533.3 137.5 514.1 76.8 501.3 230.5 494 111.7 512.3 256.8 517.7 70.4 511 84 511 89 511.8 86.3 511.4 84.4 521.1 272.3 498.7 76.3 511.5 113.8 522.2 106.3 507.4 164.2 513.4 83.5 509.9 108.9 510 110.5 511.8 73 514.5 92 505.9 166 511.6 51.8 509.5" fill="none" marker-start="url(#rc)" marker-mid="url(#rc)" marker-end="url(#rc)"/><path d="M103.8 509.8L83.4 512.3 71.9 508.5 52.9 508.3 103.6 506 112.6 518.8 84.2 519.2 215.9 480.4 78.8 502.6 74.3 518.4 107.5 515.7 61.4 509.3 105.3 511.9 80.4 513.4 143.7 522.7 58 506.2 80.3 510.5 251.5 512.8 274.9 513.1 252.8 502.9 58.7 501 166.8 507.7 167.9 517.9 113.3 509.8 69.9 504.7 254 516.3 105.6 511.7 85.2 523.9 253.9 509.8 232.3 508.7 114.4 515 74.8 508.6 79.2 511.3 101.7 518" fill="none" marker-start="url(#rt)" marker-mid="url(#rt)" marker-end="url(#rt)"/><path d="M575.8 511.9L453.1 509.6 498.7 515 549.7 511.1 376.1 509.8 381.3 518.4 440.5 501.4 491.4 501.6 532.1 519 457.4 534.7 500 500.4 433.2 508.5 608.5 510 383 502.6 581.8 509.9 579.7 510.4 406.5 515.6 434.1 499.5 412.2 512.4 558.8 525.8 394.8 509.3 408.1 508 449.3 524.8 433.9 507.9 404.2 507.3 440.7 511.5 398.1 507.5 393.2 503.2 578.6 521.8 435.9 501 435.2 511.8 440.2 507.7 492 498.2 499.6 520.4 496.4 510.1 399.8 513.1 388.1 513.5 580.9 531 427.5 508.2 412.3 507.5 583.1 511.3 504.4 509.4 436.5 504.7 440.7 512.7 605.6 505.4 502 516.1 378.6 510.8 446.1 506.6 464.6 510.1 505.5 513.9 417.2 508.8 385.2 510.9 578.9 514.4 501 509.9 459.4 517.7 495.1 518.3 467.9 512.5 417.6 507.9 497.3 518.3 587.5 506.6 499.9 513 440.4 512.3 401.8 535.1 473.1 509.6 435.4 508.5 439.9 484.4 381.1 512.4 415.9 505.7 456.4 514.4 584.4 502.7 503.4 511.4 583.7 505.5 500.5 498.8 499 502.9 397.6 510.2 435.9 513 433.2 522.8 385.8 512.9 407.1 504.9 474.3 481.6 504.8 522.8 432.8 510.2 455.3 520.2 408.2 510.9 540.4 507.9 475.7 518.8 441.9 509.5 581.4 511.7 399 511.8 583.4 509.5 414.2 510 436 511.3 501.1 514.9 545.2 504.3 379.2 510.9 440.1 509.1 582.8 505 406.8 518.7 414.7 502.5 583.1 488.8 386.2 504.7 490 503.7 404.2 520.1 582.1 515 503.3 511.8 471.3 511 577.5 513.7 454.6 507.7 545.2 529.2 504.6 501.3 442 513.8 445 500.5 388.9 507.4 486.4 520 401.3 509.8 407.5 508.6 407.8 518.5 537 510.5 605.9 509.1 403.9 508.3 445.5 501.1 405.5 513.5 462.6 533.3 387.8 511.3 436 520.4 438.8 505.5 415 510.5 378.1 510.4 397.8 513.5 435.3 514.9 407.8 512.3 435.1 516.3 418.3 513.9 493 521.8 396 514.2 495.4 509.5 440.7 510.7 389.1 511.6 437.9 506.3 491.3 512.7 407.4 517.6 601.6 508.4 404.9 507.7 494.4 510 583.4 515.3 405.6 513.1 436.5 511.5 406.5 509.3 415.4 511 425.2 505.7 433.5 507.3 500.1 534.5 458.3 505.3 498.6 496.5 432.9 516.5 599.3 510.9 577.4 504 442.9 511.6 386.7 509.7 433.6 508.7 604.2 510.9 384.8 512.4 605.1 522 458.1 507.1 376.2 508.4 496.2 523.2 403.3 495.2 446 503.3 436 511.9 440.9 502.6 417.3 518.6 603.4 507.7 603.5 508.5 403.9 514.9 434.1 518.2 470.5 517.4" fill="none" marker-start="url(#rc)" marker-mid="url(#rc)" marker-end="url(#rc)"/><path d="M407 519.3L384.3 514.6 603.8 516.4 408.3 508.5 388.4 516 580.6 516.1 435.8 502.4 582.7 516 503.5 518 381.8 512.9 437.8 512 519.5 506.4 441.7 510 390.4 505 438.3 510.4 435.4 511.8 423.7 509.7 565.2 517.9 608 518.4 476 501.9 604.5 509.9 435.1 530.6 434.4 503.8" fill="none" marker-start="url(#rt)" marker-mid="url(#rt)" marker-end="url(#rt)"/><path d="M399.2 512L492.1 498.9 587 505.3 452.4 502.5 502.6 529.6 400.5 513.4 582.3 508.8 565.2 515.3 434.7 504 376.1 511 436.7 518.1 386.5 515 600 506 437.9 515.5 495 506.8 543.9 509.4 402.5 516.9 549.7 504.7 434 503.9 500.5 513.3 437.6 504.8 607 513.2 604.6 536.8 420.2 506.2 539.8 484.4 461.6 549 436 514.7 437.5 502.4 583.4 512.1 448.6 505.3 408.9 511.7 522.9 515.4 493.9 494.2 435.5 505.6 500.5 518.7 440.9 505 581 514 407.7 515.4 428.7 508.3 412.3 516.5 523.7 506.9 387.1 513 404.3 512.4 384.3 508.9 603.6 509.2 447.1 507.6 382.9 506.2 380.3 510.6 438.5 517.3 422 515.4 461.1 529.3 471 505.3 581.6 530.7 416.1 512.4 442.1 500.1 576 506.4 581 512.5 439.4 521.3 458.9 503.3 453 505.9 414.3 517.7 439.5 511.7 382 497.8 435.9 507.8 410 509.8 604.7 513.1 380.4 507.4 406.1 526.5 585.4 509.9 403.2 522 456.5 510 574.5 507.7 406.4 509.3 433.1 524.5 401.3 512.7 479.5 512.6 410 521.4 473.6 521.9 381.6 500.5 495.9 519.2 431.2 509.8 443.9 508.2 454.3 510.8 602.4 524.6 384.8 504.9 568.8 513.9 581.6 509.6 502.7 524.1 415.1 506.3 436.7 509.2 433.8 507.4 482.8 500.9 445.5 511.9 433.4 519.4 474.2 530.5 494.9 517.5 400.5 510.9 408.6 522.3 585.3 513.9 603.4 509.5 583.6 491.1 558.2 517.8 565.2 492 412.5 493.6 501.5 533.5 501.2 503 434.4 530.2 401.1 515 389.1 516.7 441.2 502.9 557.5 505.6 441 520.4 606 509.1 403.1 515 453.5 510.3 407.4 512 385.8 508.9 391 517.2 400.9 510 402.8 514.1 377.7 512.6 474.3 516.6 602.7 511.2 438.7 516.6 494.5 511.1 444 515.1 445.2 515.9 403.2 513.1 445.8 525.6 388.6 508.7 401.4 511 406.6 518.7 400.7 514 495.4 513.2 401.1 506.8 409 517.1 440.1 513.9 463.4 521.5 403.1 509.8 446.1 513.3 500.9 517.9 500.5 496.1 404.9 512.2 387.6 511.1 400.1 507 401 510.5 387.7 508.6 424.6 492.1 475.6 524.4 513.6 503.9 403.4 511.8 398.5 516.7 538.4 499.6 582.8 511.8 436.4 520.8 406.5 509.4 436.2 505.4 425.5 520.4 435.6 514 584.5 521.2 413.4 515.4 557.5 507.3 498.7 507.9 433.7 506.3 447.9 517.6 558.8 505.3 514.4 498.7 389.6 508 385.1 510.1 400.5 507.7 506.3 504.7 413.9 508.6 376.1 516 438.8 511 489.9 497.2 436.5 499.2 528.9 505.5" fill="none" marker-start="url(#rc)" marker-mid="url(#rc)" marker-end="url(#rc)"/><path d="M399.1 519L388.1 502.8 378.9 509.6 575.2 513.2 584.6 515.5 602.9 501.7 580 517.5 465.4 506.9 452.3 523 488 508.6 410.6 513.8 456.5 489.1 435.3 508.5 512.6 504.5 533.3 522.4 446.4 505.6 441.4 526.4 539.1 504.7 385.2 510.3 496.2 510.5 412.1 514.5 581.8 518.8 386.1 511.7 435.2 517.8 397.4 510.9 397.2 512.8 437.2 507.2 468 503.9 446.5 511.6 501 500.1 558.4 509.5 379.3 509.5" fill="none" marker-start="url(#rt)" marker-mid="url(#rt)" marker-end="url(#rt)"/><path d="M475.4 515.7L481.6 529 436 513.2 438.1 527.4 430.2 508 398 510.6 577.2 516.7 406.2 516.9 399.5 513.9 413.9 516.4 483.7 500.4 473 512.3 403.3 505.5 559.3 514.5 446.3 498.1 469.3 511.8 512.8 510.4 558.4 506.9 408.7 511.4 585 507.6 434.6 519.7 439.3 514.9 389.5 512.9 386.5 511.9 444 519.1 417.6 516.7 439.5 509.9 436.8 513.6 377 507.8 492.8 498.2 403.1 509.9 414.1 508 376.3 509.6 537.4 508.8 410.7 513.4 514.1 486.2 468.2 494.3 439.1 524.3 416.5 521.6 429.4 510.7 549.3 532.8 579.2 509.8 402.8 509 491.2 521.7 471.3 486.7 434.9 517.1 439.8 509.4 507.8 519.2 381.7 509.7 544.5 516.4 435.9 511.3 406.1 511.3 406.1 510 462.7 517.8 381.5 514 534.1 503.3 468.8 513.7 431.2 519.7 401.7 514.7 435.9 502.1 503 483.1 433.3 512 605.6 502.8 403.3 509.9 427.3 501.9 383.8 506.8 402 512.8 401.8 514.3 416.3 509.9 402 513 400.1 507.5 491.7 501.5 416.3 514.2 422.1 514.9 437.3 523.4 439.9 516.9 398.3 523.7 407.5 513.8 605.2 511.8 397 512.8 486.7 525.8 439.7 502.6 437.7 515 412 518.7 436.3 509.3 535.4 514.2 498.2 513.7 426.4 502.2 410.7 508.2 465 519.3 402 511.7 577.5 513.4 434.9 516.1 584.9 513.9 603.7 511.2 478.7 516.6 558.8 505.7 381.4 515.9 605.4 524.4 433.6 516.6 381.7 510 499.9 497.4 493.5 497.5 481.6 501.6 430.3 504.5 438.3 514.9 435 502 439.7 518.7 437.6 513 403.5 503.4 432.2 522 603.3 513.9 426.6 506.1 487.4 526.7 583.2 519.6 438.8 516.3 406.1 504.8 403.7 506.7 436.4 510.7 438.8 496 410.9 516.1 579 518.7 420.1 515.2 556.8 504.2 416.5 510.4 400.4 507.7 458.6 510 488.2 521 383.4 513.8 434.7 494.8 584.6 500.6 435.1 508.9 407.3 517.4 586.4 504.3 435.2 510.5 437.8 496.9 424.5 520.1 388.2 516.7 581.8 510 547.9 501.8 537.8 513.7 406.5 505.9 400.8 513.8 497.7 504.6 401 504.2 463.8 500.2 415.8 509.6 602.6 512.9 443.3 513 442 512.3 423.9 508.2 432.6 523.5 462.9 509.3 427.5 511.6 417.6 517.9 490.2 520.3 376.1 511 403 515.3 396.7 508.3 397.4 511.1 474.9 502.5 397.6 515.7 579.9 516.4 432.2 508.5 498.4 521.3 501.6 498.6 377.8 509.3 495.3 513.6 422.2 506 431.8 505 385.7 514.7 405.4 475.7 434.2 505.3 433.8 507.4 488.9 499.7 402.6 504.2 427.5 522.5 398.2 514.1" fill="none" marker-start="url(#rc)" marker-mid="url(#rc)" marker-end="url(#rc)"/><path d="M458.9 513L387 505.3 606.5 513.2 460.4 513.8 432.3 518.7 459.5 515.1 378.9 515 452.5 495.5 492.6 507.5 606.1 516.4 438.2 510.1 491.4 490.4 481.8 506.2 539.8 519.1 559.3 486.3 496.5 512.5 559.3 515.7 417.6 511 437 514.1 558.8 511.9 411 518 438 506.1 477.9 521.2 387.3 515 491.4 505.9 400.9 518 583.4 507.4 603.8 514.7 384.5 511.8 587 510.5 445.9 506.9" fill="none" marker-start="url(#rt)" marker-mid="url(#rt)" marker-end="url(#rt)"/><path d="M584.8 520.2L406.6 506.3 516 501.1 496.8 505.1 386.7 512.1 403.4 511.1 436.5 517.6 499.9 513.8 438.4 511.7 457.4 507.5 400.8 504.6 439 508.7 423.4 507.4 386.4 509 444.5 524.3 577.2 517.8 438.7 514.8 406.1 514.5 445.9 530.8 380 516.8 424.1 515.8 418.7 507.6 600.6 508.1 584.8 522.5 387.3 508.7 409.9 508.1 384.3 508.9 435.4 505.6 394.6 510.5 433.9 513.4 386.9 506.4 381.9 512 435.7 501.5 604.3 529.7 503.1 504.9 464.6 519 407.1 511.7 382.1 511.8 433.4 498.5 604.6 514.4 430.7 508.8 491.7 516.8 437.3 525 397.3 508.3 380.3 511.6 402.5 510.3 434.8 518.6 386.3 508.9 376.1 509.9 438.3 516.3 417.5 506.2 407.7 516.9 404.5 512.7 461 507.1 501 485.3 590.7 502.6 578.7 516.5 426.2 507.4 437.7 506.2 440.9 502.1 411.9 503.1 379.8 514.4 587.1 510.3 490.7 498.6 412.9 513.6 487.9 503.4 500.9 508.6 379.1 511.4 470.6 526.7 488 514.6 422 513.6 415.2 509.5 400.6 511.9 402.9 499.1 492.6 526.9 404.6 507.2 465.7 508.2 402.7 515.1 414.7 520.8 491.4 520.5 496.8 508.3 405.7 513.9 381.9 512.3 404.3 513.7 410.7 511.9 497 502.1 388.4 512.7 498.8 519.1 458.7 511.8 487.1 511 439.8 510.4 410.3 515.3 425.1 503.7 388.3 514.3 605.6 503.9 412.1 511.2 380.3 515.9 492.5 508.7 441.9 496.9 442.5 509.8 433.2 508.5 408.2 514.3 604.2 514 579.6 498.1 427.9 511.4 416.2 508.5 415.1 511.9 538.8 519.1 434.3 516.2 462 514.4 435.4 495.3 435.4 513.8 437.9 514.4 541.1 523.8 446.1 500.2 493 492 441.8 509.2 436.8 519.7 443.7 525 475.8 527.1 437.2 511.1 603.3 508 583.9 514.5 411.8 515.3 600.5 515.5 425.1 512.7 502.5 512.3 437.3 518.1 580.3 507.6 435.6 504.4 432.8 511.6 441.4 505.5 402 511.4 406.6 513.2 495.2 504.8 436.9 519.1 495.7 505.2 400.6 506.1 435.6 513.8 412.1 508.2 399.2 508.5 377.8 518.1 512.1 509.9 502.6 522.1 432.2 516.4 459.6 508 580.7 495.3 438.8 506.4 439 507.4 500.8 499.7 446.9 499.4 442.1 513.8 453.6 524.4 483.9 523.2 480.4 513.8 504.2 522.5 411.1 511.3 467.2 515.1 494.4 508.3 403.6 517.6 439.6 497.2 429.7 515 437.4 506.8 416.9 508.7 383 513.9 487.1 523.3 411.7 503.4" fill="none" marker-start="url(#rc)" marker-mid="url(#rc)" marker-end="url(#rc)"/><path d="M584.9 506.8L378.2 513.4 542.5 506.1 439.6 494.5 575.2 507.8 466.1 502.7 403.5 509 450.2 501.2 413.1 512.4 606.4 515.6 501 516.1 487.3 525 502.5 509.8 485.3 516.5 396.9 513.4 411.5 518.3 436.6 525.4 439.1 509.3 609.5 517.3 430.1 506 383.9 511.4 493.5 522.1 397.9 504.6 578 514.1 412.7 520.2 457.3 484.6 408.9 505.6 436.6 509.5 437.1 512.4 602.6 509.3 492.8 499.5 380 515.8 385.2 508 438.3 512.9" fill="none" marker-start="url(#rt)" marker-mid="url(#rt)" marker-end="url(#rt)"/><path d="M113 702.7L163.7 691.1 84 698.2 128.2 663.7 252.5 670.8 129 670.4 93.6 694.4 109.1 655.5 166.1 711.9 109.2 654.8 70.4 655.3 77.8 708.8 171 634.8 79.1 683.4 90.2 708.6 174.9 638.9 76.2 649.7 119.4 704.5 109 712.1 112.1 719.6 173 704.3 173.9 653 49.3 710.6 258.2 632.7 102.9 646.1 259.6 701.7 79.6 717.9 254.5 652.4 109.6 699.9 70.7 695.6 88 649.9 255.9 677.8 83.5 711.9 54 694.4 119.5 693.9 53.1 648.5 111.7 716.8 115.9 677.6 62 646.1 79.4 684.8 168.7 682.9 53.7 702.5 50.9 670.8 123.8 660.7 255.9 637.8 220.9 686.3 61.2 716 76 716.4 274.4 690.4 213.4 657.3 108.6 691.1 83 653.5 256.7 656.5 118.4 714.8 123.8 699.9 111 708.7 58.1 719.4 146.6 702.2 176 690.7 251 641 76.9 706.1 280.3 676.4 101.8 663.9 169.6 638.5 171.2 638.7 143.4 722.1 168.6 627.9 259.1 706 255.2 706.9 107 653.5 99.5 628.5 76.9 718.9 90 648.8 118 708 57.8 703.8 191.3 642.6 279.7 707 75.1 704.9 85.2 649.3 108 718.7 89 721.3 82.1 693.1 179.1 669.5 57.4 659.2 53.4 677.8 218.2 688 93.3 683.9 258.1 685.1 176.6 698.3 118.3 640.2 107.1 630 166.9 689.7 73.1 648.4 141.9 712.8 279.6 636.5 87 695.3 110.3 718 71.3 716.2 117.5 691.1 91.8 703.7 52.4 677.7 79.1 662.6 72.5 675.8 103.2 720.1 49 671.7 56.4 652.1 79.6 697 249.7 705.4 271.6 705.2 111.7 702.1 86.1 626.8 95.2 684.3 77.9 660.5 136 628.6 108.1 686.5 253.7 678.3 49.8 667.1 172.4 642.6 254.2 637.4 80 684.8 170 651.6 167.3 655.6 108.5 697.1 66 694.9 118.2 708.4 106.5 704.8 168.3 698.4 169.2 660.3 72.1 712.7 124 684.4 108.3 715.3 55.7 714.9 125.3 659 70.4 711.5 192.1 684.8 176.7 693.4 159.4 697.7 100.9 700.8 75.7 634.2 74.3 709.7 112.5 701.1 120.1 694.9 108.1 695.9 256.7 679.2 114 680.2 279.4 646.3 109.6 683.7 257.7 660.6 103.3 650.6 79.8 699.6 74.1 701.7 130.2 681.8 152.2 671.6 176 651.8 172.4 661.4 257 658.7 202.3 686.9 69.6 636.8 80.3 698.6 112.2 720.1 53.7 642.8 197.2 638 60 704.3 110.8 638.2 253.5 664.3 71 699.4 59.5 673.8 59 713.6 56.2 720.2 82.2 656.5 70.6 704.1 72.3 664.4 49.8 709.4 114.5 714.3 63 707.3 88.6 674.2 103 694.8 57.7 651.1 132.5 635.8 91.7 654.7 106.6 692.5 166.9 627.3 250.2 667.5 81.3 714.2 110 669.1 108.9 627.7 71.4 697.1 57.7 709.2 158.6 695.1 99.6 687.3 175 711.8 75.6 706.2 130.5 643.5 113.6 686.4 81.4 645.2 119.4 700.9 168.2 683.7 142.6 710 57.3 659.8 155.2 630.2 149.4 696.9 49.1 701.9 157.6 678 76.3 712 109.1 693 146.9 664.7 254.6 661.6 59.5 647.1 114 637.3 87.1 693.7 250.7 706.3 85.2 711.2 56.7 684.1 113.8 650 116 688.7 109.7 681.6" fill="none" marker-start="url(#rc)" marker-mid="url(#rc)" marker-end="url(#rc)"/><path d="M80.9 706.7L57.8 694.5 257.7 662.7 273 661.9 85.2 656.8 80.4 689.4 254 667.4 167.9 704.8 105.6 708.8 186.2 626.8 116.1 721.2 121.4 636 80.1 650.2 58.7 659.8 251.4 661.2 158.6 715.3 143.7 629.3 88.8 712.1 59.7 673.9 103.8 720.3 89.6 630.8 57.7 674.7 255.5 647.1 74.3 688.2 126 718.6 61.8 701 169.5 674.4 101.4 638 105.3 708.4 192.7 675.4 73.3 639.9 106.1 715.8 231.4 660.7 79.2 647.8 56.8 673.2 160.1 682.4 133.8 702.5 202.6 641.9 58 664.1 78.8 667.2" fill="none" marker-start="url(#rt)" marker-mid="url(#rt)" marker-end="url(#rt)"/><path d="M87.5 643.7L71.6 634.8 173.4 667 165 714.7 137.5 690.7 49 715.3 108.5 667.9 113.2 654.2 51.1 717.2 116.4 638.9 152.4 685.5 69.3 669.2 117.2 706.6 93.6 714.3 111.6 712.3 276.3 654.5 203.2 700.4 164.2 716.9 88.9 654.5 79.2 652.3 175.2 626.8 61.9 707.1 84.9 663 70.7 665.9 72.2 695.1 272.3 656.7 79.1 663.9 280.2 699.7 49 705.2 70.6 659.2 72.5 702.1 109.9 716 145.3 714.5 73.1 660.6 110.3 636.7 56.1 699 60.2 642.8 81.5 656.8 82.2 688.6 109.3 676.4 214.1 664.9 169.8 697.1 101.5 641.8 86.9 650.5 111.9 643.4 87.1 650.7 111 652.6 108 710.9 111.7 671.8 74.2 684.5 112.2 685.1 167.9 667 109.8 690 71.9 705.4 238.2 699.7 73.9 638.8 81.4 710.6 154.9 638.1 256.1 687 115 719.3 249.8 649.5 173.5 682.8 147.2 687.9 110.1 708.8 176.2 717.4 87.9 633.8 150.8 705.9 54.3 681.7 108.6 638.3 118.3 670.1 112.2 692.5 122.5 683.2 107.4 633 91.3 713.3 115.4 626.8 251.8 629.7 103.2 691.7 257.8 704.7 88.3 699.7 70.2 695.2 110.9 654.4 185 713.8 113.7 665.5 56.5 627.2 238.2 689.7 90.1 636.5 108.8 662.3 75.8 699.9 212.8 699.7 156.8 679 257.9 636.8 218.6 650.2 56 653.9 116.3 701.9 112.2 695.8 71.5 721 58.7 710.6 176.3 705.2 77.5 700.7 56.2 655.6 107.7 692.6 88.1 657.6 273.8 632.9 79.2 666.8 230.5 687 81.1 719.4 124.2 709.9 168.9 666.9 203 640 56.4 643.4 57.5 708.9 169.2 713.8 51.5 673.7 70 701.2 109.2 682.7 142.5 715.3 80.7 690.1 102.1 710 79.8 713.7 86.1 716.6 91.1 647.5 115.7 703.6 58.2 673.7 272.8 719.9 119.8 657.1 116.2 665.1 77.4 674.5 75.4 706.7 127.2 644.7 131 684.6 118 677.5 107.1 703.8 106.3 670.9 83.3 688.4 119.1 676.4 85.7 698.4 274 652.9 182.1 705.7 111.6 715.6 173.1 705.4 58.1 714.1 229.8 656.3 248.2 647.4 251 648.1 275.6 635.7 163 668.7 112.8 672.5 111.5 658.7 106.9 636.1 174.9 719.2 112 702 126.4 695.3 165.6 659.8 77.1 670.2 108.3 653 142.4 683.1 102.2 708.6 109.1 714.4 169.9 667.2 80.4 645.7 277.1 714.5 168.5 635.5 170.6 705.6 95.7 712.7 83.2 687.1 82.2 716.2 113.6 693.8 261.5 703.5 231.4 630.4 169.8 635.5 84.4 696.2 87.7 682.5 98.3 643.1 249 655.2 50.3 658.1 275.3 651.1 51 681.1 164.1 703.2 279.9 636.5 274.7 631.7 105.2 702.1 117.2 672.7 108.5 656 168.7 666.2 104.6 662 80.1 703.5 108.4 632.8 178.2 680.3 173.7 687.6 70.2 686.6 77.9 712.6 275.7 685.5 120.9 686.6 108.7 674 99.9 653.6 131.8 696 51.4 682.9 51.2 659.4 87.4 712.2 156.2 664.1 123.9 648.2 59.1 713.3 211.8 698.6 89 712.6 140.4 720.5 71.4 679.7 177.8 720.5 137.8 717 74 683.2 171.3 700.8 109.2 715.2 186.9 658.1 82.9 665.2 256.3 695.1 51.8 672.1 274.3 636.6 61.2 669.1 80.7 640.4 252.7 700.4 76.5 714 257.2 658.8 111 709.8" fill="none" marker-start="url(#rc)" marker-mid="url(#rc)" marker-end="url(#rc)"/><path d="M255.5 708.9L137.8 703.7 78.8 679.9 49 646.9 80.3 667.5 112.6 685.3 101.7 672.2 128.5 642 52.9 719.7 247.8 709.5 277.7 702.7 256.8 663.2 164.9 667.7 85.7 704.9 55.9 698.6 260.9 642.4 57.7 702 79.4 634.9 151.7 719.9 111.2 679.3 178.2 667 58 653.4 83.4 669.9 79.3 630.6 215.9 674 60.4 709 74.7 711.6 71.9 648.5 60 667.8 117.1 705.5 99.8 711.3 89.7 698.9 61.4 718.5 106.4 712.5 109.5 649.1 165.6 662.1 167.6 697.3" fill="none" marker-start="url(#rt)" marker-mid="url(#rt)" marker-end="url(#rt)"/><path d="M170.9 669.4L105.4 634.6 82.5 711.4 176.6 684 158.3 671.9 111 658.9 222.7 695.2 144 703.3 162 716.9 87.4 703 107.5 635.5 81.6 695.9 77.6 713.8 85.8 718.6 81.2 719.7 277.2 629.2 52.5 656.6 107.5 708.9 50.3 669.6 83.4 675.4 60 630.3 86.6 720.1 124.9 713.7 132.1 695.4 232.3 644.1 106.3 646 197.1 658.9 84.3 636 114.8 652.9 77.2 649.6 166 655 173 664.8 160.1 653.6 78.5 681.8 77.9 715 78.2 632.5 110.5 644.5 55.3 707.1 167.4 655.5 231.2 629.1 79.9 679.8 142.7 641.9 63.1 641.1 85.9 638.6 256.8 671 170.3 717.3 60.7 654.7 140.7 646.5 79.4 702.2 254.2 652 59.1 707 92 633.2 90 717.3 68.3 714 273.1 631.2 109.1 697.2 74.7 653.7 204.8 626.8 110.4 665.9 89.3 717.6 128.9 708.1 69.2 713.2 102.5 705.6 127.3 630.5 74.8 695.8 271.4 666.1 49 671.8 74 634.9 80.9 697.4 198.4 639.6 80.3 631.3 76 657.4 165.7 705.5 109.9 672 52.2 665.9 147.4 692.9 143.3 710.7 109.6 653.6 83.6 708.1 82.2 665.3 83.7 698.1 255.4 664.4 173.1 660.3 174.5 687.3 101.4 701.5 73.9 675.8 109.5 718.4 49 683.2 190.5 636.3 89 715.1 76.9 672 90.7 684.8 69.9 665.2 107.5 721 241.8 672.4 168 662.3 81.3 708.1 87 699.9 74.6 659.3 65.8 678.8 106.4 637.7 146.3 712.1 164.1 695.5 124.9 656.4 95 653.4 82 664.4 71.3 643.1 49.4 713.1 83.9 642.6 118.2 662.1 164.5 705.8 111.7 707.1 76.4 715.9 49.5 686.3 75.5 718 106.3 633.6 115.6 630.4 84.5 715.8 108.8 656.5 58.1 710.1 84.5 669.9 51.8 710.1 168.7 695.9 216.9 645.2 78.7 708.5 261.1 638.6 276.5 704.5 73.4 719.3 177.3 668.6 71.3 674.4 109.2 709.2 108.6 654.8 277.7 663.8 157 683 137.6 719.9 53.2 707.6 109.4 690.5 164.7 716.1 56.8 699.9 179.3 697.2 169.3 715.7 111.1 720.8 57.7 719.7 155.6 637.3 76.8 710.3 52 713.1 257 651.9 74.8 702.1 85.5 655.8 79.1 702 273.6 644.4 174 684.5 51.2 713.2 74.7 695.8 105.2 670.9 107.7 679.9 110.9 686.3 128.3 632.1 110.9 713.5 221.9 660.1 254.1 631.2 123.2 633.2 260.1 668.6 259.8 664.8 93 671.8 81.6 672.7 279 689.7 113.1 716 277.9 652.1 206.1 674.5 107.9 684.7 77.8 714.7 62.9 678.8 63.8 647.2 164.7 658.3 166.1 689 115.4 676.5 109.5 626.8 232.3 672 275.3 682.9 87.5 655.9 157.7 661.8 75.4 679.3 64.1 707.2 257.7 638 78.6 713.4 82.6 719.7 110.5 628.5 138.3 667.8 127 644.2 77 698.2 74.6 719.4 69.8 689.4 111.6 668.5 99.4 715.8 106.6 663 253.5 680.9 51.2 716.5 146.3 709.4 189.8 662.5 167.5 706 111.6 669.8 82 633.5 52 684.2 249.1 687 116.3 709.6 83.3 657.7 54.5 712.4 73.9 714.6" fill="none" marker-start="url(#rc)" marker-mid="url(#rc)" marker-end="url(#rc)"/><path d="M144.7 653.3L200.9 643.7 100.2 649.1 59.5 696.7 91.1 637.2 123 696.5 254 632.2 107.5 708.3 56.3 710 76.7 704.6 79.1 720.7 74.8 663.2 155.2 692.9 83.4 678.9 231.2 656 177.5 648.2 113.3 714.9 99.2 695.6 260.8 673.8 76.2 644.6 254 666.1 120.6 710.1 256.1 655.1 76.5 704.1 212.4 691 238 632.1 111 635 232.3 689.7 53.8 652.4 177.7 690.3 82.3 684 107 719.3 141.3 675.8 78.6 672.2 87.9 698.9 90.2 711.7 274.9 641.5 281.5 706.5 57.8 669 73.7 716.9 118 677.7 253.9 643.5 49.1 658.8" fill="none" marker-start="url(#rt)" marker-mid="url(#rt)" marker-end="url(#rt)"/><path d="M58.1 660.6L89.9 709.4 260.5 708.2 112.7 698.1 53.9 627.7 79 701.5 93.1 684.1 99.1 657.8 173.7 684.6 130.5 705 105.8 704.3 277.4 656.5 231.8 702.9 259.9 684 61 703.8 111.1 711.1 256.7 689.9 109.1 719.2 84.1 715.8 257.6 633.5 172.2 632.9 79.8 636.8 122.7 685.4 110.8 667 52.3 644.4 110.6 709.6 75.2 643.7 87.3 713.3 277.8 635.6 75 712.3 57.2 685 101.2 718 161.5 639.8 256.9 629.4 112.4 684.2 142.6 720 173.1 673.3 110.5 688 54.8 715 138.7 674.7 255.8 641.7 90.1 678 110.4 636.5 211.4 678.8 72.4 638.6 68.4 717.6 72.6 652.1 137.2 695.3 87.8 626.8 253.6 687.2 105.4 666.4 53.5 678.8 107.9 657.2 133.2 700.8 175.7 704.7 108.4 674.6 78.2 701.3 189.1 670.3 82.6 672.7 92.9 643.4 144.3 694.1 230.5 648.2 112.8 702.3 49.2 714.8 77.3 630.7 261.1 676.5 217.3 638.2 164.4 669.4 80 687.9 71 702.9 61.8 646.2 125.3 628.8 194.5 635.6 51.4 663.2 173 718 50.8 701.8 257.2 674.2 83.1 626.8 69.4 720.8 101.8 647.8 167.7 678.6 252.6 642.9 115.9 669.7 69.8 641.2 168.1 709.3 116.6 709.2 73.1 707.5 57.3 706.3 60.4 713.4 97.9 721.9 91.8 666.8 57.1 678.2 58.1 712.4 278.1 670.4 149.7 707.5 73.6 649.9 56.4 715.8 177.8 669 167.5 717.6 91.5 702 86.3 670.5 71.2 713.6 146 718.6 109.3 653.4 145.7 665.1 109.9 713.9 118.5 694.8 275.8 646.2 104.3 689.3 141.5 665.8 107.1 668.6 109.1 661.2 50.3 691.8 80.4 708.7 71.5 707.3 277.7 675 169.3 715.7 255.3 640.3 111.4 644.7 165.6 661.7 80.9 666.8 171.8 706.5 53.2 719.8 113.5 652.2 117.6 707.9 182.4 660.2 79.4 646.5 84.2 709.2 114.4 711 85.9 696.9 176.9 658.2 81.8 698.1 87.5 721.4 275.3 629.4 106.1 638.2 252.6 661.3 103.9 630.5 78.5 715.4 253 675.8 111.7 673.8 128.4 713.8 176.3 706.1 70.4 657.6 54.2 710.7 164.7 685.2 88 661.2 256.2 681.2 76.4 714.9 110.7 693.7 123.3 665.3 231.8 695.6 89.2 635.1 171.5 665.2 132.5 708.1 70.2 718.1 78.7 713.6 50.2 682.1 170.2 691.5 76.2 718.1 112.8 687.5 76.8 654 88.3 689.5 79.6 721.4 73.2 690.9 89.6 668.3 89 699.7 106.6 646.8 106.4 713.7 114.8 662.4 57.7 701.3 86 706.2 132.4 717.9 126.9 697.9 61.8 715.5 89.5 641.6 256.6 653.3 253.2 676.2 178.4 716 84.2 711.6 116.7 656.9 126.4 647.6 72.4 635 62.2 668.1 258.7 649.2 119.5 650.2 76 695.1 111.2 712.2 110.5 643 87.9 687.9 143.6 710.9 117.3 697.4 176.1 719.5 80.1 712.6 280.3 627 73 683.3 49.3 694.1 62.8 715.5 98.2 632.4 137.7 706.1 75.6 671.1 107.5 719.2 73.9 645.7 84.9 663.3 139.8 637.5 61 687.9 84.5 676.5 167.8 704.1 62.4 674.9 184.1 695.9 54.2 706 50.5 686.8 108.1 686" fill="none" marker-start="url(#rc)" marker-mid="url(#rc)" marker-end="url(#rc)"/><path d="M103.6 712.9L170.6 654 115.9 711.4 58 679.7 50.3 691.1 172.8 634.6 172.3 678.4 106.6 696.1 79.3 704.1 86.8 692.1 84.2 693.4 76.7 626.8 118.9 686.7 181.1 656.4 51.2 647.1 73.4 707.9 211.8 672.4 61.4 713.6 73.9 628.9 103.8 715.7 166.8 699.6 128.6 719.7 251.5 717.2 102.4 687.6 58.6 674 112.5 718.6 170.5 628.3 252.8 631.4 50.3 672.4 111.1 709.4 71 700.2 54.7 713 50.4 693.3 105.8 704.6 114.4 653.1 85.3 686.4 100.1 669.6 130.7 667.9 103.6 703.9 69.9 671.9 71.8 684.7 57.2 664.9" fill="none" marker-start="url(#rt)" marker-mid="url(#rt)" marker-end="url(#rt)"/><path d="M585 647.2L503.3 670.4 457.4 715.1 487.9 661 514.1 658 442 673.3 410.9 679 497.7 695.5 430.3 634.6 587.1 661.8 401.4 712.6 577.2 649.8 464.6 665 406.5 663.2 427.5 684 583.4 712.9 453 684.6 444 714.7 439.8 707.4 381.9 690.4 603.7 645.6 376.2 665.9 409 713.1 416.5 714.2 437.9 687.2 386.3 681.2 415 647.7 440.7 690.9 495 687.4 431.8 664.9 427.5 706.7 411.7 703.3 376.1 683.4 407.5 714.9 406.5 718.1 399.5 646.8 377.8 703.2 399.8 660.8 435.4 644.6 404.2 699.5 452.4 655.6 568.8 648.4 382.9 650.4 402.9 697.3 435.9 670.1 457.4 636.9 406.1 691.9 580.3 668.5 501 699.5 501.2 630.5 437.2 719.1 458.6 692.4 440.7 672.5 400.8 718.6 439.4 714.3 436.5 703.2 584.8 643.9 507.8 663.1 389.6 677.7 388.1 703.5 514.4 706.7 396 707 420.2 661.1 400.9 648.1 403 706.4 441.4 711.4 443.7 696.6 433.9 687.9 376.1 717.4 417.6 668.5 402.5 656.2 406.1 664 403.3 712.8 603.3 683.9 433.5 718.3 461.1 684.8 486.4 652.6 585.4 663.5 440.4 648 406.1 689.8 434.9 660 497.3 633.7 401 649.1 605.6 627.9 502.6 684.4 422 686.5 412 683.9 388.9 662.5 581 672.5 401.8 709.1 410.7 707.7 422.1 715.8 398.5 706 432.2 702.2 379.1 696.8 500.8 695.3 387.8 711.1 380.3 697.8 381.3 712.2 404.9 642 578.6 667.5 413.4 696.1 583.9 650.6 465.7 654.3 446.9 714.9 420.1 642.9 439.5 664.6 436.5 699.2 388.2 693.6 471 690.7 439.9 711.8 416.3 631.8 404.5 715.5 382 670.3 436.4 699.2 440.5 718.3 516 701.3 480.4 706.8 607 635.1 471.3 654.4 398.3 713.2 454.6 665.1 433.6 675.7 402.7 700.3 557.5 662.5 583.1 633.8 385.8 714.8 493 675 433.2 708.9 403.2 692 403.1 713.9 401.1 646.1 437.3 713.9 438.3 637.2 501.6 683.8 434.2 711.9 381.5 685.1 549.7 649.3 495.7 668.2 423.4 671.9 602.4 629.9 417.3 661.1 441 719.8 408.2 676.9 445.8 706.5 565.2 691.5 557.5 665.2 385.1 710.8 403.1 718.4 386.7 684.6 538.8 695.2 436 686.1 428.7 718.7 404.6 673.9 376.3 717 381.6 660.6 408.7 656.2 436 652.2 402 716.9 407.1 707.1 438.8 652.1 456.5 696.7 430.2 715.2 502.5 678.9 523.7 635.7 411.1 646.6 437.5 632.6 499 680.1 384.3 713.3 502.6 656.1 496.8 628.2 471.3 651.3 408.9 660.1 479.5 700.9 498.8 629 386.9 708.9 425.1 714.9 425.2 692.5 491.7 680.2 436.7 713.7 387.6 654 584.9 679.5 467.9 680.9 401.8 713.2" fill="none" marker-start="url(#rc)" marker-mid="url(#rc)" marker-end="url(#rc)"/><path d="M388.4 680.9L411.5 672.7 458.9 648.1 430.1 634.7 608 656.6 606.1 634 488 677.4 558.8 632.5 399.1 720.3 385.2 644 381.8 670.5 559.3 678.4 493.5 686.2 387 642.3 380 665 609.5 644.1 434.4 714.4 410.6 646.8 501 688.3 388.1 684.4 584.9 680.9" fill="none" marker-start="url(#rt)" marker-mid="url(#rt)" marker-end="url(#rt)"/><path d="M376.1 666.3L605.6 670.1 432.6 653 603.4 636.9 558.8 653.9 435.2 648.2 425.5 686.3 435.9 671.9 435.9 628.3 458.7 706.9 584.8 682.9 446.1 718.4 585.3 655 402.6 693.8 414.1 671.1 475.4 671.3 498.4 698.8 435.1 713.5 439.7 681 437.9 660.5 402 681.1 416.5 647.5 387.7 697.1 449.3 700.6 447.9 694.5 403.5 626.8 549.7 668.6 512.1 667.3 442.5 651.6 458.3 694.8 434.1 632.4 481.6 693.6 387.1 690.5 474.2 709.9 422 649.6 474.3 687.4 455.3 683.4 498.7 684.3 503.4 639.4 439 660 435.3 711.9 498.2 707.6 406.5 714.8 494.4 679 384.8 690.9 605.9 641.1 462.6 708.3 437.6 719.8 407.8 700.6 549.3 696.5 386.2 700.6 377.7 681 537 703.8 436.2 661.6 433.8 685.1 504.8 630.7 487.1 694.3 458.9 674 499.9 691 481.6 651.6 441.9 658.9 397.6 716.4 604.6 633.2 490.2 687.7 416.1 674.5 433.7 695.7 493.5 695.5 394.6 637.6 492 693.5 503.1 652.8 383 687.4 461 701.7 437.3 668.9 583.4 702.9 483.7 686.9 404.3 706.1 398.2 673.4 604.2 677.2 487.4 666.9 405.5 697.7 605.1 657.6 467.2 706.7 440.7 705 473.6 706 407.7 691.1 444.5 702.2 492.8 646.9 488.9 715.3 415.1 697.9 431.2 667 599.3 679.2 398.1 718.2 586.4 654.7 605.6 680.4 402.8 626.8 434.6 671.4 407.3 719.7 558.8 690.4 439 673.9 414.2 713.1 495.1 679.9 504.6 648.5 442.1 653.5 437.6 703.5 377.8 660.7 497 641.4 604.2 646 603.4 673.7 500.9 647.7 437.4 684.8 399.2 708.6 386.5 664 436 686.1 410.3 660.7 583.7 678.3 408.6 720.1 388.4 714.3 400.4 672 402 672.3 584.4 654.7 501.1 694.4 463.8 663.2 482.8 687.3 494.4 655.6 473 711.1 439.1 663.6 403.3 667.6 407.7 711.5 383.8 693.6 500.1 700.8 415.8 691.6 408.2 683 391 712 577.5 650.1 403.4 716 433.6 708.1 500.5 666.7 439.6 678.4 603.5 658.6 488.2 716.8 442 705.1 432.2 692.7 379.8 669.6 438.8 692.5 574.5 678.8 581.8 676.2 397.8 679.4 435.5 631.9 439.3 688.3 486.7 704 436.8 714 441.9 664.1 397.3 713.1 494.5 663.4 412.3 695.7 424.1 635.1 385.8 703.3 437.9 672 388.6 719.8 431.2 642.7 580.9 657.6 383 721.8 444 686.7 436.7 702.3 539.8 706.5 582.3 644 544.5 631.1 608.5 699.6 424.6 697.6 412.1 714.9 408.1 715.1 491.2 662.6 417.6 702.4" fill="none" marker-start="url(#rc)" marker-mid="url(#rc)" marker-end="url(#rc)"/><path d="M383.9 653.9L587 675.1 408.9 677.3 606.4 666.4 400.9 692 438.3 648.7 602.6 688.9 408.3 720.6 519.5 634 436.6 682.5 432.3 682.2 452.3 713.3 384.5 679.3 501 679.7 584.6 660.3 441.4 696.2 403.5 715.4 450.2 709.4 496.5 707.1 387.3 674.9 435.1 704.3 477.9 709.7 438 693.7 559.3 657.7 385.2 704.6 397.2 714.8 378.2 700.4 379.3 682.5 446.4 716.8 437.2 712.4 390.4 662.5 437.1 718.7" fill="none" marker-start="url(#rt)" marker-mid="url(#rt)" marker-end="url(#rt)"/><path d="M410 715.7L600.6 676 400.8 648.8 575.8 671.4 475.7 676.7 499.9 677.3 437.7 675.8 545.2 663.1 474.9 709.1 406.2 704.1 576 650.9 407.8 645.5 528.9 629.7 494.9 678.7 463.4 678.2 577.2 695.6 412.2 647.6 500.5 652.2 502.7 706.6 604.3 643.8 446 680.4 410 716.1 578.7 644.2 489.9 700.5 490.7 689.8 416.3 648.8 416.2 673.3 394.8 658.6 440.1 626.8 378.6 658.8 435.6 654.8 491.3 688.2 412.3 651.4 393.2 682.4 600.5 681.9 404.2 645.8 606 652.1 432.9 685.7 400.7 690.3 499.6 660.2 443.9 661.6 534.1 637.8 441.2 714.5 488 628.8 389.5 703.8 438.8 663.1 579.9 675 430.7 672.6 453.5 702.5 503 650.1 577.5 676.9 500.9 687.5 389.1 708.5 379.2 715.5 493.9 652.8 583.6 663.3 435.4 626.8 600 658.5 429.4 705.7 380.4 692.8 436 703.5 407.4 707.1 437.8 671.6 377 689.5 383.4 712.2 407.4 703.7 434.3 649.3 401.3 641.9 443.3 653.4 400.5 715 602.7 688.8 427.9 718.8 410.7 696.2 461.6 688.5 468.2 657.2 401.3 702.4 422.2 629.6 403.9 672.6 532.1 654.3 437.3 709.6 459.4 714.2 492.1 709.1 436 668.1 399.2 698.2 501.5 666.9 582.8 652 558.8 704.7 418.3 691 579.6 652.3 581.4 640.7 426.6 635 432.8 649.6 427.5 631.2 403.1 713.5 399 694.4 400.6 635.9 435.6 716 559.3 692.4 493 666 438.1 704.4 400.6 697.7 445.5 701.4 381.1 676.7 409.9 640.8 462.9 707 433.4 701.5 582.1 675.1 418.7 692.4 446.3 643 417.2 721.1 415.1 700 483.9 682.5 385.2 677.9 433.4 677.7 504.2 654.9 543.9 660.1 385.7 709.6 411.8 696.4 604.6 681.7 437.7 687.1 403.6 713.2 435.1 666.7 581.6 630 434.8 654.2 465 654.2 397 657.6 446.1 704 475.8 679.8 434.7 638.8 580.7 682.2 495.2 690.8 578.9 668.5 537.8 627.3 416.9 696.1 512.8 654 439.5 716.3 410.7 643.5 412.1 716.3 389.1 632.1 403.4 626.8 445 695.4 439.9 667.5 435.4 680.7 439.8 708.2 376.1 654.8 406.5 696.6 406.1 658.4 405.6 696.7 433.1 681.1 425.1 699.1 454.3 709.7 547.9 697.9 436.9 662.7 401 688.7 579.2 670 440.2 708 445.5 629.9 381.7 714.6 440.9 643.1 433.8 640.6 406.6 679 470.6 660.2 382.1 705.3 417.6 686.6 438.8 676.2 433.2 716.9 605.4 627.9" fill="none" marker-start="url(#rc)" marker-mid="url(#rc)" marker-end="url(#rc)"/><path d="M466.1 698.7L386.1 709.6 396.9 695.1 533.3 648.4 435.2 713.1 465.4 673.3 604.5 676.7 439.1 692.2 437 641.5 417.6 715.6 412.1 682.3 492.6 702.1 558.4 630.4 603.8 647 491.4 703.1 503.5 644.9 412.7 655.4 436.6 695.5 575.2 683.6 435.4 711.9 435.8 652.1 435.3 700.2 460.4 700.1 542.5 651.6 397.4 716.3 491.4 626.8 452.5 685.4 456.5 639 492.8 687.7 603.8 663.5 445.9 691.2 512.6 659.1 580 698.6 575.2 697.2 581.8 665.7 539.8 691.5" fill="none" marker-start="url(#rt)" marker-mid="url(#rt)" marker-end="url(#rt)"/><path d="M603.6 667.3L470.5 698.1 558.4 640.3 407.5 694.2 438.7 661.2 386.4 701.5 458.1 703.9 453.1 671.3 579 664.6 435.2 665 439.7 704.1 403.3 686 556.8 651.6 413.9 682.8 495.4 712.7 380 679.8 601.6 668.4 478.7 713.7 414.3 721.9 496.8 713.7 386.5 668.9 487.1 646.3 435.9 707.3 448.6 679.3 435.7 637.6 384.3 653.9 445.9 715.1 495.3 694.9 405.4 716.2 387.3 646.9 381.9 698.2 462 709.2 436.4 680.7 464.6 715.2 434.4 635 432.2 640.9 378.1 717.7 424.5 686.6 577.4 715.6 446.1 710.1 415.9 708.8 406.8 665.4 603.3 674 565.2 697.9 401.1 626.8 384.8 718.3 506.3 703.9 438.5 660.8 436.5 712.6 411.9 647.7 427.3 705.2 380.3 657.5 423.9 714.6 502 679.5 522.9 654.2 404.3 677.8 492.6 705 433.3 697.7 434.1 632.8 587 626.8 459.6 711.5 490 704.1 491.4 664.9 584.5 632.9 402.8 712.5 495.9 683.6 453.6 649.6 535.4 719.7 579.7 662 412.9 662.3 406.1 710.9 462.7 708.7 605.2 626.8 540.4 655.2 581 645.2 406.4 636.7 400.1 716.5 405.7 670.9 402 670.6 415.4 658 438.3 650.5 441.8 687.6 456.4 718.7 440.9 705.1 496.4 693.2 380.3 712 415.2 640.4 498.6 661.5 388.3 705.7 436.5 704.5 406.6 710.8 403.7 679 475.6 689.1 398 698 401.7 682.6 414.7 657 504.4 662.7 583.1 665 604.7 672.7 435.9 716.7 400.5 704.4 435.4 706 406.6 694.8 397.6 714.5 469.3 693.7 407.1 664.9 440.9 698.3 438.8 658.3 545.2 659.1 473.1 646.2 587.5 694.1 426.2 714.4 442.9 642.2 436.8 683.5 381.4 664.6 501 689.8 432.8 708.2 505.5 655.1 429.7 712 396.7 713.4 417.5 710.8 582.8 654 495.4 648.2 403.9 650.6 584.6 652.5 602.6 663.4 581.8 688.5 491.7 683.4 581.6 669.7 468.8 717.7 499.9 720.9 434.9 704.4 500 684.4 426.4 700.8 500.5 638.4 440.1 701.6 491.4 675.5 537.4 653.6 436.3 720.9 438.7 664.6 435 673.5 496.2 703.1 474.3 675.6 412.5 630.4 402.5 668.5 376.1 700.3 413.9 684 397.4 708.8 434.7 637.2 433.9 672.1 445.2 664.8 438.4 686.2 583.2 676.9 583.4 684.5 434 696.2 442.1 696.7 404.9 661.3 590.7 675.9 558.2 652.9 433.2 686.6 538.4 659.7 381.7 646.8 400.5 677.1 513.6 643.9 403.2 697.6 386.7 687.3 447.1 663.3 435.6 651.3 492.5 629.7 500.5 672.6 498.7 639.3 400.1 685.2 414.7 685.8 541.1 650.2" fill="none" marker-start="url(#rc)" marker-mid="url(#rc)" marker-end="url(#rc)"/><path d="M476 672.6L423.7 684.2 407 711 378.9 644.7 485.3 682.9 583.4 699.7 439.6 688.2 457.3 685.1 446.5 670.4 384.3 721.6 413.1 714.2 602.9 696.5 578 640.5 437.8 641.7 582.7 656.8 565.2 633.4 438.2 714.6 441.7 669.5 539.1 702.7 580.6 634.3 481.8 680 397.9 652.6 502.5 712.9 438.3 719.1 459.5 670.8 411 675.9 606.5 666.9 378.9 650.9 468 696.7 487.3 720.6 496.2 647.6" fill="none" marker-start="url(#rt)" marker-mid="url(#rt)" marker-end="url(#rt)"/><path d="M200.3 109L176.9 116.4 184.4 51.7 235.4 28.9 174.2 83.2 172.7 57 191.6 87.1 166.2 107.9 167.5 92.5 191.8 103.5 180.3 91.7 158.4 69.7 157.3 101.1 178.8 112.8 168 54.5 164.6 96.9 174.5 114.6 196.1 59.8 179 95 242.5 79.7 143.1 59.5 163.8 36.9 180 85.9 171 51.4 172.6 110.7 175.7 78.8 131.7 93.6 158.3 40.1 163.5 105.6" fill="none" marker-start="url(#gc)" marker-mid="url(#gc)" marker-end="url(#gc)"/><path d="M171 93.7L168.9 108.2 177.9 122.7" fill="none" marker-start="url(#gt)" marker-mid="url(#gt)" marker-end="url(#gt)"/><path d="M510.7 99.4L530.4 117.7 519.4 114.8 486.1 99.3 495.3 133 508.9 64.5 485.4 90.9 500 88.8 508.4 115.3 493.4 128.3 499.2 93.7 496.8 98.9 497.1 105.6 491.2 87.7 489.2 137.5 454.2 120.8 452.9 110.8 502.1 119.7 504.6 99 503.4 99.3 486.9 102.5 506.5 95.1 488.3 78.2 494.4 118.5 496.4 94.9" fill="none" marker-start="url(#gc)" marker-mid="url(#gc)" marker-end="url(#gc)"/><path d="M549.7 122.8" fill="none" marker-start="url(#gt)" marker-mid="url(#gt)" marker-end="url(#gt)"/><path d="M141.3 342.4L165.1 326.9 204.6 309 130.6 354.2 171.9 322.2 160.7 332.7 214.4 309.5 177.6 327.5 141.4 340.2 168.2 321.2 151 329 161.7 341.1 199.3 308.4 107.6 362.1 128.2 356.9 140.8 337.6 102.2 364.6 196.2 308.4 128.3 346.5 132.8 353.6 152.5 354.2 134.3 357.8 206.6 325.5 148.4 341.5 193 364.9 107.5 367.7 106.4 372 101 368.7 165.7 332.9 153.9 349.9 144.3 345.4 115.7 352.1 167.4 324.4 175.7 315.2 112.1 360.4" fill="none" marker-start="url(#gc)" marker-mid="url(#gc)" marker-end="url(#gc)"/><path d="M117.8 357.5L214.5 285 203.9 336.4 136.4 355.9" fill="none" marker-start="url(#gt)" marker-mid="url(#gt)" marker-end="url(#gt)"/><path d="M481.3 329L453 349.9 471.8 336.9 478.3 329.5 505 311.2 460.2 345.8 484.1 331 485 329 473.3 340.4 524.2 315.4 457.9 346.7 482.6 335.2 507.3 322 472.3 336.9 476.1 337.1 465 338.4 480.9 335.3 435.1 360.5 443.6 356 482 329.1 436.8 359.3 444.6 362.7 467.4 347 449.9 357.5 449 356.8 465.2 346.7 494.7 321.6 478.3 336.1 475.9 348.4 475.1 362.2" fill="none" marker-start="url(#gc)" marker-mid="url(#gc)" marker-end="url(#gc)"/><path d="M511.2 358L411.8 375.5 491.1 319.1" fill="none" marker-start="url(#gt)" marker-mid="url(#gt)" marker-end="url(#gt)"/><path d="M257.6 510.4L74.4 504 275.1 493.2 74.5 514.2 273 509.9 278.4 506.9 257.2 507.6 74 514 202.9 505.7 91 510.3 77.2 510.5 78.6 519.2 279.5 509.9 171.1 498.6 103.6 510.7 135.6 505.6 73 511 106 496 106.5 521 105 490 50.8 504 51.3 519.7 258.3 505.1 48.5 511 170.7 526.1 281.8 513.3 257.2 516.9 277.9 503.6 276 509.6 275 514.8 79.1 512.7 51.1 513.7 125.6 488 277.9 505.8 72.5 507 120 511 275.3 515.9 169.2 510.9 275.3 512 275.1 516.6 104.5 517 107 502 55.9 512.8 120.5 515 277.8 515.8 272.2 508.4" fill="none" marker-start="url(#gc)" marker-mid="url(#gc)" marker-end="url(#gc)"/><path d="M120 497L277.8 512.6 254.7 507.8 105 486 260.1 515.5 109.6 532.3 60 512.7 274.8 513.3" fill="none" marker-start="url(#gt)" marker-mid="url(#gt)" marker-end="url(#gt)"/><path d="M606.4 519.6L608.1 521.2 602.3 514.8 432 511 448.2 513 581.5 520.5 434.3 522 427.2 519.7 452.9 500.6 582.7 507.5 432.3 508 598.5 512.8 577.2 507.4 528.4 501.6 579.6 512.2 383.4 511.5 399.3 506.6 433.3 505.3 404.9 511.8 407.9 509.8 584.2 513 375.5 506.6 442.7 508.7 446.9 508 433.3 511 607.1 514 434.3 513.3 605.4 516.3 431.6 519 429.5 506.5 381.7 508" fill="none" marker-start="url(#gc)" marker-mid="url(#gc)" marker-end="url(#gc)"/><path d="M608 497.7L581.4 514.1 436.2 501.3 583 503.5 602.7 520.6 410.1 502.5" fill="none" marker-start="url(#gt)" marker-mid="url(#gt)" marker-end="url(#gt)"/><path d="M275 711.3L120.6 635 74.4 710.5 277.9 651.4 91 664 78.6 704.4 275.1 650 275.1 641 169.2 644.3 108.6 634 74.5 710.2 272.2 637.7 103.6 719.1 257.6 685.7 273 693.3 48.5 704 50.8 680.7 202.9 685 72 705.6 170.7 687.8 51.3 713.2 277.9 657.5 275.3 708.5 72.6 689 79.1 679 135.6 650.8 279.5 675 77.2 718.2 281.8 668.5 258.3 662.6 125.6 643.4 48.5 638 119.9 709.6 257.2 655.8 55.9 682.9 106.6 717 276 644.8 275.3 665.7 104.2 682.7 277.8 673 257.2 712.7 171.1 674.5 48.5 682 106.6 713.6 51.1 665.6 106.6 708 278.4 649.5" fill="none" marker-start="url(#gc)" marker-mid="url(#gc)" marker-end="url(#gc)"/><path d="M58 653L274.8 633.8 260.1 636.8 254.7 686.6 277.8 663.6 60 710.9" fill="none" marker-start="url(#gt)" marker-mid="url(#gt)" marker-end="url(#gt)"/><path d="M404.9 716.7L605.4 658 433.6 690.2 432 642.6 577.2 642.4 433.3 703.8 446.9 700.9 429.5 721.2 582.7 689.1 399.3 652.1 581.5 667.6 452.9 649 427.2 654.1 579.6 647.2 607.1 681.8 407.9 662.8 528.4 647.2 431.6 694.2 434.3 694.2 602.3 653.9 606.4 654.2 436.2 652.3 383.4 666.8 442.7 669 432.9 708.9 608.1 642.2 426.9 649.6 584.2 662.7 447.6 643 598.5 687.2" fill="none" marker-start="url(#gc)" marker-mid="url(#gc)" marker-end="url(#gc)"/><path d="M436.2 633L583 702 447.6 716.2 410.1 649.9 381.7 660.3 375.5 675.6 581.4 681.3 608 705 602.7 647.5" fill="none" marker-start="url(#gt)" marker-mid="url(#gt)" marker-end="url(#gt)"/></svg></body></html>
